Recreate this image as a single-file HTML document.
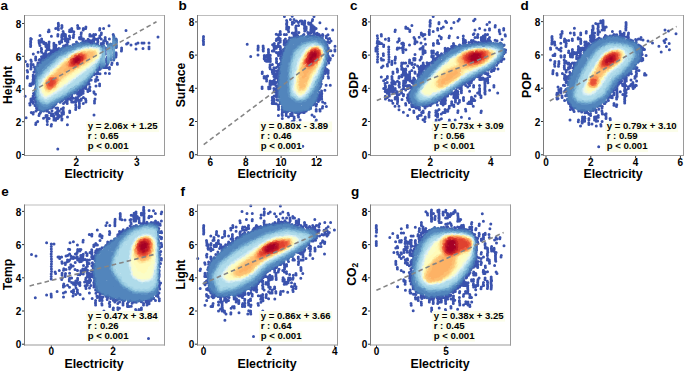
<!DOCTYPE html>
<html><head><meta charset="utf-8"><style>
html,body{margin:0;padding:0;background:#fff;}
body{width:685px;height:372px;position:relative;overflow:hidden;font-family:"Liberation Sans", sans-serif;}
</style></head><body>
<svg width="685" height="372" viewBox="0 0 685 372" style="position:absolute;left:0;top:0">
<g font-family='"Liberation Sans", sans-serif' font-weight="bold" fill="#000">
<g fill="none" stroke-width="3.0" stroke-linecap="round"><path stroke="#3a52ad" d="M68.0 42.1h0M76.5 41.9h0M88.6 41.7h0M90.1 41.6h0M66.0 44.9h0M67.2 44.8h0M63.5 45.9h0M58.9 48.4h0M50.9 52.4h0M104.0 54.6h0M39.6 59.6h0M41.8 59.5h0M102.4 63.4h0M34.4 66.9h0M33.9 72.1h0M34.3 77.1h0M34.0 80.1h0M91.2 79.9h0M33.4 80.7h0M32.8 82.4h0M89.1 84.1h0M80.0 90.9h0M33.5 93.5h0M34.0 93.5h0M76.9 92.5h0M78.6 93.3h0M34.1 94.9h0M67.1 98.6h0M35.0 105.6h0M36.5 107.9h0M40.2 112.9h0M25.4 61.6h0M25.2 96.2h0M27.4 64.5h0M27.6 65.9h0M27.2 70.4h0M27.6 71.9h0M27.4 76.5h0M27.3 78.0h0M30.1 83.9h0M29.9 85.4h0M29.7 103.4h0M30.0 105.1h0M31.3 39.0h0M30.9 60.0h0M31.3 61.4h0M31.0 64.3h0M31.1 66.1h0M31.2 67.4h0M30.9 68.9h0M31.2 84.1h0M30.9 85.4h0M30.9 99.1h0M31.0 100.6h0M31.0 101.8h0M31.3 112.4h0M33.3 54.0h0M33.1 64.4h0M33.2 75.0h0M33.2 76.6h0M33.4 77.8h0M33.1 79.6h0M33.1 80.9h0M33.1 82.5h0M33.3 84.1h0M33.1 96.0h0M33.0 97.4h0M33.3 99.1h0M33.0 101.9h0M33.2 103.3h0M33.4 112.6h0M33.1 114.1h0M35.7 57.0h0M35.6 58.5h0M35.7 59.9h0M35.6 70.5h0M36.0 72.2h0M35.6 76.3h0M35.8 78.1h0M36.0 79.6h0M35.9 80.9h0M35.6 82.6h0M35.7 88.5h0M35.8 89.8h0M35.6 91.5h0M35.6 93.1h0M35.8 94.6h0M36.1 96.1h0M35.9 97.5h0M35.7 98.8h0M35.8 100.5h0M35.9 102.0h0M36.0 111.1h0M35.9 122.9h0M35.7 124.5h0M38.1 52.3h0M37.9 62.9h0M37.8 64.3h0M38.0 65.9h0M38.2 105.0h0M37.8 106.3h0M37.9 108.0h0M39.0 40.5h0M39.1 42.1h0M39.3 43.6h0M39.1 59.9h0M39.3 108.0h0M39.3 109.4h0M39.4 114.1h0M39.0 115.4h0M41.6 39.0h0M41.6 40.7h0M41.4 42.0h0M41.3 48.2h0M41.6 49.5h0M41.3 51.2h0M41.6 52.3h0M41.5 56.8h0M41.7 58.5h0M41.4 63.1h0M43.6 42.0h0M43.8 43.6h0M43.7 53.9h0M43.7 55.3h0M43.6 56.8h0M43.6 111.1h0M43.5 118.3h0M45.8 43.3h0M45.7 44.9h0M45.9 46.5h0M46.0 51.1h0M45.7 52.6h0M46.0 53.9h0M45.9 55.7h0M45.9 56.8h0M45.6 109.5h0M46.0 115.6h0M45.9 117.0h0M47.5 45.2h0M47.2 46.4h0M47.1 48.1h0M47.1 49.4h0M47.4 109.4h0M47.3 110.9h0M47.2 115.4h0M47.2 117.1h0M47.5 118.6h0M47.1 119.9h0M47.3 121.5h0M47.3 124.5h0M48.9 30.1h0M49.1 31.6h0M49.1 41.9h0M48.9 43.6h0M48.9 45.1h0M48.9 46.4h0M48.9 48.2h0M49.0 49.5h0M48.9 54.0h0M49.1 55.6h0M49.0 56.9h0M49.2 112.5h0M49.2 118.5h0M51.4 36.2h0M51.1 50.8h0M51.4 52.5h0M51.4 54.0h0M51.1 55.6h0M51.5 113.8h0M51.2 115.6h0M51.5 124.6h0M51.2 126.1h0M53.9 43.3h0M53.9 44.9h0M54.0 46.5h0M54.0 48.0h0M53.7 49.4h0M53.6 51.0h0M53.6 52.5h0M53.9 53.9h0M53.6 104.8h0M53.8 115.7h0M53.7 116.8h0M54.0 118.5h0M53.9 120.1h0M55.7 28.5h0M56.0 45.2h0M55.7 46.6h0M55.9 48.2h0M55.9 49.5h0M55.6 51.1h0M56.0 103.4h0M55.9 107.9h0M55.6 112.7h0M56.0 114.1h0M56.0 118.6h0M55.7 120.2h0M57.9 34.4h0M57.8 36.1h0M57.5 49.4h0M57.8 51.2h0M57.7 108.1h0M57.8 109.5h0M57.7 110.8h0M57.4 112.4h0M57.7 114.0h0M57.7 115.6h0M57.6 117.2h0M57.7 118.4h0M59.3 42.1h0M59.6 43.6h0M59.4 49.6h0M59.4 51.1h0M59.2 111.0h0M59.2 115.4h0M59.3 116.9h0M61.9 25.4h0M62.0 27.0h0M61.6 28.3h0M62.0 34.4h0M61.7 35.9h0M61.7 37.5h0M62.0 39.1h0M61.6 40.6h0M61.7 41.9h0M61.7 49.4h0M62.0 99.0h0M61.9 100.4h0M61.8 112.7h0M62.0 114.1h0M62.0 118.7h0M61.8 120.1h0M63.1 31.4h0M63.4 33.1h0M63.4 34.4h0M63.1 36.1h0M63.5 103.6h0M63.4 107.8h0M63.2 109.5h0M63.3 111.2h0M63.5 112.5h0M63.5 114.1h0M65.4 34.6h0M65.6 35.9h0M65.5 37.4h0M65.3 38.9h0M65.4 40.7h0M65.6 45.2h0M65.6 48.0h0M65.6 97.4h0M65.6 98.9h0M65.4 102.0h0M67.3 39.1h0M67.5 40.7h0M67.2 42.0h0M67.3 95.9h0M67.5 97.4h0M67.5 99.1h0M67.1 100.6h0M67.2 101.8h0M67.2 103.6h0M67.5 116.9h0M67.4 124.7h0M69.7 29.9h0M69.5 31.5h0M69.4 36.1h0M69.8 37.6h0M69.5 39.0h0M69.6 98.9h0M69.7 110.9h0M69.7 112.4h0M71.7 28.6h0M71.8 29.9h0M71.4 31.6h0M71.7 94.4h0M71.7 96.0h0M71.4 97.6h0M71.4 100.6h0M71.7 102.0h0M73.8 31.7h0M73.8 34.6h0M73.5 35.9h0M73.3 37.5h0M73.5 101.9h0M75.9 97.7h0M75.8 98.8h0M75.7 100.6h0M75.7 102.2h0M75.7 105.1h0M76.0 106.7h0M75.8 107.8h0M75.7 109.5h0M77.6 25.5h0M77.8 27.2h0M77.9 28.5h0M77.6 94.3h0M77.5 97.6h0M77.6 98.9h0M77.8 100.3h0M79.3 28.3h0M79.5 37.4h0M79.6 38.8h0M79.5 88.5h0M79.4 91.6h0M79.3 93.2h0M79.5 94.4h0M79.3 95.9h0M79.4 100.3h0M79.2 101.9h0M79.4 103.3h0M79.4 105.0h0M79.4 106.6h0M79.2 107.8h0M81.3 32.8h0M81.1 34.6h0M81.2 37.3h0M80.9 38.9h0M81.2 43.6h0M81.1 86.8h0M80.9 88.5h0M81.2 90.0h0M81.0 92.8h0M81.2 94.5h0M81.3 98.9h0M81.1 100.3h0M83.3 28.6h0M83.2 30.1h0M83.5 38.9h0M83.1 40.5h0M83.3 42.1h0M83.0 43.4h0M83.1 85.7h0M83.4 86.8h0M83.4 88.5h0M83.1 90.1h0M83.2 91.6h0M83.1 93.2h0M83.4 97.6h0M83.3 103.4h0M85.9 27.1h0M85.7 28.5h0M85.7 41.9h0M85.8 84.0h0M85.9 85.3h0M85.8 87.0h0M85.9 88.4h0M85.5 99.1h0M85.9 100.5h0M85.9 102.1h0M88.1 39.2h0M88.0 40.4h0M88.1 42.0h0M88.1 43.4h0M88.1 81.2h0M88.1 82.3h0M88.0 83.9h0M87.8 90.1h0M87.9 91.5h0M89.9 34.6h0M89.8 35.9h0M89.8 40.4h0M89.9 42.2h0M89.8 43.3h0M89.8 77.8h0M89.9 87.0h0M89.5 88.4h0M91.7 35.9h0M91.8 42.1h0M91.7 43.4h0M93.7 34.6h0M93.7 36.2h0M93.9 37.3h0M93.7 38.9h0M93.7 40.6h0M93.7 41.8h0M93.9 43.6h0M93.8 73.3h0M93.9 74.8h0M93.9 91.7h0M94.1 93.1h0M95.6 34.6h0M95.8 39.2h0M95.7 79.5h0M95.5 81.2h0M95.5 94.3h0M97.7 39.0h0M97.7 40.5h0M97.9 41.8h0M97.5 43.5h0M97.7 45.2h0M97.6 69.0h0M97.9 70.4h0M97.6 71.9h0M97.8 73.6h0M99.8 28.6h0M99.8 36.0h0M99.7 37.4h0M99.8 63.1h0M100.0 64.5h0M99.7 66.1h0M99.5 67.5h0M100.0 69.2h0M100.0 73.7h0M99.6 83.9h0M99.6 85.7h0M101.4 32.9h0M101.2 34.4h0M101.2 38.9h0M101.2 43.5h0M101.4 45.1h0M101.1 46.6h0M101.2 60.1h0M103.6 28.4h0M103.8 40.7h0M103.5 42.0h0M103.5 43.4h0M103.9 61.5h0M103.5 63.0h0M103.9 64.6h0M104.0 65.9h0M103.7 67.6h0M105.2 37.4h0M105.2 39.0h0M105.5 40.7h0M105.5 48.1h0M105.5 49.7h0M105.2 50.9h0M105.2 52.7h0M105.4 53.9h0M105.3 59.8h0M105.5 61.4h0M105.3 66.1h0M105.3 67.5h0M105.4 73.3h0M107.2 42.2h0M107.2 43.5h0M107.3 57.2h0M107.0 58.3h0M107.2 59.9h0M107.3 61.4h0M106.9 63.0h0M107.3 64.6h0M107.1 67.5h0M109.4 38.9h0M109.5 44.9h0M109.7 46.4h0M109.7 48.0h0M109.3 49.7h0M109.6 51.0h0M109.2 52.4h0M109.5 67.4h0M109.4 69.1h0M109.4 73.6h0M111.7 46.7h0M112.1 49.3h0M112.0 63.0h0M111.7 64.5h0M113.2 34.5h0M113.5 43.5h0M113.4 44.8h0M116.0 52.7h0M116.2 53.9h0M116.1 55.6h0M115.9 57.1h0M117.3 63.2h0M117.4 64.3h0M121.6 48.1h0M121.6 49.7h0M121.4 50.9h0M40.0 35.4h0M48.3 31.8h0M77.6 56.9h0M39.9 45.5h0M99.6 30.0h0M109.0 25.7h0M95.6 34.5h0M64.8 39.0h0M74.8 53.8h0M92.7 39.9h0M43.6 57.5h0M85.9 40.9h0M57.9 110.8h0M73.1 98.2h0M42.0 108.1h0M45.8 103.0h0M57.4 111.3h0M52.9 114.0h0M39.7 109.3h0M61.4 116.0h0M37.7 121.4h0M52.0 110.8h0M61.4 109.0h0M26.1 117.8h0M36.7 110.0h0M43.7 100.3h0M54.7 104.3h0M80.4 81.2h0M81.9 82.8h0M97.8 80.1h0M89.9 90.6h0M84.8 88.0h0M96.4 73.7h0M96.9 76.9h0M88.6 74.1h0M126.0 30.6h0M126.6 44.0h0M128.0 43.0h0M131.0 45.0h0M136.0 44.0h0M138.0 43.0h0M142.0 43.0h0M144.0 43.0h0M149.0 43.0h0M149.0 47.0h0M136.0 49.0h0M143.0 48.5h0M149.0 48.7h0M158.0 37.0h0M57.8 148.9h0M94.0 115.0h0M95.0 99.0h0M94.5 101.0h0M94.5 103.0h0M96.0 86.0h0M30.7 38.5h0M30.8 39.9h0M30.6 41.2h0M30.7 42.5h0M30.5 43.9h0M30.7 45.2h0M30.6 46.6h0M58.3 23.3h0M58.4 24.6h0M58.5 25.9h0M58.1 27.2h0M58.3 28.5h0M58.4 29.8h0M85.2 41.7h0M91.3 41.9h0M35.1 69.1h0M44.5 58.2h0M65.4 46.2h0M104.1 52.1h0M34.9 99.0h0M99.2 68.8h0M103.3 56.0h0M83.4 87.5h0M77.7 91.6h0M46.6 111.1h0M37.6 108.4h0M52.3 107.5h0M100.9 45.4h0M88.8 81.5h0M48.4 55.5h0M51.0 54.0h0"/><path stroke="#3e5eaf" d="M102.4 47.0h0M35.4 68.9h0M53.6 106.5h0M35.9 104.4h0M67.2 45.9h0M35.7 100.5h0M68.8 96.5h0M74.5 93.0h0M50.4 108.3h0M60.2 102.2h0M49.2 55.3h0M98.0 69.4h0M35.0 90.3h0M102.9 48.2h0M101.9 60.3h0M52.7 106.8h0M65.7 98.7h0M40.8 111.7h0M116.1 39.0h0M116.2 47.4h0M40.1 62.6h0M96.4 43.9h0M62.0 100.7h0M88.0 81.9h0M86.7 42.3h0M84.8 85.3h0M86.2 84.3h0M41.7 61.3h0M113.7 36.0h0M113.7 60.0h0M71.6 94.5h0M35.5 76.8h0M73.0 44.7h0M81.9 42.7h0M89.7 79.5h0"/><path stroke="#426ab2" d="M43.3 60.0h0M37.7 106.3h0M80.9 87.9h0M76.7 90.9h0M75.2 91.9h0M61.9 48.5h0M63.1 99.7h0M94.0 43.3h0M36.4 67.1h0M86.5 83.6h0M91.4 76.5h0M36.1 75.2h0M55.1 104.5h0M36.4 103.7h0M35.6 89.2h0M63.3 47.8h0M66.1 97.4h0M39.1 109.2h0M43.8 110.6h0M60.3 49.3h0M97.8 45.2h0M114.0 37.0h0M113.9 59.0h0M116.3 40.0h0M116.3 46.4h0M101.3 48.0h0M101.3 68.0h0M100.8 46.3h0M74.4 44.5h0M48.2 109.0h0M84.0 42.9h0M36.5 71.0h0M36.5 71.8h0M37.5 105.6h0M82.7 86.5h0M48.3 56.8h0M45.0 110.1h0M54.5 104.6h0M43.0 61.2h0M77.9 43.6h0M36.0 78.0h0M76.7 43.9h0M38.0 65.5h0M38.6 65.0h0M41.8 110.6h0"/><path stroke="#4676b5" d="M96.4 69.9h0M36.1 95.1h0M113.8 38.0h0M114.0 58.0h0M70.1 94.7h0M66.3 47.7h0M36.9 67.4h0M100.4 61.9h0M67.7 96.0h0M62.5 49.2h0M55.6 52.9h0M80.7 87.6h0M78.9 88.3h0M73.2 92.7h0M52.9 54.4h0M36.3 99.0h0M54.0 54.2h0M84.1 85.1h0M68.5 47.0h0M70.1 46.3h0M49.7 107.6h0M51.7 55.7h0M39.3 108.7h0M54.4 104.2h0M80.6 43.5h0M101.3 49.0h0M101.4 67.0h0M61.2 50.0h0M36.1 81.0h0M116.5 41.1h0M116.4 45.3h0M46.6 59.0h0M35.9 92.8h0M36.8 70.6h0M81.9 43.6h0M52.9 105.1h0M103.8 46.0h0M108.2 45.0h0M110.7 44.0h0M103.8 66.0h0M108.0 63.0h0M110.9 60.0h0M36.9 72.3h0M48.2 58.2h0M69.7 94.5h0M59.5 50.8h0M35.9 82.5h0M36.2 90.6h0M35.9 87.3h0M39.9 109.2h0M58.1 101.3h0M102.3 55.0h0M92.0 75.1h0M56.8 52.6h0M36.2 84.9h0M88.6 44.1h0M50.6 106.7h0M113.7 39.0h0M113.6 57.0h0M66.2 96.3h0M77.2 44.4h0M102.3 49.1h0M58.8 51.6h0M96.3 69.5h0M76.2 89.9h0M42.4 62.4h0M86.8 43.8h0M86.9 80.9h0M80.1 43.9h0M52.3 55.6h0M57.3 101.4h0M85.9 43.9h0M70.3 93.7h0M48.3 107.4h0M54.9 102.9h0M42.5 109.3h0M64.0 97.6h0M37.4 73.9h0M83.1 85.1h0M87.9 79.5h0M45.3 60.3h0M38.4 104.9h0M39.0 106.0h0M116.5 42.1h0M116.1 44.2h0M61.3 50.3h0M78.4 88.0h0M76.9 88.9h0M39.4 65.3h0"/><path stroke="#5285bc" d="M89.8 77.1h0M55.4 102.6h0M59.3 100.0h0M37.7 75.1h0M85.4 82.5h0M101.7 50.0h0M101.3 66.0h0M45.5 108.3h0M39.9 107.4h0M36.5 95.4h0M38.1 102.8h0M89.6 77.5h0M66.9 48.3h0M84.6 83.7h0M37.8 68.6h0M48.6 106.8h0M71.6 92.5h0M80.1 44.4h0M40.6 65.1h0M111.0 45.0h0M110.6 59.0h0M43.0 109.2h0M88.3 44.6h0M113.9 40.0h0M114.0 56.0h0M116.2 43.2h0M43.4 62.7h0M36.6 80.1h0M78.0 45.2h0M108.4 46.0h0M108.2 62.0h0M49.2 106.4h0M55.5 54.4h0M59.1 52.6h0M92.3 73.9h0M104.0 47.0h0M104.1 65.0h0M71.0 47.5h0M72.4 47.0h0M47.1 107.7h0M88.6 78.3h0M97.3 67.5h0M52.3 103.9h0M62.6 97.9h0M41.5 108.5h0M50.9 57.6h0M63.1 50.4h0M68.4 48.6h0M47.1 60.4h0M38.4 70.6h0M64.3 49.8h0M80.2 86.5h0M58.0 100.7h0M40.6 106.8h0M101.6 58.1h0M61.4 98.4h0M38.1 101.7h0M52.9 56.5h0M102.1 48.4h0M50.0 58.5h0M54.1 56.1h0M72.7 91.6h0M56.7 54.4h0M73.5 46.9h0M60.0 52.7h0M40.4 65.8h0M66.5 49.5h0M74.8 46.6h0M60.6 99.1h0M54.4 102.5h0M47.4 60.6h0M76.4 45.9h0M53.5 56.6h0M45.4 62.1h0M43.3 107.8h0M50.6 58.3h0M42.1 64.9h0M39.0 68.8h0M46.6 61.3h0M40.0 104.9h0M80.7 85.8h0M39.5 68.0h0M71.5 48.0h0M67.3 49.6h0M45.1 63.0h0M72.9 91.0h0M49.4 60.2h0M42.2 65.9h0M39.0 102.9h0M51.9 58.7h0M36.3 92.0h0M55.6 56.1h0M44.1 64.8h0M41.0 68.0h0M46.3 62.8h0M58.6 53.9h0M48.5 61.4h0M44.8 64.3h0M102.4 50.9h0M43.0 66.5h0M64.6 51.1h0M38.3 102.2h0M41.8 67.8h0M40.8 69.6h0M39.5 72.6h0M68.6 49.5h0M41.6 69.6h0M45.2 107.1h0M51.1 60.2h0M40.5 71.0h0M53.4 58.0h0M43.9 67.2h0M42.2 106.1h0M39.1 74.1h0M36.6 84.0h0M62.8 51.9h0M40.7 71.6h0M66.6 50.4h0M54.9 57.1h0M75.2 89.6h0M81.0 45.4h0M50.3 104.7h0M57.5 55.2h0M99.3 46.7h0M48.9 62.5h0M48.6 62.8h0M47.5 64.2h0M44.5 67.2h0M47.0 64.7h0M43.7 106.4h0M45.3 66.0h0M85.7 44.9h0M113.6 41.0h0M113.8 55.0h0M101.0 59.0h0M60.4 53.7h0M98.6 64.9h0M93.5 45.2h0M50.8 61.2h0M50.0 61.9h0M87.1 45.1h0M67.4 50.4h0M101.6 51.0h0M101.6 65.0h0M61.9 53.1h0M73.5 48.1h0M70.1 49.5h0M64.3 52.0h0M83.0 45.6h0M40.6 103.3h0M94.1 72.0h0M46.1 106.1h0M70.8 91.9h0M51.5 103.4h0M110.8 46.0h0M110.6 58.0h0M52.6 60.6h0M49.5 104.5h0M95.4 45.6h0M78.6 46.7h0M91.3 45.0h0M59.1 55.2h0M44.6 68.4h0M83.9 45.6h0M67.0 94.7h0M54.9 58.4h0M42.4 70.8h0"/><path stroke="#5e93c4" d="M108.3 47.0h0M108.3 61.0h0M69.0 50.4h0M37.9 77.2h0M83.0 83.7h0M58.3 99.3h0M45.9 67.1h0M47.1 65.9h0M44.1 105.4h0M39.1 75.5h0M62.7 53.7h0M71.5 49.3h0M86.2 80.4h0M46.7 105.7h0M75.1 89.2h0M104.1 48.0h0M104.1 64.0h0M37.9 100.2h0M61.6 53.8h0M44.1 69.4h0M42.6 104.6h0M113.8 42.0h0M113.6 54.0h0M68.9 92.9h0M52.7 102.6h0M51.0 62.4h0M49.7 64.0h0M48.3 104.7h0M49.3 103.8h0M74.1 89.4h0M43.2 70.8h0M98.8 62.9h0M41.0 73.6h0M94.3 45.3h0M41.6 73.1h0M101.5 52.0h0M101.7 64.0h0M77.6 87.2h0M100.2 60.6h0M101.5 56.9h0M83.8 82.1h0M37.9 99.3h0M70.3 50.7h0M57.4 57.0h0M79.4 47.0h0M42.6 71.9h0M75.2 48.3h0M60.5 98.1h0M48.4 65.4h0M113.6 43.0h0M113.8 53.0h0M110.7 47.0h0M111.0 57.0h0M79.5 85.3h0M54.4 60.2h0M45.0 104.8h0M56.5 100.1h0M41.4 103.2h0M54.4 101.0h0M73.0 49.6h0M89.6 45.4h0M51.3 102.4h0M40.9 102.4h0M38.7 100.2h0M102.0 54.1h0M64.6 95.6h0M108.3 48.0h0M108.1 60.0h0M61.9 97.1h0M58.1 56.8h0M37.0 91.2h0M52.1 62.5h0M104.2 49.0h0M104.1 63.0h0M80.8 47.1h0M56.1 100.1h0M37.0 90.1h0M113.9 44.0h0M113.8 52.0h0M76.9 47.9h0M84.0 81.4h0M68.0 92.9h0M101.4 53.0h0M101.3 63.0h0M64.9 94.9h0M59.3 55.9h0M49.1 65.3h0M46.2 68.7h0"/><path stroke="#6aa2cb" d="M39.0 76.9h0M65.1 53.5h0M38.1 78.3h0M85.5 79.9h0M81.1 84.1h0M62.5 96.4h0M71.5 90.5h0M65.7 94.5h0M76.6 87.1h0M91.4 73.9h0M110.8 48.0h0M111.0 56.0h0M113.8 45.0h0M113.6 51.0h0M73.4 89.0h0M86.4 79.2h0M88.6 77.1h0M61.8 55.2h0M89.8 75.5h0M53.0 61.8h0M66.3 52.8h0M82.2 82.8h0M65.7 53.6h0M113.7 46.0h0M113.7 50.0h0M102.1 52.2h0M101.5 54.0h0M101.4 62.0h0M108.0 49.0h0M108.1 59.0h0M56.6 58.9h0M55.5 60.0h0M97.4 46.3h0M113.9 47.0h0M113.7 49.0h0M80.6 47.7h0M113.7 48.0h0M103.9 50.0h0M103.9 62.0h0M110.7 49.0h0M110.7 55.0h0M94.0 46.1h0M71.7 51.2h0M37.6 81.0h0M37.8 97.9h0M82.9 46.8h0M101.4 55.0h0M101.7 61.0h0M100.0 47.3h0M94.5 70.2h0M75.1 49.6h0M43.1 73.0h0M61.5 96.5h0M37.8 79.4h0M92.8 71.8h0M56.4 99.1h0M55.3 99.6h0M37.6 81.8h0M67.7 53.1h0M41.2 75.6h0M108.2 50.0h0M108.1 58.0h0M92.1 46.2h0"/><path stroke="#77afd2" d="M110.6 50.0h0M110.8 54.0h0M37.5 93.0h0M69.1 91.3h0M65.8 93.5h0M37.3 83.5h0M78.4 85.1h0M44.1 71.9h0M37.4 85.2h0M101.4 56.0h0M101.5 60.0h0M55.1 61.2h0M37.5 87.3h0M41.8 102.1h0M37.4 88.9h0M97.0 65.4h0M110.9 51.0h0M110.7 53.0h0M101.4 57.0h0M101.5 59.0h0M104.2 51.0h0M104.0 61.0h0M96.2 46.7h0M77.8 48.6h0M98.6 62.0h0M87.0 46.7h0M53.1 100.4h0M101.5 58.0h0M110.7 52.0h0M84.0 46.9h0M63.6 95.0h0M43.5 102.9h0M108.4 51.0h0M108.4 57.0h0M81.6 82.7h0M41.1 76.2h0M86.8 77.5h0M95.8 67.2h0M97.6 63.9h0M50.6 65.7h0M82.8 81.1h0M96.4 65.9h0M47.7 103.1h0M39.5 78.0h0M75.4 86.4h0M37.8 95.9h0M108.2 52.0h0M108.2 56.0h0M103.8 52.0h0M103.8 60.0h0M54.4 61.9h0M90.6 74.1h0M54.2 62.5h0M45.4 71.1h0"/><path stroke="#85bbd8" d="M108.1 53.0h0M108.1 55.0h0M38.9 98.7h0M37.8 94.3h0M40.8 100.7h0M70.2 52.7h0M101.0 49.0h0M108.3 54.0h0M49.2 102.0h0M93.4 70.3h0M68.9 52.8h0M71.5 88.8h0M46.5 69.9h0M58.1 59.2h0M79.6 48.4h0M51.6 64.9h0M56.9 60.1h0M93.6 46.3h0M46.6 103.0h0M66.8 91.8h0M73.7 87.7h0M104.2 53.0h0M103.9 59.0h0M44.7 72.3h0M49.1 67.6h0M48.5 67.8h0M94.0 69.6h0M40.0 78.0h0M86.0 46.8h0M77.8 49.1h0M59.8 57.3h0M50.6 101.0h0M69.0 90.5h0M75.5 85.8h0M45.4 102.8h0M84.3 78.9h0M39.1 97.9h0M103.8 54.0h0M103.8 58.0h0M91.6 72.3h0M71.1 88.9h0M85.3 78.1h0M79.1 83.7h0M75.9 85.7h0M41.6 76.5h0M98.8 60.1h0M43.6 102.2h0M104.2 57.0h0M104.2 55.0h0M52.5 64.4h0M60.0 96.0h0M58.2 97.2h0M103.8 56.0h0M63.5 56.0h0M47.6 69.5h0M79.5 83.1h0M44.7 102.6h0M38.5 95.4h0M70.1 89.6h0M39.0 79.9h0M42.3 75.7h0M78.1 84.0h0M96.6 64.3h0M97.6 62.4h0"/><path stroke="#93c6df" d="M38.4 94.6h0M69.0 53.5h0M67.9 54.1h0M98.2 61.5h0M72.1 52.2h0M73.2 51.3h0M41.8 100.6h0M38.6 93.3h0M65.8 91.8h0M47.4 102.1h0M64.4 93.2h0M88.6 46.9h0M59.4 58.5h0M63.6 93.5h0M94.5 67.7h0M87.5 75.6h0M54.9 97.9h0M53.8 98.7h0M51.9 99.5h0M93.4 68.8h0M89.7 46.8h0M38.3 91.1h0M61.7 57.3h0M45.9 71.9h0M43.3 74.8h0M88.5 74.6h0M38.6 90.5h0M91.8 71.1h0M100.6 56.6h0M39.0 81.9h0M101.0 53.0h0M61.4 94.3h0M53.8 64.2h0M80.9 80.9h0M56.6 97.0h0M40.7 98.5h0M46.2 101.8h0M58.9 59.4h0M47.7 70.5h0M86.6 75.8h0M64.9 56.2h0M76.9 50.0h0M64.1 56.6h0M49.3 68.5h0M45.5 73.0h0"/><path stroke="#a1d1e5" d="M85.9 47.7h0M84.1 78.2h0M78.0 82.9h0M59.1 95.4h0M48.1 101.0h0M49.0 100.5h0M39.3 80.8h0M39.9 97.5h0M85.6 76.7h0M77.1 83.7h0M82.1 79.5h0M65.5 56.1h0M96.6 47.4h0M38.9 86.4h0M60.5 94.6h0M84.0 48.0h0M52.4 66.2h0M73.2 52.0h0M56.5 96.3h0M67.3 55.2h0M57.0 61.8h0M66.4 90.7h0M43.0 76.7h0M55.9 62.9h0M94.4 66.1h0M93.4 67.4h0M98.8 59.0h0M79.0 49.5h0M67.5 89.6h0M70.6 53.7h0M94.8 64.8h0M39.5 84.2h0M41.9 77.9h0M64.9 91.2h0M58.3 61.0h0M54.4 96.9h0M71.6 86.5h0M51.6 67.4h0M50.6 99.1h0M45.6 100.8h0M43.6 99.9h0M76.4 82.8h0M73.5 84.8h0M72.1 86.1h0M89.9 71.7h0M39.5 85.0h0M63.3 57.6h0M82.5 77.8h0M40.5 80.7h0M68.8 87.9h0M42.9 99.5h0M63.2 92.0h0M74.4 51.6h0M74.6 84.2h0M79.6 80.7h0M88.2 73.1h0M41.8 98.7h0M58.5 94.3h0M88.7 47.5h0M90.5 70.5h0M65.7 56.7h0M55.0 64.4h0M85.3 75.0h0M61.9 58.4h0M41.0 79.9h0"/><path stroke="#afdbea" d="M59.9 60.2h0M51.5 98.1h0M68.8 87.5h0M74.0 84.1h0M44.8 75.2h0M91.7 69.2h0M61.6 92.6h0M46.1 100.6h0M77.7 81.7h0M84.2 75.9h0M56.8 94.8h0M51.9 67.7h0M80.5 78.9h0M81.3 77.9h0M82.9 48.6h0M70.1 86.6h0M55.2 95.9h0M50.9 68.7h0M98.8 48.3h0M77.1 81.6h0M75.5 82.3h0M79.2 80.1h0M72.5 84.6h0M86.9 73.2h0M40.6 96.2h0M46.2 73.8h0M85.5 73.9h0M70.2 85.8h0M65.2 89.6h0M41.7 97.3h0M83.0 76.2h0M67.2 87.9h0M95.8 62.8h0M65.6 89.1h0M84.6 74.6h0M78.5 79.3h0M100.5 51.2h0M88.0 71.3h0M52.4 97.1h0M88.3 70.8h0M59.9 92.7h0M76.9 79.9h0M63.3 90.1h0M80.1 77.7h0M69.3 85.5h0M67.3 87.2h0M78.6 78.3h0M81.1 76.7h0M40.4 81.8h0M49.4 98.3h0M47.6 72.4h0M84.1 73.9h0M73.1 82.3h0M75.4 80.3h0M86.8 71.5h0M54.2 65.8h0M58.3 93.0h0M41.5 80.1h0M71.8 83.1h0M70.2 84.4h0M79.3 77.0h0M89.9 69.2h0M49.7 70.7h0M61.0 91.1h0M56.8 63.6h0M65.1 88.2h0M55.2 95.1h0M40.2 93.3h0M81.1 75.5h0M86.0 71.7h0M82.1 74.3h0M90.6 67.9h0M53.6 95.5h0M68.9 84.5h0M74.1 80.6h0M86.9 70.4h0M83.1 73.5h0M76.3 78.5h0M58.6 62.7h0M49.0 71.6h0M39.4 88.0h0M74.4 80.1h0M53.8 95.0h0M67.9 84.9h0M44.6 99.0h0M62.2 59.6h0M88.1 69.3h0M63.4 58.3h0M46.5 98.9h0"/><path stroke="#bde2ee" d="M93.2 65.4h0M59.5 90.8h0M47.5 98.6h0M90.9 67.1h0M58.1 92.0h0M40.3 84.4h0M65.4 86.7h0M52.6 95.5h0M56.4 93.1h0M40.2 86.5h0M72.5 81.1h0M63.9 87.3h0M45.5 76.0h0M77.6 76.8h0M51.5 95.8h0M51.2 69.9h0M84.0 71.9h0M98.8 48.9h0M57.1 64.4h0M41.8 81.1h0M61.2 89.6h0M57.4 92.2h0M98.1 48.5h0M43.5 78.6h0M49.5 97.0h0M47.1 74.5h0M73.9 79.5h0M93.3 64.6h0M98.0 59.5h0M55.9 65.4h0M69.3 55.0h0M47.5 97.9h0M40.9 94.0h0M61.0 61.2h0M44.5 77.7h0M70.2 82.3h0M42.8 97.0h0M78.2 50.6h0M91.6 65.8h0M53.5 68.0h0M59.5 62.4h0M87.5 68.8h0M79.5 75.1h0M52.3 94.9h0M99.3 57.1h0M40.1 91.3h0M58.2 63.8h0M100.0 55.0h0M64.4 58.6h0M62.7 88.2h0M85.8 70.2h0"/><path stroke="#cae8f2" d="M61.0 89.0h0M40.2 88.2h0M80.6 73.8h0M88.4 67.8h0M64.8 85.9h0M100.2 54.2h0M81.6 49.5h0M76.1 51.4h0M56.0 92.5h0M45.0 98.0h0M48.0 73.8h0M60.0 89.6h0M60.5 62.0h0M63.3 59.4h0M67.2 56.9h0M53.1 69.2h0M65.9 85.1h0M42.5 95.5h0M40.2 89.3h0M96.2 61.7h0M71.0 81.2h0M41.1 85.6h0M63.2 87.1h0M42.2 83.1h0M66.9 83.9h0"/><path stroke="#d8eff6" d="M55.7 67.2h0M92.4 47.9h0M60.0 89.0h0M61.8 87.6h0M81.4 72.5h0M46.0 97.4h0M58.3 89.9h0M86.7 48.5h0M49.9 95.4h0M41.6 85.1h0M68.7 82.7h0M81.9 71.9h0M96.4 60.3h0M54.2 93.0h0M56.8 66.1h0M42.4 94.5h0M47.4 75.4h0M53.0 93.3h0M84.5 49.0h0M64.7 59.4h0M99.4 54.6h0M85.2 69.4h0M74.7 77.6h0M76.8 75.5h0M71.4 54.4h0M49.9 73.2h0M59.4 63.9h0M41.4 92.4h0M53.1 70.1h0M93.9 62.5h0M95.0 48.4h0"/><path stroke="#e3f4f2" d="M89.5 65.8h0M51.3 71.3h0M43.8 79.8h0M75.2 52.4h0M46.7 76.8h0M84.2 69.9h0M57.0 90.3h0M76.2 75.8h0M51.6 94.1h0M55.4 91.6h0M82.6 70.9h0M71.7 79.3h0M41.3 91.8h0M74.2 77.7h0M69.3 81.1h0M47.9 96.0h0M64.9 84.3h0M89.9 48.3h0M62.4 61.3h0M81.9 50.2h0M79.2 73.6h0M98.1 58.1h0M45.2 96.5h0M53.8 69.6h0M43.6 81.5h0M42.6 83.8h0M91.4 63.9h0M98.9 52.1h0M77.6 74.7h0M79.1 51.0h0M91.5 48.4h0M44.0 95.7h0M66.1 83.7h0M97.6 49.3h0"/><path stroke="#ebf7e4" d="M80.1 72.3h0M42.9 82.9h0M88.2 66.7h0M70.0 56.0h0M49.9 94.3h0M65.9 58.9h0M66.4 82.9h0M90.5 64.4h0M87.2 66.9h0M93.6 62.1h0M44.1 94.9h0M75.0 76.2h0M91.4 63.6h0M44.8 79.6h0M94.2 61.7h0M60.8 63.6h0M41.5 88.5h0M46.3 95.8h0M58.3 88.3h0M76.8 51.9h0M98.5 51.6h0M52.0 72.1h0M77.8 73.6h0M62.5 85.6h0M41.6 89.8h0M92.7 62.7h0M58.4 65.9h0M96.5 49.6h0M66.9 82.1h0M69.5 80.0h0"/><path stroke="#f3fad5" d="M41.9 87.4h0M98.6 55.2h0M83.7 69.1h0M85.4 67.3h0M43.2 92.4h0M69.8 56.7h0M77.7 51.9h0M61.1 85.9h0M97.6 50.4h0M71.8 77.6h0M67.3 81.0h0M74.7 75.6h0M70.2 79.1h0M57.5 88.4h0M73.3 54.0h0M69.4 57.0h0M70.3 78.6h0M51.3 92.5h0M59.8 86.6h0M81.4 70.2h0M62.7 84.3h0M58.5 87.5h0M64.6 61.2h0M76.2 73.8h0"/><path stroke="#fbfdc6" d="M64.6 82.8h0M78.4 71.9h0M57.2 68.2h0M84.3 67.7h0M72.3 76.7h0M53.7 90.8h0M60.1 85.8h0M73.1 76.2h0M43.0 90.9h0M97.3 56.7h0M54.4 70.3h0M88.3 64.5h0M66.4 81.2h0M45.9 94.4h0M47.0 78.0h0M87.2 65.5h0M55.5 89.6h0M47.6 94.0h0M48.3 93.6h0M82.4 68.5h0M45.3 94.2h0M51.8 72.8h0M71.1 77.1h0M93.6 49.7h0M69.1 78.5h0M51.0 74.1h0M85.5 49.8h0M63.2 82.9h0M80.1 70.1h0M65.4 60.3h0M45.1 92.9h0M91.0 49.6h0M52.0 91.4h0M58.7 67.0h0M43.5 90.6h0M73.5 74.7h0M67.4 78.9h0M96.1 57.9h0M73.9 73.9h0M92.8 60.5h0M72.3 74.9h0M74.6 73.6h0M76.6 72.0h0M61.6 83.5h0M68.0 77.8h0"/><path stroke="#fffbb9" d="M75.5 72.3h0M56.0 69.3h0M64.1 81.1h0M77.4 71.1h0M65.4 79.4h0M46.6 92.9h0M94.0 59.5h0M49.4 92.7h0M44.5 90.9h0M95.1 50.2h0M96.6 57.2h0M68.9 76.5h0M50.4 92.0h0M61.8 82.0h0M80.9 68.5h0M63.5 80.7h0M85.0 65.9h0M82.6 50.8h0M95.9 50.4h0M79.8 69.1h0M72.1 74.0h0M70.7 74.9h0M97.2 55.6h0M46.5 79.1h0M62.7 63.4h0M87.4 49.9h0M60.0 83.7h0M49.9 91.9h0M89.2 62.9h0M88.1 50.1h0M59.6 66.5h0M81.9 67.7h0M44.5 90.2h0M43.3 87.9h0M58.7 85.0h0M51.1 74.3h0M83.4 66.6h0M89.5 62.6h0M87.6 63.9h0M60.6 82.5h0M64.2 79.2h0M45.4 80.7h0M52.7 90.4h0M77.8 69.3h0M67.8 76.1h0M97.2 53.1h0M97.0 53.6h0M90.2 49.9h0M58.8 84.0h0M43.7 87.2h0M76.2 70.6h0M65.5 77.6h0M83.1 66.4h0M49.9 75.6h0"/><path stroke="#fff3ad" d="M91.1 61.1h0M67.8 59.2h0M63.1 79.6h0M57.1 86.4h0M48.6 76.9h0M64.1 78.4h0M81.1 67.5h0M81.6 51.6h0M44.4 83.0h0M43.9 84.3h0M94.3 58.0h0M61.0 65.5h0M46.3 91.1h0M68.4 74.9h0M53.4 89.6h0M55.6 88.2h0M65.6 76.8h0M61.5 80.4h0M87.1 50.5h0M90.4 61.0h0M84.3 51.2h0M73.7 71.4h0M43.9 85.1h0M93.4 58.3h0M76.5 69.7h0M85.5 64.5h0M55.4 71.2h0M86.9 63.3h0M69.3 73.9h0M88.7 50.5h0M54.8 71.6h0M85.1 51.1h0M74.6 70.4h0M61.8 79.3h0M81.5 66.6h0M57.1 85.5h0M54.1 72.7h0"/><path stroke="#feeba1" d="M63.9 63.1h0M53.7 73.0h0M72.0 56.1h0M61.9 64.8h0M70.6 73.2h0M96.2 54.6h0M67.8 59.5h0M91.2 60.1h0M57.5 69.4h0M57.1 70.1h0M89.0 61.6h0M65.1 76.7h0M95.7 55.4h0M44.6 84.4h0M48.3 91.2h0M60.5 80.6h0M56.0 86.4h0M67.0 75.0h0M71.4 72.1h0M89.9 60.5h0M45.1 88.0h0M65.3 62.0h0M94.8 56.0h0M57.6 84.0h0M52.9 88.8h0M91.0 50.8h0M84.0 64.3h0M60.2 67.7h0M94.6 56.6h0"/><path stroke="#fee395" d="M82.8 65.1h0M94.7 51.6h0M67.8 73.8h0M79.4 52.5h0M95.6 52.8h0M62.6 77.9h0M55.9 86.1h0M46.5 89.7h0M49.9 76.5h0M85.8 63.0h0M48.4 78.0h0M79.2 67.2h0M54.1 87.9h0M66.2 74.8h0M71.9 71.0h0M91.1 58.9h0M76.8 68.0h0M84.1 52.2h0M61.9 78.0h0M92.5 51.4h0M50.3 89.8h0M89.8 51.3h0M47.4 90.1h0M63.0 77.0h0"/><path stroke="#fed889" d="M58.1 82.3h0M87.4 61.6h0M95.1 53.9h0M70.1 71.8h0M58.9 80.9h0M73.0 70.2h0M45.1 85.5h0M94.6 52.5h0M69.6 59.1h0M52.2 75.4h0M63.5 64.8h0M59.0 69.6h0M68.5 60.0h0M56.9 71.5h0M66.6 73.8h0M69.5 72.0h0M87.5 52.2h0M46.5 81.1h0M45.3 86.9h0M77.9 67.1h0M49.2 90.2h0"/><path stroke="#fecb7d" d="M62.6 66.4h0M61.0 67.9h0M65.4 63.4h0M72.9 69.6h0M58.5 70.3h0M62.0 76.8h0M64.7 75.1h0M67.0 62.2h0M59.7 79.6h0M84.8 52.3h0M68.1 72.4h0M75.5 54.7h0M93.1 52.5h0M74.6 68.6h0M92.6 56.4h0M64.4 65.1h0M88.7 52.3h0M54.7 74.5h0M60.6 77.9h0M79.9 65.3h0M47.6 79.9h0M46.6 88.2h0M70.7 70.6h0M91.7 57.1h0M74.0 55.4h0M66.8 62.5h0M93.6 53.4h0M63.5 75.2h0M55.7 73.8h0M83.1 63.5h0M90.2 58.1h0"/><path stroke="#fdbf71" d="M61.1 68.8h0M60.5 69.7h0M77.9 66.4h0M60.1 69.9h0M88.2 59.7h0M54.5 86.3h0M91.4 52.9h0M90.0 53.0h0M89.0 58.6h0M51.6 76.5h0M92.6 55.5h0M72.6 69.0h0M64.8 73.4h0M86.7 60.3h0M62.4 68.1h0M59.1 71.6h0M45.9 83.7h0M81.5 53.1h0M74.7 67.8h0M57.2 73.5h0M80.9 64.4h0M91.7 53.3h0M66.4 64.0h0M57.0 82.3h0M89.7 53.4h0M82.9 52.8h0M60.9 69.9h0M65.0 66.1h0M61.6 75.6h0M87.9 53.6h0M55.6 75.0h0M84.4 61.8h0M56.4 74.4h0M89.0 57.7h0M89.4 56.8h0M60.6 76.1h0M69.1 70.0h0M63.3 73.3h0M91.3 54.9h0M80.1 64.8h0M52.0 76.4h0M62.8 68.9h0M59.9 72.0h0M64.3 67.6h0M72.8 56.5h0M90.5 55.7h0M65.5 71.6h0M67.0 70.5h0M62.5 70.1h0M64.2 68.5h0M58.9 73.5h0M65.4 67.2h0M61.3 74.0h0M64.0 71.8h0M60.8 71.8h0M65.8 66.6h0M68.7 69.6h0M62.7 72.3h0"/><path stroke="#fdb265" d="M60.3 73.6h0M59.5 74.4h0M65.0 70.5h0M65.6 69.8h0M77.4 54.0h0M66.6 69.1h0M57.8 75.6h0M67.6 68.5h0M72.3 57.1h0M58.0 76.6h0M83.5 62.7h0M70.9 58.3h0M67.5 67.7h0M73.5 67.9h0M67.0 65.4h0M87.9 55.9h0M85.0 61.1h0M86.7 59.0h0M77.0 66.4h0M57.9 79.7h0M57.8 78.0h0M86.6 54.1h0M76.7 54.6h0M70.6 68.5h0M57.0 77.2h0M56.0 76.6h0M75.4 55.1h0M85.7 59.8h0M49.9 78.2h0M86.8 57.1h0M53.4 76.6h0M47.6 87.9h0M46.6 85.9h0M86.9 55.7h0"/><path stroke="#fba25c" d="M47.7 81.2h0M70.3 67.9h0M85.9 58.3h0M47.2 86.8h0M67.8 64.4h0M81.8 53.6h0M50.5 88.4h0M54.1 85.9h0M56.8 80.8h0M69.3 67.0h0M56.4 77.9h0M68.7 62.9h0M55.9 83.0h0M85.3 54.5h0M46.9 82.5h0M71.7 67.6h0M71.9 58.1h0M84.6 53.9h0M80.9 63.4h0"/><path stroke="#f99254" d="M85.8 55.6h0M56.9 80.1h0M74.9 66.5h0M55.2 83.9h0"/><path stroke="#f7814c" d="M69.3 65.5h0M69.4 62.1h0M81.4 54.1h0M50.6 78.5h0M49.1 88.2h0M52.1 87.1h0M55.6 78.7h0M49.4 79.7h0M85.2 57.6h0M69.5 65.2h0M47.4 82.6h0M82.0 62.0h0M70.0 61.6h0"/><path stroke="#f47045" d="M47.5 84.4h0M71.1 60.1h0M70.7 65.5h0M54.2 84.3h0M83.3 59.3h0M79.5 54.4h0M54.9 79.0h0M73.7 65.8h0M81.3 62.0h0M77.2 65.2h0M51.0 87.1h0M48.4 86.6h0M53.5 78.5h0M79.5 63.6h0M52.0 78.4h0M49.0 87.0h0"/><path stroke="#ee603d" d="M84.2 58.0h0M84.0 55.6h0M50.9 79.2h0M78.3 63.9h0M54.0 79.0h0M52.3 85.7h0M84.0 56.7h0M55.1 81.6h0M72.4 65.5h0M70.4 63.4h0M48.3 85.1h0M75.0 56.5h0M50.2 80.6h0"/><path stroke="#e75136" d="M70.8 64.7h0M76.0 55.9h0M52.7 79.5h0M79.7 55.2h0M54.1 82.7h0M81.1 54.9h0M71.5 64.3h0M49.1 82.9h0M75.2 65.2h0M82.3 59.5h0M53.8 81.0h0M51.3 85.0h0"/><path stroke="#df412f" d="M50.0 85.0h0M49.4 83.5h0M52.1 83.9h0M51.1 81.7h0M71.8 59.9h0M52.3 80.8h0M50.9 83.5h0M52.2 82.4h0M51.0 83.0h0M82.5 55.9h0M72.9 64.4h0M71.6 62.1h0M73.2 59.0h0M82.4 57.1h0"/><path stroke="#d83228" d="M78.3 62.9h0M81.5 60.1h0M82.1 58.6h0M72.3 62.9h0M77.1 63.3h0M78.7 56.0h0"/><path stroke="#cb2527" d="M81.6 58.3h0M74.1 63.5h0M81.5 57.5h0M78.9 62.1h0M73.0 62.2h0"/><path stroke="#bf1927" d="M74.5 58.9h0M78.0 62.1h0M78.2 56.9h0M79.8 57.3h0M79.5 60.6h0M74.8 62.6h0M77.1 57.6h0M74.0 60.3h0"/><path stroke="#b20c26" d="M76.5 58.2h0M79.3 59.2h0M75.1 60.0h0M75.0 61.3h0M77.4 58.3h0"/><path stroke="#a50026" d="M76.4 61.2h0M77.9 59.4h0M76.8 60.1h0"/></g>
<line x1="32.3" y1="91.14" x2="156.5" y2="21.78" stroke="#858585" stroke-width="1.6" stroke-dasharray="4.6 3.1"/>
<rect x="86.1" y="121.5" width="73" height="10.6" fill="#fbfdea"/>
<rect x="86.1" y="131.5" width="33.4" height="10.6" fill="#fbfdea"/>
<rect x="86.1" y="141.5" width="43" height="10.6" fill="#fbfdea"/>
<text x="87.7" y="129.1" font-size="9.6">y = 2.06x + 1.25</text>
<text x="87.7" y="139.0" font-size="9.6">r : 0.65</text>
<text x="87.7" y="149.0" font-size="9.6">p &lt; 0.001</text>
<rect x="24" y="15" width="141" height="1" fill="#bdbdbd"/>
<rect x="24" y="155" width="141" height="1" fill="#9a9a9a"/>
<rect x="164" y="15" width="1" height="141" fill="#9a9a9a"/>
<rect x="24" y="15" width="1" height="141" fill="#7a7a7a"/>
<rect x="22" y="154.0" width="2" height="1" fill="#333"/>
<text x="21.4" y="158.7" font-size="10" text-anchor="end">0</text>
<rect x="22" y="121.2" width="2" height="1" fill="#333"/>
<text x="21.4" y="126.0" font-size="10" text-anchor="end">2</text>
<rect x="22" y="88.5" width="2" height="1" fill="#333"/>
<text x="21.4" y="93.2" font-size="10" text-anchor="end">4</text>
<rect x="22" y="55.8" width="2" height="1" fill="#333"/>
<text x="21.4" y="60.5" font-size="10" text-anchor="end">6</text>
<rect x="22" y="23.0" width="2" height="1" fill="#333"/>
<text x="21.4" y="27.7" font-size="10" text-anchor="end">8</text>
<rect x="75.8" y="156" width="1" height="2" fill="#333"/>
<text x="76.3" y="165.5" font-size="10" text-anchor="middle">2</text>
<rect x="136.2" y="156" width="1" height="2" fill="#333"/>
<text x="136.7" y="165.5" font-size="10" text-anchor="middle">3</text>
<text x="94.0" y="178.0" font-size="12.4" text-anchor="middle">Electricity</text>
<text transform="translate(11.5,85.0) rotate(-90)" font-size="12.2" text-anchor="middle">Height</text>
<text x="0.5" y="9.6" font-size="13.5">a</text>
<g fill="none" stroke-width="3.0" stroke-linecap="round"><path stroke="#3a52ad" d="M310.6 32.0h0M298.9 32.4h0M307.8 32.5h0M317.2 33.2h0M303.9 34.4h0M315.5 33.9h0M316.7 34.9h0M297.6 35.4h0M320.1 35.8h0M323.0 35.4h0M289.6 37.7h0M285.4 38.9h0M327.9 41.8h0M285.3 42.9h0M329.4 42.8h0M284.1 44.5h0M328.3 48.5h0M281.3 50.8h0M330.9 50.7h0M281.0 57.0h0M329.0 57.3h0M329.2 58.0h0M328.9 60.5h0M328.1 61.1h0M276.5 62.6h0M328.7 63.0h0M278.9 64.6h0M327.1 69.5h0M276.7 71.1h0M278.4 70.2h0M277.4 77.9h0M275.9 85.6h0M276.6 91.8h0M321.1 93.5h0M276.5 96.8h0M277.0 99.7h0M318.4 99.1h0M319.4 99.9h0M318.3 101.4h0M316.6 104.2h0M316.1 106.0h0M303.5 112.5h0M298.0 113.5h0M298.7 114.2h0M262.3 72.1h0M262.2 73.4h0M262.1 87.0h0M262.1 88.5h0M264.3 55.6h0M264.3 56.9h0M264.2 58.7h0M264.1 76.6h0M264.1 78.0h0M266.5 55.6h0M266.6 57.0h0M266.4 60.1h0M266.4 61.3h0M266.4 76.4h0M266.4 78.0h0M266.6 79.6h0M266.6 80.9h0M268.4 49.4h0M268.5 51.1h0M268.5 52.4h0M268.5 54.1h0M268.5 55.4h0M268.4 57.0h0M268.5 58.7h0M268.4 59.9h0M268.3 61.3h0M268.6 86.9h0M268.7 88.7h0M270.3 55.3h0M270.0 56.8h0M270.3 58.6h0M270.3 60.0h0M270.3 61.4h0M270.1 64.7h0M270.0 65.9h0M269.9 67.5h0M270.2 68.8h0M270.1 81.0h0M270.0 82.4h0M269.9 84.0h0M270.3 85.4h0M270.0 87.1h0M270.0 88.5h0M272.6 44.8h0M272.3 51.0h0M272.4 64.5h0M272.2 70.3h0M272.3 71.9h0M272.6 73.4h0M272.4 81.2h0M272.5 82.5h0M272.3 84.1h0M272.3 97.3h0M272.5 98.8h0M272.2 100.6h0M272.5 102.2h0M272.2 103.4h0M274.3 43.4h0M274.3 44.9h0M273.9 46.6h0M274.2 47.8h0M274.1 49.6h0M274.0 51.1h0M273.9 67.7h0M274.1 69.1h0M274.1 70.5h0M273.9 72.0h0M274.0 73.6h0M274.2 75.0h0M273.9 76.6h0M274.4 79.4h0M274.4 80.9h0M274.3 82.7h0M274.1 84.0h0M273.9 88.5h0M274.2 90.1h0M274.1 91.7h0M274.2 95.9h0M273.9 98.9h0M273.9 100.4h0M273.9 102.1h0M274.2 103.4h0M276.2 34.3h0M276.6 38.9h0M276.3 40.4h0M276.4 46.4h0M276.3 48.2h0M276.4 52.5h0M276.5 58.6h0M276.5 59.8h0M276.6 61.5h0M276.4 67.4h0M276.5 73.5h0M276.2 74.9h0M276.3 76.5h0M276.3 77.8h0M276.3 82.6h0M276.4 88.4h0M276.6 89.9h0M276.5 93.1h0M276.5 94.4h0M276.2 103.7h0M278.3 34.7h0M278.6 37.6h0M278.5 43.3h0M278.3 45.0h0M278.2 46.6h0M278.4 52.6h0M278.1 54.0h0M278.4 55.6h0M278.2 64.6h0M278.2 65.9h0M278.3 72.2h0M278.5 73.6h0M278.5 75.1h0M278.3 76.6h0M278.1 78.1h0M278.1 79.5h0M278.3 80.9h0M278.1 85.5h0M278.5 86.9h0M278.2 91.7h0M278.5 93.2h0M278.4 104.9h0M278.5 106.4h0M278.6 108.0h0M278.5 109.6h0M278.4 115.6h0M280.2 31.4h0M280.2 32.9h0M280.5 34.6h0M280.2 38.8h0M280.3 40.6h0M280.2 42.0h0M280.2 46.5h0M280.5 48.1h0M280.3 49.6h0M280.6 50.9h0M280.6 52.4h0M280.4 54.2h0M280.5 58.5h0M280.6 62.9h0M280.6 64.5h0M280.6 72.1h0M280.5 73.6h0M280.2 101.9h0M280.6 103.4h0M282.0 52.4h0M282.1 54.1h0M282.3 106.4h0M282.3 108.0h0M282.1 109.4h0M282.4 110.9h0M282.4 112.6h0M282.1 113.9h0M282.3 115.6h0M282.3 118.6h0M284.4 16.5h0M284.3 34.4h0M284.2 40.5h0M284.2 41.9h0M284.2 43.3h0M284.5 45.0h0M284.5 49.6h0M284.2 51.1h0M284.5 52.3h0M286.5 23.9h0M286.4 34.5h0M286.2 113.8h0M286.2 115.6h0M288.7 27.2h0M288.5 28.5h0M288.3 30.0h0M288.6 31.7h0M288.7 42.1h0M288.5 116.9h0M290.4 19.4h0M290.6 114.1h0M290.7 115.4h0M290.8 124.6h0M292.2 16.3h0M292.3 22.3h0M292.3 24.2h0M292.3 32.9h0M292.2 111.2h0M292.2 112.4h0M292.3 113.8h0M292.2 115.6h0M292.1 121.4h0M294.0 19.4h0M294.0 22.6h0M294.2 32.9h0M293.9 34.5h0M294.0 36.1h0M294.3 37.5h0M294.1 117.0h0M294.2 118.5h0M294.0 120.2h0M294.1 123.1h0M296.5 21.0h0M296.6 34.5h0M296.7 36.0h0M296.5 37.5h0M296.9 123.0h0M296.9 124.5h0M298.4 22.6h0M298.6 25.6h0M298.2 111.0h0M298.2 112.3h0M298.5 114.0h0M298.1 115.6h0M298.5 116.9h0M300.3 21.0h0M300.0 111.1h0M300.3 112.4h0M300.1 120.0h0M301.8 21.1h0M302.1 22.4h0M302.0 23.8h0M304.1 22.6h0M304.0 23.9h0M304.2 25.3h0M304.2 112.5h0M306.2 27.0h0M306.2 28.5h0M306.1 30.1h0M306.2 111.1h0M308.5 22.7h0M308.7 24.0h0M308.8 33.1h0M308.5 34.6h0M308.7 35.9h0M311.0 30.2h0M311.0 31.5h0M311.1 32.8h0M310.8 106.4h0M312.6 19.4h0M312.3 20.8h0M312.4 25.5h0M312.5 26.8h0M312.2 28.5h0M312.3 29.9h0M312.3 31.4h0M312.3 36.1h0M314.0 16.5h0M314.2 27.1h0M314.3 28.6h0M314.3 29.9h0M314.0 31.3h0M314.1 32.9h0M314.3 116.8h0M316.1 28.6h0M316.1 104.8h0M316.2 109.5h0M316.2 111.1h0M316.3 120.0h0M315.9 121.4h0M319.1 34.4h0M318.8 37.6h0M319.0 88.4h0M319.0 97.3h0M318.7 99.2h0M318.9 100.6h0M319.9 22.7h0M320.3 36.1h0M320.1 37.3h0M320.3 82.3h0M320.3 84.0h0M320.3 85.7h0M319.9 86.9h0M320.2 95.8h0M320.3 97.6h0M320.1 98.9h0M319.9 109.5h0M320.1 110.9h0M322.6 34.4h0M322.8 73.6h0M322.4 77.8h0M322.6 101.9h0M322.7 106.5h0M322.4 107.9h0M324.8 65.9h0M325.1 67.5h0M324.7 68.8h0M324.7 70.7h0M325.1 72.0h0M325.1 73.5h0M324.9 90.2h0M325.0 103.3h0M326.2 28.7h0M326.4 36.1h0M326.3 37.7h0M326.3 43.3h0M326.1 45.1h0M326.5 46.6h0M326.2 71.9h0M326.1 85.3h0M326.4 106.4h0M328.2 39.0h0M328.3 48.0h0M328.4 49.6h0M328.4 51.0h0M328.2 55.7h0M328.4 60.1h0M328.2 70.6h0M328.2 72.0h0M328.1 73.4h0M328.2 76.6h0M328.5 78.0h0M330.4 58.6h0M330.0 60.0h0M330.3 85.3h0M332.7 29.9h0M332.8 55.4h0M335.0 46.3h0M334.9 49.7h0M334.9 51.1h0M247.2 44.2h0M250.7 56.6h0M258.0 55.0h0M265.2 60.6h0M278.6 39.7h0M267.6 76.0h0M269.0 87.0h0M312.0 115.0h0M302.8 146.2h0M328.0 34.7h0M329.6 38.5h0M331.0 41.0h0M327.0 45.0h0M326.0 48.0h0M322.0 47.6h0M286.6 20.6h0M286.9 22.0h0M286.7 23.4h0M286.7 24.8h0M286.8 26.2h0M286.7 27.6h0M286.6 29.0h0M296.1 26.0h0M295.8 27.4h0M295.9 28.8h0M296.1 30.2h0M296.2 31.6h0M295.9 33.0h0M304.8 21.0h0M304.7 22.2h0M304.7 23.5h0M304.4 24.8h0M304.6 26.0h0M304.6 27.2h0M304.5 28.5h0M304.8 29.8h0M304.7 31.0h0M310.8 23.0h0M311.1 24.4h0M311.0 25.8h0M311.1 27.2h0M311.1 28.6h0M310.8 30.0h0M203.5 36.5h0M203.4 37.8h0M203.6 39.1h0M203.3 40.5h0M203.5 41.8h0M203.5 43.1h0M203.5 44.4h0M258.1 46.0h0M258.2 47.3h0M258.0 48.7h0M258.0 50.0h0M263.1 46.0h0M263.2 47.2h0M263.4 48.5h0M263.1 49.8h0M263.3 51.0h0M321.6 91.0h0M321.5 92.3h0M321.8 93.7h0M321.5 95.0h0M321.6 96.3h0M321.5 97.7h0M321.7 99.0h0M276.9 87.7h0M276.8 96.4h0M276.9 92.8h0M287.0 41.6h0M278.6 73.7h0M325.4 69.1h0M317.4 99.5h0M319.1 95.0h0M318.3 96.4h0M324.9 70.5h0M284.2 111.5h0M294.9 36.6h0M302.3 112.0h0M300.0 112.7h0"/><path stroke="#3e5eaf" d="M278.4 76.5h0M277.7 96.2h0M321.3 84.1h0M319.6 92.5h0M323.0 76.6h0M313.8 35.3h0M285.3 45.2h0M279.3 67.8h0M282.9 110.6h0M283.4 49.5h0M281.5 57.8h0M285.3 111.6h0M322.4 38.1h0M279.3 68.8h0M277.9 100.2h0M283.2 52.1h0M322.7 78.1h0M288.7 40.3h0M282.6 109.3h0M314.7 104.1h0M282.3 54.5h0M303.0 35.6h0M323.0 75.0h0M327.5 55.5h0M310.4 35.6h0M278.9 76.4h0M287.4 111.7h0M278.0 86.8h0M316.7 99.9h0M291.7 37.9h0M279.3 72.2h0M282.2 57.4h0M320.3 86.5h0M313.4 104.8h0M277.8 89.9h0M278.1 94.5h0M278.0 91.5h0M278.0 93.3h0M326.9 45.9h0M278.6 82.4h0M324.7 69.3h0M327.6 52.9h0M296.2 112.5h0"/><path stroke="#426ab2" d="M326.2 64.5h0M327.7 51.1h0M321.5 38.0h0M281.8 57.9h0M321.8 78.5h0M327.2 57.9h0M325.8 42.0h0M281.3 60.5h0M310.6 108.5h0M327.0 57.1h0M302.6 35.9h0M315.8 100.4h0M279.6 74.9h0M298.0 112.1h0M297.7 37.1h0M327.2 47.6h0M319.9 37.7h0M317.2 97.3h0M321.8 38.7h0M300.5 36.7h0M326.4 45.6h0M293.5 38.1h0M278.6 88.9h0M315.0 101.8h0M294.8 112.2h0M327.0 49.0h0M279.0 82.4h0M285.1 48.1h0M322.0 76.3h0M327.2 53.5h0M280.0 73.1h0M288.6 41.9h0M287.0 44.3h0M325.8 63.1h0M280.7 103.3h0M298.9 37.2h0M296.6 37.6h0M321.0 81.1h0M291.8 38.5h0M289.7 40.7h0M294.5 38.0h0M326.5 58.3h0M288.8 110.8h0"/><path stroke="#4676b5" d="M309.1 109.2h0M307.4 109.4h0M282.4 107.4h0M279.7 79.8h0M317.4 94.3h0M320.0 84.9h0M322.9 72.2h0M322.5 73.5h0M284.1 109.5h0M300.2 110.8h0M278.9 85.8h0M279.6 81.1h0M281.3 63.5h0M316.9 95.5h0M315.8 37.0h0M301.8 110.4h0M306.4 109.7h0M300.8 37.0h0M325.6 43.7h0M299.6 111.1h0M279.1 97.3h0M279.1 87.4h0M307.9 36.3h0M306.3 36.7h0M281.5 64.2h0M304.0 109.9h0M323.9 40.6h0M282.5 59.9h0M320.9 79.0h0M314.1 36.9h0M281.0 68.0h0M319.1 88.7h0M279.8 78.3h0M310.8 106.6h0M326.3 49.7h0M326.4 51.0h0M288.1 44.0h0M326.6 53.0h0M279.6 84.6h0M312.1 37.1h0M317.5 37.4h0M315.5 99.2h0M295.2 38.5h0M318.3 89.4h0M281.1 70.3h0M290.2 110.4h0M297.6 110.9h0M318.6 37.9h0M284.6 52.9h0M318.0 91.0h0M320.2 82.1h0M289.4 41.8h0M283.0 107.2h0M280.7 101.6h0M325.8 59.6h0M320.3 39.2h0M281.4 66.3h0M280.8 72.2h0M308.5 37.0h0M311.8 104.4h0M294.8 111.0h0M284.0 55.5h0M305.9 36.9h0M279.7 88.9h0M279.5 95.7h0M279.4 89.6h0M324.5 41.9h0M296.1 110.8h0M291.6 110.5h0M309.9 106.9h0M326.0 57.5h0M286.8 46.7h0M319.7 83.3h0M323.0 40.7h0M324.9 44.0h0M282.0 64.5h0M314.6 100.4h0M285.8 109.6h0"/><path stroke="#5285bc" d="M281.4 69.3h0M280.1 99.5h0M307.5 108.6h0M316.1 96.0h0M284.5 54.5h0M321.3 75.1h0M289.7 109.8h0M305.1 109.0h0M325.4 61.9h0M280.8 75.6h0M325.5 46.6h0M293.5 110.5h0M326.2 55.9h0M283.8 56.9h0M284.9 52.9h0M284.5 108.4h0M281.9 66.2h0M283.3 59.7h0M303.8 37.4h0M281.1 76.7h0M293.6 39.5h0M281.9 103.7h0M291.8 39.9h0M283.1 61.8h0M311.0 105.2h0M279.9 91.9h0M279.8 92.7h0M279.9 94.2h0M282.0 67.5h0M280.6 82.6h0M313.4 101.7h0M315.0 98.1h0M316.4 93.3h0M280.9 78.0h0M301.6 38.0h0M324.6 65.1h0M286.8 47.3h0M318.6 85.8h0M321.8 40.5h0M318.8 38.8h0M312.1 103.5h0M320.6 77.9h0M285.9 50.1h0M299.5 38.7h0M280.4 99.6h0M292.5 109.8h0M282.9 63.0h0M283.7 61.1h0M283.2 104.8h0M323.4 68.0h0M293.1 39.9h0M280.6 85.5h0M281.8 70.6h0M302.3 109.1h0M311.1 38.1h0M320.6 40.1h0M295.5 39.4h0M285.0 55.1h0M290.1 43.2h0M285.8 50.8h0M281.2 80.8h0M290.9 41.6h0M318.0 86.8h0M285.3 108.4h0M287.5 109.1h0M310.0 38.0h0M294.4 110.1h0M304.6 38.1h0M280.6 87.0h0M296.6 109.8h0M282.2 72.6h0M284.4 58.1h0M299.1 109.6h0M281.9 101.9h0M288.3 109.1h0M308.4 106.9h0M292.0 109.3h0M281.0 84.0h0M325.6 48.1h0M314.2 99.2h0M315.6 94.7h0M316.6 91.3h0M282.6 69.4h0M281.4 79.3h0M317.3 88.2h0M322.4 41.7h0M297.6 39.6h0M283.9 106.0h0M288.9 45.4h0M300.5 39.0h0M300.2 108.9h0M286.3 50.8h0M312.5 101.5h0M281.9 76.0h0M306.3 107.7h0M281.3 99.9h0M283.4 64.0h0M312.8 100.6h0M318.8 82.0h0M314.1 98.1h0M305.0 38.5h0M324.2 65.9h0M280.9 89.6h0M280.8 94.1h0M301.7 108.3h0M282.2 78.5h0M317.5 87.1h0M294.6 40.3h0M282.4 73.9h0M315.7 93.2h0M283.9 104.8h0M281.9 79.5h0M285.7 56.3h0M311.1 102.9h0M281.9 100.4h0M286.1 54.3h0M289.3 108.3h0M304.9 107.3h0M316.3 89.9h0M282.4 75.7h0M303.5 38.8h0M289.9 44.9h0M297.0 108.9h0M282.0 81.5h0M304.0 107.7h0M314.0 96.3h0M289.7 46.1h0M281.3 96.9h0M281.3 88.5h0M281.5 95.5h0M281.4 91.2h0M281.5 92.4h0M301.6 39.5h0M287.6 50.2h0M306.6 39.1h0M288.9 47.1h0M281.8 83.7h0M301.1 107.9h0M285.7 58.3h0M283.6 68.9h0M315.5 91.9h0M284.9 106.0h0M293.2 41.5h0M284.6 63.1h0M304.8 107.0h0M293.0 108.4h0M319.4 80.1h0M311.0 101.9h0M297.4 108.5h0M282.0 85.5h0M314.6 38.8h0M288.7 48.6h0M312.4 38.8h0M287.4 107.7h0M309.2 104.4h0M282.2 86.7h0M285.6 60.0h0M283.9 103.1h0M294.9 108.5h0M284.0 67.6h0M296.5 41.1h0M299.2 107.8h0M287.8 50.0h0M282.1 89.8h0M301.7 40.1h0M287.3 52.0h0M309.6 103.5h0M283.6 73.8h0M313.1 97.3h0M289.1 107.5h0M297.6 41.2h0M289.6 47.5h0M312.7 98.6h0M286.4 56.8h0M282.5 98.4h0M306.5 106.1h0M284.4 65.9h0M283.9 71.1h0M283.9 101.9h0M291.3 44.5h0M298.7 40.8h0M292.7 43.1h0M284.0 72.2h0M286.7 58.2h0M282.8 82.6h0M282.7 95.1h0M282.4 91.0h0M282.5 93.2h0M291.5 107.5h0M287.4 53.8h0M283.3 77.8h0M303.7 106.6h0M285.6 105.1h0M291.8 43.9h0M300.8 107.2h0M308.5 103.8h0M303.0 39.9h0M285.0 65.0h0M307.9 104.5h0M295.0 42.0h0M286.9 106.5h0M297.4 41.5h0M295.4 42.0h0M283.9 76.2h0M288.0 106.6h0M295.8 107.6h0M286.5 59.8h0M283.1 97.2h0M283.0 88.7h0M291.4 106.8h0M282.9 95.9h0M285.9 62.0h0M287.6 55.8h0M310.0 101.7h0M289.2 50.5h0M288.5 52.5h0M304.9 105.3h0M284.1 80.2h0M302.7 106.0h0M284.6 74.6h0M284.1 80.4h0M293.8 43.1h0M294.7 107.1h0M283.6 89.6h0M283.7 92.6h0M286.9 105.4h0M285.8 103.5h0M291.8 45.9h0M291.0 47.4h0M284.4 100.0h0M283.9 84.5h0M292.3 45.4h0M284.1 98.5h0M289.9 106.1h0M284.1 86.1h0M296.3 106.4h0M285.8 101.9h0M306.0 104.7h0M284.0 87.3h0M284.6 98.0h0M287.2 103.4h0M284.0 95.9h0M293.3 106.0h0M287.9 103.6h0M291.5 105.6h0M283.9 92.0h0M284.5 95.2h0M289.0 105.0h0M289.5 104.6h0M285.3 100.0h0M286.7 101.7h0M293.1 104.9h0M298.6 106.2h0M285.7 99.3h0M297.5 106.1h0M287.2 101.0h0M288.4 102.1h0M290.7 103.2h0M284.6 88.9h0M291.8 103.4h0M295.1 104.9h0M306.1 103.9h0M284.5 82.9h0M298.0 105.6h0M290.1 102.1h0M288.2 55.9h0M305.5 103.8h0M286.7 61.3h0M288.4 54.6h0M303.1 104.5h0M286.8 99.6h0M296.4 105.1h0M285.4 95.8h0M292.8 46.3h0M285.9 63.3h0M284.9 88.0h0M302.4 104.4h0M296.4 43.5h0M290.3 49.4h0M285.7 68.0h0M285.6 94.8h0M289.9 50.7h0M285.2 75.3h0M292.5 103.2h0M285.2 84.3h0M294.3 104.0h0M285.7 91.1h0M285.8 97.0h0M291.2 49.2h0M295.1 45.0h0M285.3 70.3h0M300.5 40.9h0M296.0 44.7h0M288.8 100.5h0M286.4 97.7h0M285.7 72.6h0M310.4 100.2h0M285.8 65.6h0M299.9 104.7h0M285.4 73.1h0M290.1 101.0h0M294.5 45.9h0M297.8 43.0h0M285.3 85.7h0M298.9 104.5h0M285.9 92.9h0M288.1 58.4h0M286.1 69.2h0M313.5 95.1h0M285.6 78.0h0M285.3 81.8h0M286.0 90.6h0M288.7 57.1h0M308.1 102.2h0M311.0 99.0h0M303.6 103.4h0M289.7 54.2h0M290.0 52.6h0M299.3 41.8h0M301.0 103.8h0M323.0 43.2h0M309.1 101.1h0M293.0 48.2h0M287.0 62.9h0M317.0 39.6h0M316.1 90.0h0M285.8 86.5h0M308.6 39.5h0M299.9 42.0h0M285.8 76.3h0M286.6 91.3h0M291.8 101.6h0M286.6 70.2h0M286.0 81.3h0M289.1 99.3h0M306.2 40.2h0M286.1 79.5h0M308.5 100.9h0M309.1 39.6h0M311.2 97.9h0M304.8 102.5h0M296.3 103.6h0M287.0 64.3h0M288.3 59.4h0M286.9 95.7h0M288.1 98.1h0M318.8 40.7h0M286.6 73.3h0M286.8 94.4h0M295.8 45.9h0M291.5 50.8h0M299.2 103.7h0M286.5 84.9h0M287.1 68.2h0M292.5 49.4h0M286.7 77.4h0M321.6 42.0h0M301.6 103.0h0M286.4 80.9h0M306.6 101.7h0M302.5 41.6h0M313.7 93.5h0M311.1 39.4h0M293.6 101.5h0M287.0 88.7h0M297.1 103.0h0M291.1 100.0h0M312.1 95.7h0M287.4 65.5h0M290.9 53.4h0M298.9 44.1h0M287.2 86.4h0M312.4 94.7h0M287.4 93.5h0M287.1 75.3h0M286.8 76.9h0M295.1 102.1h0M287.3 69.6h0M297.6 45.3h0M315.3 39.6h0M305.6 41.1h0M287.0 79.2h0M309.7 98.5h0M287.4 89.3h0M289.6 98.6h0M324.8 46.9h0M290.4 55.9h0M300.1 43.4h0M293.5 101.1h0M308.3 99.3h0M287.4 72.1h0M294.3 48.4h0M288.1 95.4h0M291.9 52.1h0M290.3 56.6h0M303.1 42.1h0M297.6 102.4h0M318.0 83.6h0M304.0 101.6h0M301.9 101.8h0M290.1 58.5h0M324.1 44.8h0M291.7 99.6h0M288.9 62.1h0M287.7 84.0h0M309.6 40.4h0M317.5 40.5h0M305.5 41.4h0M287.6 82.2h0M295.9 47.4h0M299.1 45.2h0M321.5 42.9h0M314.0 90.9h0M310.6 96.1h0M321.7 73.1h0M308.3 41.0h0M311.6 94.5h0M291.6 55.2h0M289.7 61.5h0M290.1 98.1h0M288.0 72.5h0M314.1 40.0h0M290.0 59.8h0M296.2 101.3h0M293.3 50.6h0M311.1 40.7h0M288.4 66.1h0M288.4 94.3h0M287.9 73.6h0M288.0 87.1h0M320.3 75.9h0M289.2 63.5h0M288.1 74.7h0M306.4 100.1h0"/><path stroke="#5e93c4" d="M288.1 84.0h0M325.5 53.7h0M288.7 91.8h0M288.1 82.6h0M323.2 44.4h0M289.1 63.9h0M316.1 40.7h0M312.2 40.4h0M312.7 92.6h0M298.1 46.7h0M325.1 48.6h0M288.5 70.9h0M301.0 101.6h0M315.1 88.3h0M321.5 72.6h0M304.7 100.4h0M324.8 49.0h0M289.6 63.2h0M291.5 56.4h0M318.6 80.6h0M316.8 84.2h0M296.1 100.9h0M316.4 84.8h0M319.6 42.3h0M309.2 97.2h0M324.3 63.0h0M298.9 101.6h0M319.1 78.9h0M301.6 44.1h0M289.1 93.5h0M288.4 85.5h0M289.0 68.1h0M288.6 76.4h0M288.8 69.0h0M322.4 69.0h0M309.3 96.1h0M293.9 50.8h0M293.1 53.0h0M288.8 89.6h0M307.8 41.9h0M305.8 99.7h0M297.1 100.9h0M312.6 91.6h0M294.9 50.2h0M288.9 88.8h0M317.9 42.1h0M313.3 89.8h0M290.0 96.4h0M294.8 99.9h0M300.0 101.2h0M315.0 86.8h0M307.0 42.6h0M299.3 100.9h0M289.4 94.4h0M289.6 65.8h0M303.7 43.4h0M293.0 53.9h0M293.4 98.8h0M297.5 48.2h0M303.4 99.9h0M294.3 99.5h0M291.5 58.9h0M289.4 92.4h0M300.6 45.5h0M289.1 77.7h0M315.6 85.3h0M289.7 90.3h0M322.0 69.7h0M316.1 41.6h0M289.2 81.1h0M292.4 56.1h0M288.9 79.9h0"/><path stroke="#6aa2cb" d="M312.9 89.8h0M299.0 46.9h0M310.7 93.4h0M310.5 42.2h0M324.4 61.0h0M321.4 70.3h0M292.3 97.9h0M317.7 80.5h0M314.4 41.5h0M304.8 43.4h0M316.4 41.9h0M301.9 100.1h0M296.4 49.5h0M295.6 50.4h0M302.5 44.4h0M309.7 94.6h0M316.6 82.7h0M320.2 44.0h0M309.6 42.4h0M289.4 74.4h0M289.9 67.5h0M291.6 97.0h0M317.4 80.0h0M298.8 47.4h0M290.2 69.3h0M290.1 70.1h0M289.7 78.6h0M289.6 79.6h0M307.3 97.2h0M319.7 75.6h0M306.0 43.3h0M307.0 97.4h0M303.0 44.5h0M290.3 64.3h0M292.8 56.7h0M324.7 52.6h0M290.0 72.0h0M313.6 88.0h0M292.0 60.2h0"/><path stroke="#77afd2" d="M320.8 45.2h0M302.2 99.3h0M307.3 96.7h0M296.6 99.3h0M316.0 82.6h0M323.0 46.9h0M322.7 65.9h0M290.2 87.1h0M311.1 91.7h0M317.9 78.0h0M315.1 84.5h0M305.0 98.4h0M292.7 59.1h0M290.2 85.4h0M320.1 72.9h0M320.4 71.5h0M291.7 62.7h0M292.1 60.9h0M290.4 91.1h0M290.2 81.3h0M319.0 44.1h0M320.7 44.8h0M300.5 46.9h0M318.5 76.5h0M291.6 96.0h0M312.6 42.5h0M324.1 59.5h0M323.8 51.0h0M320.6 70.8h0M290.5 88.5h0M315.9 81.3h0M322.4 65.1h0"/><path stroke="#85bbd8" d="M294.6 53.8h0M291.2 94.6h0M294.2 55.6h0M307.8 95.2h0M324.2 57.9h0M314.6 84.5h0M290.3 73.3h0M294.9 53.1h0M313.4 86.4h0M307.5 43.8h0M290.5 76.3h0M290.4 84.2h0M291.1 69.5h0M290.6 82.6h0M323.9 56.9h0M300.1 48.2h0M309.9 43.4h0M303.1 98.5h0M313.6 85.8h0M291.1 71.5h0M306.5 96.3h0M292.5 61.5h0M297.5 99.0h0M308.8 92.9h0M298.1 50.0h0M318.5 74.9h0M312.1 88.7h0M323.5 59.8h0M323.9 55.3h0M324.2 53.6h0M305.2 97.3h0M292.8 60.5h0M314.5 43.1h0"/><path stroke="#93c6df" d="M303.2 46.0h0M298.7 99.1h0M291.2 73.9h0M321.5 46.7h0M303.7 98.1h0M291.1 83.8h0M294.2 57.9h0M316.8 77.6h0M304.5 45.4h0M312.9 86.1h0M302.0 46.8h0M296.9 51.6h0M320.8 67.3h0M292.0 65.2h0M308.6 44.6h0M322.6 62.8h0M310.7 90.1h0M295.9 53.2h0M291.4 88.5h0M311.0 43.9h0M315.4 43.6h0M311.0 89.0h0M299.0 49.9h0M294.3 57.5h0M295.0 97.1h0M291.8 66.6h0M316.9 43.8h0M300.5 98.4h0M298.6 50.6h0M291.8 67.5h0M291.3 74.8h0M296.2 53.5h0M295.8 97.3h0M291.4 76.0h0M301.6 48.1h0M292.0 93.0h0M293.0 95.6h0M291.8 70.1h0M291.3 86.8h0M308.5 92.6h0M291.4 81.0h0M294.4 96.5h0"/><path stroke="#a1d1e5" d="M306.6 95.1h0M292.7 94.5h0M318.6 72.9h0M292.9 63.4h0M291.8 91.0h0M322.4 48.6h0M322.7 62.0h0M297.7 97.9h0M309.0 91.3h0M307.1 45.5h0M322.9 50.1h0M312.5 44.2h0M291.8 90.1h0M309.2 44.9h0M312.1 86.4h0M316.5 76.8h0M292.0 78.2h0M306.2 46.0h0M294.3 60.1h0M292.1 79.2h0M302.4 97.4h0M292.0 82.5h0M304.9 96.1h0M291.9 85.6h0M321.2 66.0h0M294.4 60.9h0M315.2 79.4h0M305.6 46.5h0M298.0 52.3h0M303.0 47.9h0M323.1 50.4h0M292.6 75.0h0M293.3 64.8h0M296.6 55.6h0M295.9 57.2h0M323.4 55.7h0M301.0 50.2h0M313.5 82.4h0M312.8 83.6h0M298.5 52.5h0M318.9 45.7h0M293.4 66.5h0M293.3 67.0h0M317.1 44.6h0M297.7 54.1h0M295.7 95.8h0"/><path stroke="#afdbea" d="M293.3 69.4h0M316.0 77.1h0M315.3 78.0h0M293.7 70.4h0M295.7 60.6h0M292.6 82.2h0M294.9 62.4h0M293.0 92.3h0M293.5 71.7h0M302.6 49.5h0M297.3 55.4h0M318.4 71.5h0M321.5 64.0h0M300.0 52.4h0M293.0 76.2h0M296.5 58.9h0M300.8 51.3h0M299.1 54.1h0M294.5 66.6h0M302.1 50.6h0M294.8 65.1h0M303.6 49.1h0M295.8 62.4h0M293.3 73.7h0M297.4 58.2h0M296.4 61.2h0M293.1 78.3h0M323.1 58.0h0M299.6 55.0h0M317.0 74.7h0M298.0 57.4h0M294.6 94.5h0M311.6 45.1h0M294.9 67.3h0M292.9 79.5h0M295.9 63.9h0M292.3 87.6h0M319.1 70.2h0M301.7 52.3h0M292.9 91.4h0M313.8 80.4h0M295.5 66.4h0M297.5 59.6h0M304.7 48.4h0M301.0 97.5h0M294.7 71.1h0M294.0 93.6h0M311.2 86.6h0M297.1 96.6h0M309.0 89.9h0M292.9 81.6h0M298.9 56.9h0M294.0 73.3h0M295.1 69.3h0M319.8 67.7h0M304.5 48.9h0M319.7 68.6h0M297.0 63.0h0M300.8 54.7h0M314.3 44.6h0M300.5 55.3h0M315.1 44.7h0"/><path stroke="#bde2ee" d="M298.5 58.8h0M294.8 71.6h0M295.5 94.4h0M304.4 95.0h0M321.3 62.8h0M320.2 46.5h0M292.9 85.9h0M293.0 89.6h0M301.7 54.4h0M312.4 82.4h0M307.7 91.7h0M300.1 57.2h0M295.4 70.9h0M294.6 74.9h0M294.0 79.0h0M321.3 47.9h0M310.6 45.9h0M293.6 83.5h0M296.4 67.4h0M297.8 62.1h0M313.8 78.9h0M303.6 95.7h0M317.2 73.2h0M312.8 81.2h0M311.5 84.2h0M310.6 86.2h0M308.6 47.0h0M299.3 97.1h0M297.7 64.6h0M304.2 51.5h0M296.6 68.7h0M308.9 88.7h0"/><path stroke="#cae8f2" d="M314.2 78.4h0M315.9 74.5h0M294.4 78.2h0M322.8 52.7h0M306.7 48.5h0M306.4 92.0h0M301.6 96.3h0M294.2 82.3h0M305.9 92.5h0M308.1 89.8h0M303.9 94.3h0M293.3 89.0h0M298.4 61.8h0M302.9 53.4h0M312.9 45.3h0M294.9 76.1h0M309.6 87.1h0M297.0 68.2h0M309.6 46.9h0M294.6 80.5h0M294.3 91.7h0M297.1 68.4h0M296.1 72.4h0M299.6 60.1h0M294.2 85.9h0"/><path stroke="#d8eff6" d="M304.8 93.0h0M307.8 48.0h0M298.4 63.6h0M302.6 54.9h0M295.8 73.0h0M320.3 47.6h0M293.9 88.3h0M315.7 73.9h0M306.1 49.9h0M297.9 66.2h0M305.2 51.4h0M303.9 53.1h0M299.5 96.1h0M320.0 64.9h0M312.8 45.9h0M316.9 70.9h0M321.6 60.3h0M312.4 79.3h0M295.9 92.5h0M300.0 59.8h0M300.6 59.0h0M322.5 57.1h0"/><path stroke="#e3f4f2" d="M296.2 75.2h0M294.5 86.6h0M305.2 52.2h0M298.5 65.5h0M316.6 71.7h0M314.0 75.8h0M306.3 90.4h0M298.1 94.7h0M310.8 82.1h0M318.0 68.6h0M302.4 94.3h0M295.3 79.7h0M319.7 65.6h0M309.7 85.0h0M296.2 76.1h0M300.6 95.5h0M295.0 84.6h0M314.3 74.5h0M295.4 81.1h0M295.5 91.1h0M321.1 60.9h0"/><path stroke="#ebf7e4" d="M297.5 93.6h0M307.7 88.4h0M306.3 50.4h0M296.2 78.2h0M302.2 57.6h0M294.8 89.7h0M319.8 63.3h0M301.6 58.5h0M311.3 80.2h0M299.5 95.1h0M300.2 62.0h0M295.5 82.6h0M309.8 82.8h0M299.7 63.9h0M317.9 67.5h0M300.0 62.6h0M318.6 66.5h0M295.5 84.1h0M314.3 73.7h0"/><path stroke="#f3fad5" d="M315.1 72.4h0M320.5 61.5h0M308.0 86.5h0M322.3 53.4h0M303.7 92.7h0M317.4 68.0h0M310.7 80.9h0M318.8 65.2h0M309.7 48.5h0M316.6 69.3h0M311.9 77.5h0M311.5 78.4h0M318.3 47.0h0M297.9 71.1h0M298.7 68.8h0M302.5 92.9h0M321.6 49.8h0M303.0 57.2h0M301.0 94.1h0M297.3 91.9h0M296.1 89.4h0M298.9 67.5h0M304.7 54.5h0M303.3 91.8h0"/><path stroke="#fbfdc6" d="M309.2 83.5h0M296.2 85.1h0M304.5 90.9h0M304.8 90.3h0M297.6 74.1h0M308.6 84.3h0M296.0 86.6h0M304.0 55.7h0M295.8 88.0h0M307.5 50.7h0M297.8 72.1h0M299.6 93.6h0M297.6 75.0h0M300.7 93.7h0M322.0 56.7h0M311.9 76.1h0M312.5 74.9h0"/><path stroke="#fffbb9" d="M297.2 79.8h0M313.0 73.8h0M301.8 60.1h0M310.8 47.8h0M297.4 76.6h0M306.2 52.9h0M307.7 85.3h0M305.9 88.7h0M302.6 91.9h0M321.1 59.0h0M317.4 46.9h0M315.0 70.7h0M308.6 50.1h0M319.0 63.5h0M301.4 62.1h0M297.3 78.3h0M313.6 72.4h0M309.2 81.4h0M297.8 90.6h0M314.5 47.0h0M320.4 49.1h0M296.8 85.4h0"/><path stroke="#fff3ad" d="M321.9 55.6h0M315.2 46.9h0M298.5 73.4h0M299.1 91.5h0M302.9 59.0h0M300.4 65.8h0M301.1 64.3h0M307.0 85.5h0M310.6 76.9h0M300.8 92.0h0M309.6 49.5h0M298.9 71.8h0M308.0 82.6h0M310.1 77.5h0M297.3 83.1h0M299.6 69.9h0M297.4 84.2h0M312.9 72.2h0"/><path stroke="#feeba1" d="M298.0 88.2h0M321.5 51.4h0M314.2 70.6h0M309.2 79.4h0M304.1 89.7h0M300.5 67.5h0M306.0 86.5h0M298.4 77.6h0M319.0 61.8h0M298.0 81.5h0M305.3 55.1h0M297.9 86.4h0M298.5 88.4h0M299.3 90.3h0M314.8 68.3h0M305.2 88.2h0M311.5 73.3h0M301.8 63.6h0M321.6 52.2h0M308.1 81.1h0M298.5 79.5h0M310.6 75.2h0M316.6 66.2h0"/><path stroke="#fee395" d="M301.7 65.7h0M300.2 69.9h0M302.0 64.2h0M298.6 80.3h0M298.7 87.1h0M302.5 89.8h0M307.4 52.3h0M309.4 76.4h0M303.5 60.1h0M314.5 68.6h0M315.7 67.0h0M306.4 53.8h0M310.1 74.9h0M299.5 75.3h0M315.9 66.0h0M298.6 85.1h0"/><path stroke="#fed889" d="M316.9 64.3h0M306.2 84.3h0M317.9 48.1h0M299.9 89.6h0M299.5 76.9h0M303.8 88.0h0M304.9 57.0h0M311.4 72.0h0M320.6 57.9h0M321.3 53.4h0M298.9 81.9h0M311.9 71.0h0M301.0 69.3h0M300.4 71.9h0M304.6 58.4h0M305.3 84.4h0M308.0 77.8h0"/><path stroke="#fecb7d" d="M301.4 68.7h0M300.1 76.6h0M306.0 82.8h0M304.5 86.4h0M307.3 78.9h0M314.4 67.2h0M316.8 48.1h0M300.4 74.0h0M312.4 48.4h0M313.1 68.9h0M319.4 59.6h0M299.6 84.5h0M304.5 85.5h0M303.1 64.1h0M300.7 88.0h0M301.6 70.4h0M302.4 88.2h0M308.6 75.1h0M300.4 77.5h0M305.4 82.3h0M303.0 87.6h0M308.9 73.9h0M308.2 76.2h0"/><path stroke="#fdbf71" d="M300.9 74.6h0M302.3 68.0h0M300.6 79.0h0M312.8 68.1h0M306.1 56.1h0M309.9 72.2h0M303.9 85.6h0M306.2 80.7h0M301.4 72.3h0M307.2 77.7h0M303.1 66.2h0M306.2 80.1h0M314.1 66.4h0M300.4 81.5h0M311.4 69.6h0M311.2 70.0h0M303.3 63.1h0M300.7 83.0h0M300.6 85.0h0M304.2 61.4h0M320.5 57.0h0M300.8 86.7h0M308.0 74.1h0M301.8 73.4h0M307.0 75.9h0M316.1 64.1h0M305.2 80.8h0M303.1 69.4h0M301.6 86.4h0M301.1 83.7h0M309.4 70.9h0M303.3 84.2h0M303.7 67.8h0M303.0 70.7h0M302.0 85.9h0M302.2 77.5h0M313.6 48.5h0M302.6 74.8h0M301.4 83.2h0M301.8 80.4h0M303.5 82.3h0M302.5 76.9h0M306.7 74.5h0M302.2 83.5h0M304.5 79.0h0M303.0 75.3h0M302.3 80.1h0M303.5 72.5h0M304.0 79.8h0M303.3 73.2h0M306.3 73.6h0M304.6 78.2h0M303.0 78.6h0M303.2 80.5h0"/><path stroke="#fdb265" d="M307.4 71.7h0M305.3 74.9h0M305.1 76.0h0M303.3 76.9h0M307.1 71.7h0M304.4 72.1h0M305.2 73.9h0M307.4 71.1h0M305.1 70.3h0M307.1 70.7h0M304.5 68.9h0M306.2 56.6h0M305.9 68.9h0M304.6 67.8h0M310.0 69.0h0M309.6 51.4h0M308.1 68.5h0M307.1 67.9h0"/><path stroke="#fba25c" d="M315.3 48.6h0M311.3 67.2h0M316.5 62.6h0M308.3 68.1h0M305.0 59.9h0M312.3 65.8h0M305.2 66.5h0M319.8 50.8h0M309.0 52.7h0"/><path stroke="#f99254" d="M311.6 50.1h0M313.4 64.4h0M320.6 55.1h0M309.2 67.0h0M304.4 63.8h0M308.7 53.7h0"/><path stroke="#f7814c" d="M316.7 49.1h0M315.6 62.5h0M318.0 59.7h0M311.4 65.4h0M318.1 49.7h0M304.8 62.4h0"/><path stroke="#f47045" d="M316.4 61.1h0M317.9 59.1h0M305.4 61.0h0M313.7 49.7h0M313.8 63.2h0M307.9 55.0h0"/><path stroke="#ee603d" d="M306.9 65.4h0M316.0 61.1h0M312.7 64.2h0M307.5 65.6h0M315.2 49.5h0M309.4 65.5h0M319.4 52.5h0M316.7 60.0h0M311.4 51.2h0M313.1 49.9h0M307.1 64.9h0M306.6 59.2h0"/><path stroke="#e75136" d="M319.3 53.7h0M318.6 51.0h0M305.9 62.5h0M308.9 53.8h0M308.0 65.0h0M316.2 59.8h0"/><path stroke="#df412f" d="M312.0 51.0h0M311.0 64.2h0M319.2 55.0h0M318.2 57.0h0M318.9 54.0h0M309.2 64.6h0"/><path stroke="#d83228" d="M316.8 57.5h0M314.3 60.7h0M315.4 50.5h0M316.4 58.2h0M306.9 60.3h0M306.9 60.9h0M311.9 62.5h0M314.6 50.7h0M318.0 52.8h0M308.1 57.4h0M317.2 51.6h0M315.4 58.8h0M307.4 59.0h0M313.7 61.1h0"/><path stroke="#cb2527" d="M307.6 60.2h0M317.4 52.9h0M307.5 61.7h0M317.5 55.2h0M308.3 63.0h0M310.8 53.1h0M317.5 53.9h0M308.9 56.5h0M310.4 62.6h0"/><path stroke="#bf1927" d="M312.4 61.1h0M308.9 62.7h0M312.1 52.6h0M311.2 53.6h0M310.1 54.9h0M315.9 56.3h0M314.3 58.4h0M308.9 61.8h0M315.2 52.1h0"/><path stroke="#b20c26" d="M310.4 61.6h0M312.0 53.5h0M311.9 59.9h0M314.7 56.8h0M310.9 54.9h0M315.3 54.9h0M309.6 60.3h0M309.7 58.8h0M315.6 54.1h0M312.7 58.8h0M314.4 53.1h0M310.7 56.9h0M311.3 59.5h0"/><path stroke="#a50026" d="M310.7 58.4h0M314.7 55.2h0M314.4 54.5h0M312.4 56.8h0M313.0 54.9h0"/></g>
<line x1="203.7" y1="144.55" x2="330.6" y2="49.34" stroke="#858585" stroke-width="1.6" stroke-dasharray="4.6 3.1"/>
<rect x="259.1" y="121.5" width="73" height="10.6" fill="#fbfdea"/>
<rect x="259.1" y="131.5" width="33.4" height="10.6" fill="#fbfdea"/>
<rect x="259.1" y="141.5" width="43" height="10.6" fill="#fbfdea"/>
<text x="260.7" y="129.1" font-size="9.6">y = 0.80x - 3.89</text>
<text x="260.7" y="139.0" font-size="9.6">r : 0.46</text>
<text x="260.7" y="149.0" font-size="9.6">p &lt; 0.001</text>
<rect x="197" y="15" width="141" height="1" fill="#bdbdbd"/>
<rect x="197" y="155" width="141" height="1" fill="#9a9a9a"/>
<rect x="337" y="15" width="1" height="141" fill="#9a9a9a"/>
<rect x="197" y="15" width="1" height="141" fill="#7a7a7a"/>
<rect x="195" y="154.2" width="2" height="1" fill="#333"/>
<text x="194.4" y="158.9" font-size="10" text-anchor="end">0</text>
<rect x="195" y="121.0" width="2" height="1" fill="#333"/>
<text x="194.4" y="125.7" font-size="10" text-anchor="end">2</text>
<rect x="195" y="87.8" width="2" height="1" fill="#333"/>
<text x="194.4" y="92.5" font-size="10" text-anchor="end">4</text>
<rect x="195" y="54.6" width="2" height="1" fill="#333"/>
<text x="194.4" y="59.3" font-size="10" text-anchor="end">6</text>
<rect x="195" y="21.4" width="2" height="1" fill="#333"/>
<text x="194.4" y="26.1" font-size="10" text-anchor="end">8</text>
<rect x="209.8" y="156" width="1" height="2" fill="#333"/>
<text x="210.3" y="165.5" font-size="10" text-anchor="middle">6</text>
<rect x="245.2" y="156" width="1" height="2" fill="#333"/>
<text x="245.7" y="165.5" font-size="10" text-anchor="middle">8</text>
<rect x="280.6" y="156" width="1" height="2" fill="#333"/>
<text x="281.1" y="165.5" font-size="10" text-anchor="middle">10</text>
<rect x="316.0" y="156" width="1" height="2" fill="#333"/>
<text x="316.5" y="165.5" font-size="10" text-anchor="middle">12</text>
<text x="267.0" y="178.0" font-size="12.4" text-anchor="middle">Electricity</text>
<text transform="translate(184.5,85.0) rotate(-90)" font-size="12.2" text-anchor="middle">Surface</text>
<text x="178.6" y="9.6" font-size="13.5">b</text>
<g fill="none" stroke-width="3.0" stroke-linecap="round"><path stroke="#3a52ad" d="M488.1 39.3h0M497.0 40.8h0M468.9 42.5h0M475.6 41.9h0M447.9 48.6h0M441.5 53.8h0M437.9 56.6h0M434.2 58.9h0M503.9 59.1h0M431.9 61.9h0M429.3 63.2h0M423.5 68.9h0M494.7 68.4h0M422.2 71.4h0M491.4 71.5h0M485.7 73.2h0M417.9 75.9h0M478.1 76.8h0M413.1 81.9h0M467.9 83.1h0M469.1 83.0h0M410.5 87.9h0M456.2 90.2h0M451.1 94.1h0M407.3 97.7h0M408.5 100.5h0M409.3 102.4h0M430.4 105.5h0M416.0 108.0h0M375.9 48.1h0M375.9 49.3h0M375.9 51.1h0M377.3 42.1h0M377.2 43.3h0M379.2 42.1h0M379.5 43.5h0M381.3 34.4h0M381.4 35.9h0M381.5 43.4h0M381.2 58.5h0M381.6 60.1h0M381.5 67.5h0M383.7 45.1h0M383.6 46.4h0M383.3 53.8h0M383.4 55.6h0M383.5 59.9h0M383.6 80.8h0M383.7 88.6h0M385.4 39.2h0M385.5 79.4h0M385.3 85.7h0M385.6 86.9h0M385.2 88.5h0M385.6 90.0h0M385.2 91.4h0M385.3 96.2h0M385.3 97.5h0M385.4 99.1h0M387.3 64.6h0M387.5 65.9h0M387.4 76.4h0M387.3 78.1h0M387.2 82.5h0M387.6 89.8h0M387.3 91.4h0M387.2 93.2h0M387.4 97.6h0M389.3 85.7h0M389.2 87.0h0M389.3 88.7h0M389.5 90.1h0M389.5 91.7h0M389.2 93.1h0M389.3 94.4h0M389.3 96.1h0M389.2 100.3h0M391.9 61.3h0M391.8 63.1h0M391.8 64.4h0M391.9 76.6h0M392.0 78.1h0M392.0 79.4h0M391.7 82.4h0M391.8 83.9h0M391.9 85.3h0M391.8 86.8h0M391.8 88.4h0M391.8 89.9h0M391.9 91.5h0M391.7 100.7h0M392.9 72.1h0M393.0 73.5h0M393.3 81.0h0M393.2 82.5h0M392.8 83.9h0M392.8 86.8h0M392.8 88.4h0M393.1 89.9h0M392.9 91.5h0M392.9 93.2h0M392.9 103.3h0M395.3 30.1h0M395.0 31.6h0M395.4 57.1h0M395.4 58.6h0M395.0 59.9h0M395.1 63.1h0M395.1 82.4h0M395.2 83.9h0M395.2 88.4h0M395.3 89.9h0M395.0 93.1h0M395.2 97.5h0M395.1 98.9h0M395.0 106.3h0M397.6 42.1h0M397.4 48.0h0M397.2 49.3h0M397.2 68.9h0M397.6 70.4h0M397.4 72.0h0M397.5 81.2h0M397.3 91.7h0M397.3 94.4h0M397.2 96.0h0M397.5 97.6h0M397.7 99.0h0M397.6 100.7h0M397.6 101.8h0M397.4 103.6h0M399.1 38.8h0M399.2 40.5h0M399.2 48.0h0M399.1 76.5h0M398.9 78.1h0M399.2 82.4h0M399.3 83.9h0M398.9 85.5h0M399.4 86.9h0M399.1 94.5h0M398.9 106.3h0M401.7 43.4h0M401.9 48.1h0M401.7 62.9h0M401.8 64.4h0M401.5 66.0h0M401.7 67.7h0M401.7 69.2h0M401.8 74.9h0M401.8 76.7h0M401.6 89.9h0M401.4 91.7h0M401.6 93.1h0M403.5 43.5h0M403.6 45.2h0M403.5 63.0h0M403.4 69.1h0M403.4 70.7h0M403.3 72.2h0M403.4 73.6h0M403.6 74.9h0M403.6 80.9h0M403.6 82.7h0M403.5 83.8h0M403.4 85.5h0M403.6 86.8h0M403.5 88.4h0M403.6 94.6h0M403.4 95.8h0M403.4 112.3h0M405.8 27.1h0M405.8 28.3h0M405.9 49.7h0M405.7 63.0h0M405.7 69.0h0M405.8 70.4h0M405.5 72.1h0M405.8 73.4h0M405.8 74.9h0M405.9 76.6h0M405.6 78.2h0M405.7 79.5h0M405.9 81.2h0M405.6 82.5h0M405.8 85.4h0M405.7 90.0h0M405.6 103.5h0M405.8 105.0h0M407.9 28.4h0M407.7 66.1h0M407.8 74.9h0M408.0 76.4h0M408.1 78.1h0M407.7 79.4h0M408.0 85.4h0M407.7 87.2h0M408.0 88.5h0M407.9 94.7h0M408.1 95.9h0M407.9 97.5h0M407.7 98.9h0M407.8 100.3h0M407.7 115.6h0M409.8 29.9h0M409.8 31.4h0M409.5 45.1h0M409.6 60.0h0M409.5 61.4h0M409.5 62.9h0M409.6 71.9h0M409.7 73.6h0M409.6 74.8h0M409.7 76.4h0M409.9 78.1h0M409.7 79.6h0M409.9 81.1h0M409.6 85.4h0M409.7 87.1h0M409.8 92.8h0M409.5 97.5h0M409.7 98.9h0M409.6 109.4h0M411.9 25.6h0M412.0 63.1h0M412.0 64.6h0M411.8 70.5h0M411.8 81.0h0M412.0 82.4h0M411.8 105.1h0M411.9 106.4h0M413.7 58.4h0M413.8 60.0h0M413.6 67.5h0M413.8 77.9h0M413.6 79.6h0M413.6 80.9h0M414.0 82.3h0M413.6 83.9h0M413.7 105.2h0M413.6 106.5h0M413.8 111.0h0M413.9 112.6h0M414.8 39.1h0M415.1 40.5h0M415.0 42.0h0M414.8 43.7h0M415.0 58.6h0M414.9 60.1h0M414.9 64.5h0M414.9 72.1h0M415.1 73.3h0M414.8 79.6h0M415.1 104.9h0M414.9 106.4h0M417.6 65.9h0M417.9 74.8h0M417.9 105.2h0M417.8 106.7h0M417.5 108.0h0M417.4 116.8h0M417.8 118.6h0M419.2 37.3h0M419.1 67.6h0M419.2 69.1h0M419.5 70.4h0M419.3 72.1h0M419.4 73.3h0M419.3 74.8h0M419.4 107.9h0M419.5 109.7h0M419.3 115.5h0M421.3 33.0h0M421.3 34.6h0M421.5 48.2h0M421.4 57.1h0M421.2 58.4h0M421.3 66.1h0M421.4 67.4h0M421.2 68.9h0M421.5 70.4h0M421.2 72.1h0M421.6 112.4h0M421.2 115.3h0M423.2 34.4h0M422.9 36.0h0M423.1 46.5h0M423.0 47.8h0M423.1 49.3h0M422.9 50.8h0M423.0 52.5h0M423.0 54.0h0M423.2 63.1h0M423.3 64.4h0M422.9 66.0h0M423.1 67.7h0M423.1 69.2h0M422.8 104.8h0M423.1 111.1h0M423.2 112.5h0M423.0 119.8h0M424.9 34.4h0M424.9 38.9h0M425.1 51.1h0M425.2 52.5h0M424.9 66.2h0M425.2 67.5h0M425.1 106.6h0M425.1 107.9h0M425.2 116.9h0M425.1 118.4h0M424.8 121.6h0M427.0 62.8h0M427.2 64.5h0M427.3 65.9h0M427.2 67.5h0M427.0 68.9h0M429.4 29.9h0M429.2 31.6h0M429.3 33.0h0M429.3 34.4h0M429.3 64.6h0M429.1 65.9h0M429.2 104.9h0M429.3 112.3h0M428.9 113.9h0M429.0 115.6h0M429.0 117.1h0M431.7 51.0h0M431.8 52.7h0M431.9 55.4h0M431.7 56.8h0M433.2 16.5h0M433.2 31.4h0M433.4 43.4h0M433.4 45.2h0M433.4 51.1h0M433.4 52.4h0M433.4 55.7h0M433.3 56.9h0M433.2 58.4h0M433.3 59.9h0M433.4 61.6h0M433.2 63.1h0M433.3 129.1h0M436.0 53.9h0M435.9 58.5h0M436.1 59.9h0M436.1 61.7h0M436.1 100.4h0M436.0 102.2h0M435.9 110.8h0M435.8 112.6h0M436.0 114.2h0M435.8 115.4h0M436.1 120.0h0M436.0 121.6h0M436.0 125.8h0M437.6 28.5h0M437.7 30.0h0M437.6 40.4h0M437.6 42.2h0M437.5 43.3h0M437.5 52.5h0M437.4 53.9h0M437.6 55.6h0M437.6 57.2h0M437.4 105.0h0M437.3 111.1h0M437.7 114.1h0M437.7 115.4h0M437.5 117.1h0M439.0 22.6h0M438.9 23.8h0M439.3 35.9h0M438.8 43.6h0M439.1 55.6h0M439.1 99.1h0M439.0 109.5h0M439.2 120.1h0M441.2 28.6h0M441.3 37.4h0M441.1 38.8h0M441.3 55.7h0M441.1 97.6h0M441.3 102.1h0M441.1 103.4h0M441.3 113.9h0M441.4 118.7h0M443.3 27.1h0M443.2 97.6h0M443.1 98.9h0M443.0 100.6h0M443.3 102.0h0M443.1 103.5h0M443.1 105.1h0M443.0 112.4h0M445.6 21.2h0M445.1 48.2h0M445.2 49.6h0M445.4 50.9h0M445.1 52.7h0M445.4 96.0h0M445.3 99.0h0M445.5 100.4h0M445.1 102.2h0M445.2 103.4h0M445.1 109.4h0M445.2 110.8h0M445.1 112.5h0M447.7 49.5h0M447.9 50.9h0M447.7 52.6h0M447.7 92.9h0M447.7 94.4h0M447.6 96.0h0M447.9 109.7h0M447.8 111.2h0M447.6 123.2h0M449.4 35.9h0M449.0 37.7h0M449.1 93.1h0M449.3 106.3h0M449.2 107.9h0M449.4 120.0h0M449.2 121.5h0M451.6 46.5h0M451.7 101.8h0M451.6 103.4h0M451.7 104.9h0M451.5 122.9h0M451.8 124.3h0M451.7 126.0h0M453.9 22.5h0M453.5 43.5h0M453.6 45.1h0M453.5 46.5h0M453.6 48.0h0M453.6 49.6h0M453.6 93.1h0M453.9 94.3h0M453.9 96.0h0M453.8 97.4h0M453.8 104.9h0M453.9 106.5h0M455.4 91.5h0M455.6 93.1h0M455.2 94.4h0M455.4 95.8h0M455.5 97.7h0M455.4 99.0h0M455.5 100.5h0M455.4 102.1h0M455.2 119.9h0M458.0 21.1h0M457.8 37.4h0M457.8 91.4h0M457.7 93.0h0M458.0 94.6h0M457.7 96.0h0M457.7 97.7h0M458.0 103.4h0M458.0 110.8h0M457.8 112.5h0M459.3 19.3h0M459.6 44.9h0M459.5 46.7h0M459.3 87.0h0M459.6 88.6h0M459.5 100.3h0M459.4 101.9h0M461.6 84.0h0M461.4 85.4h0M461.3 87.0h0M461.3 88.6h0M461.5 90.2h0M461.3 91.4h0M461.4 92.8h0M461.4 117.2h0M463.3 36.1h0M463.3 38.8h0M463.4 40.5h0M463.4 41.9h0M463.3 43.4h0M463.7 45.0h0M463.4 82.6h0M463.6 83.9h0M463.5 97.5h0M463.4 98.9h0M463.6 100.4h0M465.4 40.5h0M465.6 42.2h0M465.6 45.0h0M465.8 85.4h0M465.5 109.3h0M465.8 110.9h0M467.8 86.9h0M467.8 103.4h0M469.2 83.9h0M469.6 85.6h0M469.6 91.3h0M469.2 102.1h0M469.5 103.5h0M469.4 118.6h0M471.4 40.4h0M471.6 42.1h0M471.3 44.8h0M471.3 79.5h0M471.6 81.0h0M471.3 82.7h0M471.5 97.3h0M471.4 99.1h0M471.3 100.5h0M471.5 102.0h0M471.6 103.7h0M473.6 20.8h0M473.3 34.4h0M473.3 40.4h0M473.7 78.1h0M473.6 85.5h0M473.6 87.0h0M473.4 98.9h0M473.6 100.4h0M473.3 106.3h0M475.0 19.3h0M475.0 30.1h0M475.0 37.5h0M475.1 76.4h0M475.2 96.0h0M474.8 100.4h0M477.9 34.6h0M477.6 35.9h0M477.6 37.4h0M477.6 75.0h0M477.5 76.4h0M477.6 93.0h0M479.6 28.5h0M479.8 43.5h0M479.5 75.1h0M479.7 76.6h0M479.9 78.1h0M479.7 79.6h0M479.5 85.4h0M479.6 88.6h0M479.6 89.9h0M479.6 91.6h0M479.5 93.0h0M479.9 94.7h0M481.2 37.4h0M481.3 38.9h0M481.4 40.5h0M481.4 77.9h0M481.1 79.4h0M481.0 96.0h0M481.0 97.6h0M481.3 110.9h0M481.0 112.5h0M483.3 36.1h0M482.8 37.4h0M482.9 38.9h0M483.2 40.6h0M482.8 41.8h0M483.0 43.7h0M482.9 78.0h0M483.1 79.3h0M485.3 34.5h0M485.2 35.9h0M485.1 37.7h0M485.0 38.9h0M485.2 40.7h0M485.4 42.1h0M485.2 71.9h0M485.3 73.6h0M487.6 34.5h0M488.0 40.5h0M487.9 42.0h0M487.9 43.5h0M488.0 73.4h0M487.8 75.0h0M487.5 78.2h0M487.7 79.7h0M487.6 80.9h0M487.9 82.7h0M489.5 22.3h0M489.5 28.7h0M489.5 30.1h0M489.5 37.5h0M489.7 40.5h0M489.8 76.4h0M489.6 90.2h0M493.8 66.0h0M493.9 67.5h0M493.9 68.9h0M493.9 70.5h0M493.9 85.4h0M493.9 87.1h0M495.3 25.4h0M495.1 27.1h0M495.1 40.3h0M498.0 69.1h0M497.7 92.9h0M499.3 30.0h0M499.3 31.4h0M499.4 60.0h0M501.7 58.4h0M501.7 60.1h0M501.3 61.5h0M503.7 28.6h0M503.7 29.9h0M504.0 51.0h0M503.5 52.5h0M505.1 34.7h0M505.4 36.1h0M505.3 52.3h0M446.6 22.5h0M451.3 28.2h0M487.0 24.4h0M485.0 30.0h0M474.0 33.8h0M500.0 33.8h0M502.0 39.5h0M414.0 37.6h0M417.0 42.0h0M421.0 43.0h0M425.5 44.2h0M420.0 49.0h0M415.0 54.5h0M420.0 60.0h0M381.3 77.0h0M383.0 66.0h0M402.0 99.5h0M399.0 109.8h0M385.0 83.5h0M377.3 35.7h0M377.6 38.3h0M377.5 41.0h0M377.6 43.6h0M377.4 46.2h0M377.4 48.9h0M377.4 51.5h0M377.7 54.1h0M377.7 56.7h0M377.5 59.4h0M377.5 62.0h0M388.7 38.5h0M388.8 40.4h0M388.7 47.0h0M388.8 49.5h0M388.7 52.0h0M388.8 54.5h0M389.0 57.0h0M388.9 59.5h0M388.8 62.0h0M402.9 43.0h0M403.1 44.2h0M403.1 45.4h0M403.2 46.6h0M403.2 47.8h0M403.2 49.0h0M402.8 50.2h0M403.1 51.4h0M403.1 52.6h0M430.3 20.6h0M430.0 22.0h0M430.3 23.5h0M430.0 24.9h0M430.0 26.3h0M485.1 79.0h0M484.9 80.2h0M484.9 81.5h0M484.8 82.8h0M484.9 84.0h0M485.0 85.2h0M485.0 86.5h0M484.9 87.8h0M484.8 89.0h0M485.0 90.2h0M485.1 91.5h0M484.8 92.8h0M485.1 94.0h0M436.6 102.3h0M452.9 47.4h0M455.2 46.3h0M471.3 80.4h0M460.0 87.2h0M505.6 50.0h0M427.2 106.0h0M451.3 93.2h0M450.4 49.0h0M463.6 43.8h0M472.5 43.0h0M491.6 69.7h0M449.0 49.9h0M436.8 101.9h0M441.5 99.5h0M424.4 106.3h0M411.6 87.0h0M478.2 42.5h0M427.9 105.6h0M473.6 79.2h0M469.0 81.3h0M444.8 52.8h0M481.3 74.5h0"/><path stroke="#3e5eaf" d="M419.3 106.8h0M504.8 51.2h0M475.0 43.1h0M411.9 104.6h0M431.9 63.0h0M490.6 41.8h0M441.2 56.1h0M473.9 78.6h0M434.2 61.3h0M496.6 65.2h0M449.0 50.6h0M484.9 72.4h0M420.9 73.8h0M504.1 45.0h0M442.1 55.6h0M500.4 42.9h0M448.3 51.2h0M479.1 75.4h0M418.3 106.5h0M414.4 81.6h0M464.5 83.5h0M431.5 103.9h0M458.5 87.1h0M445.5 96.6h0M433.3 103.0h0M488.0 42.5h0M426.8 67.8h0M498.1 63.1h0M503.8 53.7h0M439.1 100.2h0M479.9 42.8h0"/><path stroke="#426ab2" d="M445.3 53.4h0M456.3 46.8h0M454.6 48.0h0M434.8 102.1h0M483.0 73.1h0M488.3 70.2h0M414.9 105.2h0M474.4 77.7h0M440.1 57.4h0M460.8 85.2h0M437.7 59.6h0M410.0 97.4h0M493.6 67.0h0M442.8 55.3h0M460.5 45.5h0M459.0 46.1h0M410.5 99.6h0M464.3 44.9h0M425.8 69.5h0M460.2 85.5h0M449.7 92.9h0M467.2 81.4h0M462.5 83.8h0M456.8 87.4h0M480.7 73.9h0M410.8 91.5h0M501.4 43.8h0M451.4 91.6h0M410.8 100.8h0M427.6 104.4h0M465.0 82.4h0M412.0 89.0h0M459.7 46.2h0M503.3 45.8h0M418.6 78.0h0M481.5 43.3h0M448.7 93.3h0M455.7 47.8h0M476.4 76.2h0M472.2 78.6h0M504.1 49.6h0M484.4 43.3h0M418.9 77.4h0M488.6 69.6h0M411.6 101.9h0M429.6 66.4h0M419.7 77.1h0M476.7 44.1h0M423.8 72.1h0M465.6 82.2h0M494.0 65.8h0M428.1 67.8h0M426.8 68.8h0M422.6 105.4h0M497.8 62.0h0M498.7 61.5h0M501.8 57.3h0M421.6 75.2h0"/><path stroke="#4676b5" d="M503.6 52.4h0M451.9 49.8h0M435.6 101.0h0M491.2 68.1h0M502.6 56.0h0M482.5 72.5h0M501.5 44.6h0M410.3 94.6h0M410.3 96.6h0M449.9 92.0h0M410.9 93.1h0M459.1 85.4h0M499.4 44.1h0M414.7 104.0h0M446.8 53.5h0M423.7 72.9h0M474.5 44.4h0M416.2 104.5h0M439.8 58.7h0M466.1 45.5h0M434.8 62.6h0M468.6 79.9h0M501.1 44.4h0M495.8 43.5h0M441.7 97.5h0M489.0 43.3h0M440.6 98.1h0M490.1 43.5h0M426.8 103.9h0M493.3 43.3h0M491.0 43.7h0M439.7 98.6h0M446.9 94.1h0M482.6 44.2h0M475.5 76.0h0M503.4 50.5h0M471.5 45.0h0M413.4 86.9h0M414.6 84.4h0M470.0 79.2h0M467.9 45.3h0M473.7 76.9h0M442.6 56.8h0M485.8 44.0h0M497.8 43.8h0M468.7 45.3h0M412.5 89.9h0M433.4 101.6h0M415.9 82.0h0M484.3 70.8h0M472.9 45.0h0M477.0 75.2h0M464.3 46.1h0M424.1 104.6h0M416.8 81.0h0M432.5 65.0h0M493.2 66.0h0M437.9 99.1h0M500.5 58.6h0M416.0 103.8h0M461.3 83.7h0M465.5 46.1h0M461.7 46.6h0M487.4 43.9h0M457.3 47.8h0M455.7 48.8h0M494.1 65.1h0M418.5 79.6h0M445.1 94.9h0M478.7 44.6h0M443.0 56.8h0M454.0 88.4h0M423.1 74.5h0M444.4 55.8h0M462.5 46.4h0M429.0 102.9h0M470.3 45.3h0M467.2 46.2h0M494.4 44.0h0M412.0 100.2h0M447.4 54.2h0M462.8 82.7h0M414.7 86.1h0M481.6 44.3h0M482.8 44.4h0M466.6 80.5h0"/><path stroke="#5285bc" d="M425.3 72.0h0M418.3 104.4h0M442.8 96.0h0M421.6 76.5h0M411.9 99.3h0M437.3 61.4h0M475.9 45.0h0M434.4 100.4h0M442.0 57.8h0M470.1 78.5h0M412.3 91.3h0M411.4 94.7h0M485.3 70.2h0M451.6 51.6h0M413.5 102.5h0M411.4 96.7h0M485.9 44.7h0M454.5 50.1h0M439.2 60.6h0M449.4 52.8h0M421.2 104.5h0M430.9 67.2h0M451.1 51.9h0M435.9 62.8h0M420.0 104.7h0M411.9 93.3h0M442.3 96.1h0M430.0 68.1h0M501.5 46.1h0M428.4 69.3h0M426.8 71.1h0M449.0 53.7h0M417.8 104.1h0M498.8 59.6h0M418.4 80.6h0M487.2 69.2h0M479.3 72.9h0M424.8 103.5h0M412.1 97.5h0M452.0 89.4h0M447.2 54.9h0M419.6 79.6h0M444.8 56.6h0M424.2 74.5h0M416.1 84.2h0M495.5 44.4h0M414.1 89.1h0M452.7 51.3h0M458.6 48.4h0M433.4 65.3h0M457.5 85.6h0M425.4 73.0h0M414.7 88.0h0M428.7 102.4h0M428.3 70.0h0M421.8 76.8h0M431.3 101.5h0M492.8 44.4h0M437.3 62.6h0M439.8 60.7h0M413.6 91.1h0M457.1 49.3h0M439.1 97.4h0M421.0 104.0h0M467.3 79.4h0M489.5 67.3h0M499.1 45.7h0M413.3 100.8h0M421.5 78.2h0M421.9 77.5h0M502.2 47.9h0M415.5 86.4h0M438.7 62.2h0M479.9 44.8h0M452.6 52.2h0M453.4 51.4h0M455.3 50.5h0M435.7 64.3h0M413.9 90.6h0M480.2 72.3h0M435.0 64.8h0M413.1 98.5h0M447.4 55.3h0M435.9 99.2h0M413.2 93.5h0M430.4 69.1h0M427.3 71.9h0M460.0 48.7h0M418.5 82.1h0M459.7 83.8h0M461.4 47.8h0M433.1 66.9h0M438.7 62.7h0M413.0 93.9h0M502.7 50.6h0M416.3 86.0h0M502.1 53.4h0M419.8 81.1h0M440.1 61.5h0M415.2 101.4h0M417.7 84.0h0M451.4 89.7h0M421.4 79.7h0M495.4 62.7h0M427.2 102.6h0M429.1 71.6h0M423.6 77.3h0M444.1 58.6h0M424.0 77.1h0M426.9 74.0h0M419.1 83.2h0M429.9 71.1h0M421.2 81.0h0M416.9 102.3h0M425.9 75.5h0M417.1 86.6h0M450.0 90.5h0M497.8 45.6h0M460.8 82.8h0M425.5 76.3h0M422.3 79.8h0M432.1 69.5h0M415.1 90.5h0M435.1 66.4h0M427.6 74.7h0M434.2 67.4h0M418.1 85.6h0M431.2 71.1h0M413.3 97.9h0M414.4 100.2h0M432.7 69.6h0M419.9 83.3h0M486.6 45.2h0M456.5 51.1h0M416.3 88.7h0M438.0 64.1h0M428.9 73.3h0M435.8 66.0h0M453.6 52.7h0M430.2 72.4h0M414.6 92.0h0M418.2 86.4h0M445.4 93.4h0M469.6 46.3h0M424.4 78.8h0M421.1 83.2h0M440.8 95.9h0M425.3 78.2h0M500.7 47.0h0M451.1 54.0h0M426.3 77.0h0M455.0 52.1h0M458.8 50.1h0M442.4 60.5h0M430.8 72.0h0M435.4 66.9h0M491.9 65.4h0M445.2 58.3h0M413.6 95.5h0M428.4 74.8h0M423.3 103.0h0M415.0 99.3h0M429.7 74.2h0M494.7 45.2h0M423.1 81.6h0M443.5 60.1h0M478.4 73.1h0M500.3 56.4h0M501.1 55.3h0M446.4 57.4h0M440.1 63.2h0M437.0 66.1h0M416.4 90.1h0M453.8 87.3h0M493.5 64.2h0M499.7 57.9h0M490.3 45.0h0M434.1 99.6h0M458.8 50.7h0M429.5 101.4h0M441.6 61.8h0M419.9 103.1h0M462.9 48.4h0M434.1 69.3h0M439.7 96.3h0M447.7 57.0h0M422.1 103.0h0M460.0 50.0h0M426.5 77.8h0M468.7 78.3h0M494.5 63.0h0M470.8 46.5h0M424.7 102.4h0M420.0 85.5h0M427.8 76.5h0M482.9 70.6h0M446.6 92.7h0M416.2 91.3h0M416.6 100.4h0M444.1 94.0h0M498.6 46.7h0M419.2 87.1h0M475.7 74.5h0M488.6 67.3h0M481.1 71.5h0M432.9 71.1h0M436.3 98.0h0M421.0 84.6h0"/><path stroke="#5e93c4" d="M497.9 59.5h0M449.9 55.7h0M484.0 45.4h0M432.7 100.2h0M431.3 100.5h0M500.4 47.8h0M415.1 93.5h0M421.9 83.4h0M465.3 80.1h0M426.0 102.2h0M417.7 89.5h0M422.3 83.0h0M434.0 70.0h0M473.7 75.5h0M425.8 79.1h0M448.6 91.2h0M446.8 91.9h0M489.8 66.4h0M455.1 86.4h0M414.5 95.5h0M424.1 81.4h0M418.0 89.0h0M437.0 67.1h0M437.2 97.5h0M473.2 46.3h0M452.1 88.7h0M447.1 58.0h0M442.6 94.6h0M501.7 49.4h0M471.6 76.7h0M421.0 85.0h0M463.0 48.8h0M419.0 102.2h0M461.1 50.1h0M451.3 54.9h0M464.7 48.3h0M488.0 45.5h0M491.9 45.6h0M467.8 47.7h0M485.1 69.1h0M414.9 97.1h0M445.1 60.1h0M418.5 101.7h0M430.5 74.7h0M499.0 47.5h0M414.8 94.9h0M432.6 99.5h0M464.0 80.7h0M496.3 60.6h0M455.1 53.5h0M455.9 85.4h0M454.1 54.0h0M453.0 54.4h0M467.4 78.3h0M416.0 92.8h0M463.1 80.8h0M439.1 65.5h0M471.1 76.3h0M439.6 65.0h0M501.5 52.3h0M423.0 102.1h0M475.2 46.5h0M429.7 76.1h0M443.4 93.4h0M459.7 83.1h0M420.6 102.2h0M456.5 53.0h0M484.6 46.1h0M496.5 46.3h0M482.4 46.0h0M497.3 46.9h0M427.0 79.0h0M494.1 46.2h0M472.3 46.8h0M459.5 51.7h0M491.0 65.0h0M466.0 48.3h0M498.1 58.7h0M495.7 61.2h0M435.6 69.6h0M432.0 73.3h0M426.7 101.1h0M477.4 72.7h0M431.5 99.7h0M444.0 61.7h0"/><path stroke="#6aa2cb" d="M416.6 98.6h0M433.1 72.3h0M471.8 75.3h0M476.6 73.0h0M425.9 100.9h0M418.8 88.8h0M500.7 54.2h0M415.9 97.5h0M430.2 99.9h0M425.8 80.6h0M481.1 70.3h0M427.9 100.6h0M487.7 67.2h0M434.0 97.9h0M493.9 62.2h0M417.9 99.9h0M458.1 83.6h0M461.0 81.6h0M424.6 82.6h0M501.0 52.1h0M482.7 69.6h0M500.6 49.9h0M452.4 55.4h0M461.1 51.2h0M432.6 73.6h0M493.5 46.4h0M451.2 87.9h0M485.8 67.6h0M433.3 98.1h0M498.5 57.2h0M492.4 63.2h0M441.1 94.2h0M416.2 96.5h0M459.4 51.8h0M424.0 100.8h0M492.0 46.4h0M484.1 68.4h0M497.2 47.5h0M468.6 76.8h0M445.5 91.7h0M487.4 46.6h0M490.0 64.8h0M487.9 46.5h0M498.1 57.5h0M475.4 73.1h0M423.5 84.2h0M437.1 95.9h0M421.0 86.8h0M443.2 62.8h0"/><path stroke="#77afd2" d="M472.9 47.4h0M456.5 84.2h0M498.9 48.9h0M451.9 86.8h0M464.5 79.1h0M500.6 51.1h0M442.5 63.3h0M429.5 99.7h0M419.4 100.6h0M498.9 55.6h0M421.6 101.2h0M466.4 49.1h0M435.4 70.7h0M431.9 74.3h0M476.3 47.0h0M441.9 63.9h0M462.6 50.5h0M425.3 82.2h0M488.0 66.2h0M454.2 85.7h0M462.6 79.8h0M473.9 73.6h0M479.7 70.4h0M478.3 71.0h0M457.6 53.4h0M418.6 99.6h0M439.2 66.8h0M416.8 94.1h0M451.3 56.5h0M440.8 64.8h0M444.4 62.1h0M439.1 94.7h0M458.6 52.8h0M450.1 57.5h0M447.8 58.8h0M446.8 90.1h0M474.5 47.5h0M418.5 91.5h0M447.3 59.6h0M418.2 92.6h0M422.9 100.6h0M494.7 60.4h0M458.1 82.5h0M489.8 46.9h0M447.6 89.4h0M446.8 60.2h0M464.3 78.3h0M476.8 71.5h0M449.3 58.2h0M478.0 46.8h0M486.0 46.8h0M489.1 65.1h0M467.6 49.2h0M496.5 58.5h0"/><path stroke="#85bbd8" d="M419.7 89.8h0M472.1 47.9h0M499.4 53.5h0M448.2 89.0h0M451.0 86.9h0M428.9 78.6h0M465.8 77.5h0M435.5 96.2h0M443.2 91.8h0M469.3 48.6h0M494.3 47.7h0M417.7 97.3h0M464.7 49.8h0M480.8 47.1h0M479.9 47.1h0M472.0 73.8h0M438.0 68.5h0M422.8 85.4h0M437.9 94.6h0M440.1 66.5h0M498.1 56.0h0M428.4 99.1h0M491.2 62.9h0M419.7 99.3h0M474.6 72.7h0M461.9 79.3h0M441.4 92.6h0M480.8 69.2h0M480.0 69.3h0M455.4 55.0h0M440.4 92.9h0M487.3 65.5h0M448.9 88.1h0M495.4 47.9h0M454.5 55.3h0M427.7 80.5h0M484.4 67.2h0M434.9 72.1h0M467.2 76.7h0M470.4 48.5h0M460.2 80.7h0M417.9 93.9h0M466.1 77.1h0"/><path stroke="#93c6df" d="M482.5 68.0h0M469.5 75.2h0M427.1 98.8h0M461.1 51.9h0M446.6 61.1h0M493.0 60.9h0M489.7 47.4h0M458.8 80.9h0M454.6 84.1h0M470.0 74.5h0M430.1 97.9h0M486.9 47.4h0M436.0 94.9h0M477.4 47.5h0M421.3 88.1h0M449.0 87.6h0M454.9 83.7h0M467.9 75.3h0M425.0 99.2h0M493.1 48.2h0M417.9 95.7h0M498.5 50.3h0M446.3 89.2h0M421.9 87.3h0M484.7 66.5h0M457.2 82.2h0M472.9 72.4h0M434.3 95.6h0M442.0 91.6h0"/><path stroke="#a1d1e5" d="M423.0 99.0h0M476.5 70.6h0M428.5 80.1h0M439.2 93.1h0M479.0 47.5h0M443.4 64.2h0M444.4 90.0h0M498.6 52.9h0M481.1 47.5h0M486.1 65.7h0M419.6 92.2h0M429.4 78.9h0M420.7 98.7h0M430.9 97.0h0M459.7 80.0h0M424.2 98.7h0M497.4 50.1h0M497.9 53.9h0M469.9 49.2h0M452.2 85.2h0M440.7 92.2h0M469.5 74.1h0M476.0 47.9h0M419.5 92.7h0M419.1 95.0h0M427.0 98.0h0M437.2 70.4h0M439.0 68.4h0M419.8 97.7h0M422.2 87.9h0M470.8 72.9h0M445.0 63.0h0M455.6 82.6h0M432.6 96.1h0M421.0 98.0h0M419.6 96.6h0M489.8 62.6h0M421.1 89.5h0M463.2 77.6h0"/><path stroke="#afdbea" d="M488.2 48.0h0M438.0 92.8h0M480.7 68.1h0M423.4 97.6h0M471.6 72.4h0M462.2 77.8h0M457.9 54.5h0M425.8 97.4h0M423.0 96.9h0M466.0 75.6h0M495.9 57.0h0M447.6 61.1h0M421.3 96.2h0M491.7 61.1h0M436.0 71.8h0M485.6 48.0h0M432.4 76.0h0M496.7 50.0h0M420.7 94.7h0M431.6 96.0h0M495.0 57.9h0M424.2 86.1h0M457.2 81.1h0M427.1 82.7h0M423.2 96.1h0M491.2 48.4h0M433.6 74.8h0M447.9 87.1h0M430.5 78.5h0M452.6 83.9h0M451.2 85.1h0M433.9 74.6h0M449.5 59.4h0M442.0 66.1h0M428.3 96.8h0M492.5 60.2h0"/><path stroke="#bde2ee" d="M464.4 76.2h0M485.4 65.2h0M430.9 78.0h0M488.7 62.9h0M443.7 89.6h0M425.5 84.5h0M471.9 49.1h0M475.2 69.9h0M476.1 69.4h0M428.5 80.9h0M429.5 96.3h0M422.6 94.8h0M432.0 76.8h0M452.9 57.6h0M454.0 57.0h0M477.9 68.3h0M491.5 60.5h0M424.2 95.7h0M457.2 55.7h0M423.8 86.3h0M420.9 93.5h0M446.7 87.5h0M441.9 89.8h0"/><path stroke="#cae8f2" d="M486.4 64.2h0M496.9 51.3h0M439.0 91.4h0M473.0 49.0h0M495.8 50.3h0M434.1 94.2h0M497.1 52.9h0M446.2 63.0h0M444.6 88.5h0M440.7 68.0h0M494.4 50.0h0M470.2 71.9h0M424.9 95.6h0M465.0 51.2h0M424.1 95.1h0M435.1 73.9h0M482.7 66.0h0M467.9 73.1h0M451.6 83.9h0M426.7 96.0h0M431.3 94.8h0M451.1 58.9h0M421.1 91.3h0M487.7 62.8h0M429.0 96.2h0M460.1 77.8h0M469.6 72.1h0"/><path stroke="#d8eff6" d="M474.7 69.5h0M466.0 73.9h0M426.8 83.7h0M454.9 81.3h0M449.0 85.5h0M453.6 82.4h0M495.7 56.1h0M489.8 60.8h0M435.8 92.4h0M480.0 66.8h0M493.4 49.8h0M463.6 75.4h0M461.9 76.3h0M454.9 56.9h0M496.4 52.4h0M468.8 50.0h0M491.9 49.4h0M465.5 51.0h0M473.2 70.1h0M437.4 71.4h0M496.1 54.3h0M474.0 69.7h0M462.7 76.1h0M440.1 69.0h0M438.9 70.1h0M478.6 67.3h0M436.3 91.9h0M484.1 48.7h0M434.6 93.2h0M433.6 93.5h0M432.5 94.0h0M493.3 57.9h0M464.6 74.5h0"/><path stroke="#e3f4f2" d="M457.9 79.1h0M452.9 82.6h0M430.2 80.6h0M488.6 49.2h0M439.8 89.8h0M482.5 48.7h0M467.9 72.1h0M494.7 56.4h0M422.0 92.1h0"/><path stroke="#ebf7e4" d="M432.6 77.9h0M436.0 74.1h0M423.0 93.1h0M428.0 94.9h0M437.0 91.1h0M424.9 94.1h0M471.6 69.9h0M439.1 90.0h0M443.3 87.9h0M442.3 88.4h0M426.0 85.8h0M426.6 94.6h0M476.8 67.5h0M434.4 76.1h0M494.7 51.3h0M443.3 66.3h0M491.9 58.7h0M437.7 90.5h0M442.4 67.4h0M490.0 60.1h0M459.9 54.4h0M464.0 74.0h0M471.1 69.8h0M435.5 75.2h0M452.9 59.0h0M445.8 64.5h0M495.0 54.6h0M448.3 85.0h0M445.5 64.9h0M424.1 92.9h0"/><path stroke="#f3fad5" d="M425.0 93.5h0M425.4 87.1h0M456.5 79.6h0M430.9 80.3h0M424.1 89.1h0M422.9 90.5h0M453.3 59.0h0M429.6 93.9h0M451.1 60.3h0M432.0 79.3h0M428.9 82.8h0M488.9 60.7h0M484.1 64.1h0M426.8 85.7h0M468.0 71.0h0M442.2 68.4h0M475.2 68.0h0M469.2 70.3h0M494.6 55.2h0M430.9 93.1h0M434.8 91.1h0M424.1 89.6h0M459.4 76.9h0M448.6 63.0h0M437.4 73.7h0M474.5 49.3h0M443.0 68.1h0"/><path stroke="#fbfdc6" d="M488.1 61.2h0M430.4 82.0h0M450.4 61.3h0M452.0 60.3h0M466.0 71.6h0M450.0 61.9h0M429.9 92.9h0M435.1 90.5h0M428.8 84.2h0M444.6 87.1h0M472.1 68.8h0M445.0 66.4h0M490.3 50.0h0M458.4 56.1h0M423.9 91.3h0M458.0 77.8h0M444.5 66.9h0M426.7 92.9h0M433.0 79.5h0M428.0 85.5h0M435.7 89.9h0M480.4 65.5h0M469.5 50.6h0M439.1 72.3h0M492.4 51.2h0M429.7 84.1h0M449.4 63.0h0M438.9 89.1h0M494.1 52.3h0M425.5 92.0h0M447.0 65.5h0M432.6 90.9h0M431.4 81.9h0M442.2 69.8h0M440.9 70.8h0M427.6 87.2h0M429.0 92.4h0M452.0 61.6h0M431.8 90.9h0M426.0 88.8h0M448.0 64.9h0M425.4 90.2h0M433.3 89.9h0M450.7 63.0h0M457.6 57.1h0M448.2 65.4h0M426.7 91.3h0M454.6 59.9h0M433.4 80.5h0M430.9 84.0h0M485.4 62.7h0M427.6 88.3h0M430.1 91.1h0M452.0 62.5h0M430.1 85.4h0M428.1 88.1h0M426.5 90.0h0M434.8 78.5h0M428.5 87.4h0M431.9 89.4h0M450.1 64.4h0M428.6 91.0h0M431.0 85.0h0M429.5 87.0h0M432.6 89.0h0M429.7 89.8h0M428.2 89.9h0M430.4 89.0h0M431.4 88.4h0"/><path stroke="#fffbb9" d="M431.7 86.4h0M444.0 68.8h0M451.2 64.3h0M432.6 85.0h0M487.6 61.0h0M433.5 87.1h0M452.5 63.8h0M439.8 72.4h0M455.7 58.8h0M454.0 62.8h0M435.1 88.2h0M439.2 73.3h0M433.1 82.9h0M434.7 87.7h0M446.9 67.2h0M433.0 84.1h0M436.3 88.7h0M453.9 64.1h0M454.7 61.3h0M456.9 78.6h0M479.8 65.5h0M436.5 77.0h0M451.4 65.7h0M448.9 84.1h0M490.2 58.8h0M437.9 74.9h0M464.7 71.4h0M434.5 81.2h0M434.8 80.1h0M483.1 64.0h0M486.1 62.0h0M434.2 84.6h0M461.8 74.3h0M449.9 66.4h0M452.7 65.4h0M455.3 63.5h0M437.9 88.5h0M441.7 71.8h0M445.3 69.0h0M462.8 52.8h0M448.5 67.3h0M455.3 60.4h0M476.0 49.5h0M444.1 70.3h0M456.2 64.0h0M470.4 69.2h0M436.4 78.4h0M466.2 70.0h0M451.0 82.6h0M492.4 56.4h0M434.9 85.2h0M449.5 67.7h0M484.9 49.3h0M437.0 78.2h0M436.2 79.9h0M436.4 87.2h0"/><path stroke="#fff3ad" d="M455.9 61.7h0M435.2 82.8h0M441.6 73.1h0M463.2 73.0h0M453.9 65.8h0M438.5 76.2h0M464.2 69.9h0M463.3 71.7h0M435.4 85.0h0M469.6 69.2h0M446.5 69.5h0M440.4 73.8h0M436.9 87.2h0M438.1 77.1h0M444.5 70.9h0M435.9 81.1h0M447.7 69.2h0M442.0 87.5h0M492.5 51.9h0M446.1 70.0h0M439.9 87.8h0M463.4 70.2h0M490.2 50.4h0M477.5 65.9h0M493.0 53.7h0M453.3 80.7h0M457.3 57.9h0M472.2 68.1h0M459.5 56.0h0M439.3 75.4h0M458.5 57.0h0M450.5 68.2h0M440.0 75.0h0M436.2 82.1h0M481.2 64.7h0M486.8 50.1h0"/><path stroke="#feeba1" d="M492.5 55.5h0M455.3 79.2h0M451.8 67.5h0M437.7 79.2h0M446.6 85.2h0M443.9 71.8h0M465.7 69.1h0M452.3 81.1h0M461.4 74.1h0M457.7 65.0h0M457.0 59.6h0M463.0 69.6h0M455.1 66.4h0M436.1 83.8h0M474.1 66.8h0M478.2 49.5h0M491.7 51.4h0M457.3 62.8h0M472.2 50.6h0M471.1 68.1h0M454.6 79.5h0M446.8 84.6h0M438.5 77.9h0M449.6 69.2h0M467.5 68.5h0"/><path stroke="#fee395" d="M468.0 51.4h0M486.7 60.5h0M442.9 86.3h0M464.1 68.7h0M445.0 85.7h0M479.5 49.7h0M480.8 49.4h0M461.9 70.2h0M466.3 52.1h0M447.9 70.1h0M457.4 60.9h0M479.9 64.6h0M491.1 56.5h0M490.4 57.0h0M458.3 76.1h0M458.3 57.9h0M455.9 77.9h0M462.0 54.5h0M458.2 62.7h0M483.4 62.7h0M462.1 71.6h0M468.4 68.0h0M457.4 66.3h0M437.2 84.6h0M491.4 55.6h0M461.5 55.2h0M461.5 69.6h0M459.8 74.6h0M464.4 52.8h0M444.9 72.4h0"/><path stroke="#fed889" d="M458.4 66.2h0M437.7 81.7h0M475.2 66.0h0M467.1 51.9h0M476.6 65.5h0M439.9 76.8h0M484.1 50.1h0M451.4 68.9h0M457.2 67.1h0M442.1 75.0h0M444.2 73.3h0M437.8 85.7h0M447.5 83.6h0M462.8 53.8h0M459.0 65.1h0M443.1 86.0h0M491.5 52.9h0M437.3 82.0h0M439.3 86.7h0M454.3 68.0h0M446.9 71.3h0M449.5 82.0h0M440.0 77.5h0M477.4 64.8h0M440.8 86.5h0M444.6 73.4h0M465.6 67.4h0M455.1 68.1h0M458.6 61.6h0"/><path stroke="#fecb7d" d="M483.0 50.1h0M463.0 67.7h0M457.3 76.1h0M458.5 60.0h0M452.8 69.0h0M458.7 75.1h0M484.0 61.5h0M449.5 70.3h0M485.9 59.9h0M459.7 67.0h0M461.3 67.7h0M491.0 54.5h0M459.6 73.9h0M451.2 70.1h0M460.1 66.2h0M452.7 79.4h0M448.0 82.3h0M439.5 79.7h0M475.2 50.6h0M465.1 67.1h0M459.9 57.6h0M467.5 67.1h0M458.9 68.0h0M487.5 58.4h0M487.9 58.2h0M455.4 68.4h0M439.4 85.6h0M472.4 66.2h0M443.0 75.5h0M438.9 80.9h0M470.6 66.4h0M469.9 51.4h0M454.5 68.9h0M450.7 80.6h0M446.7 73.1h0"/><path stroke="#fdbf71" d="M455.9 76.6h0M459.6 69.6h0M482.1 62.4h0M441.6 85.5h0M459.8 71.0h0M449.7 80.9h0M456.8 75.3h0M454.3 77.7h0M460.6 64.4h0M465.8 66.4h0M439.0 81.9h0M448.6 72.0h0M446.9 82.3h0M459.3 60.9h0M473.3 65.6h0M441.8 77.0h0M460.9 65.6h0M444.5 75.2h0M490.0 54.9h0M460.1 62.6h0M460.1 58.3h0M439.9 80.6h0M445.2 83.4h0M451.0 79.5h0M459.4 71.3h0M473.0 50.9h0M441.0 84.9h0M440.4 79.9h0M442.3 84.3h0M439.5 83.9h0M458.1 69.5h0M443.4 76.4h0M458.4 72.9h0M457.4 74.2h0M488.0 51.5h0M442.1 78.1h0M459.9 59.8h0M456.3 69.6h0M452.6 70.9h0M440.6 84.4h0M461.6 64.7h0M448.6 73.0h0M454.0 70.4h0M440.0 81.9h0M449.6 72.4h0M463.5 65.4h0M464.0 65.6h0M474.7 64.9h0M458.4 71.0h0M467.2 65.8h0M448.8 73.1h0M456.8 70.2h0M445.0 82.3h0M452.7 77.5h0M461.6 63.5h0M442.9 83.6h0M442.1 79.0h0M455.0 75.3h0M451.6 72.1h0M458.1 72.6h0M450.1 78.8h0M451.9 71.8h0M450.7 78.5h0M447.7 80.6h0M453.8 76.0h0M462.5 64.6h0M446.7 75.3h0M454.9 70.8h0M446.0 76.0h0M445.3 81.6h0M444.9 76.9h0M454.6 71.3h0M446.0 80.9h0M444.6 77.3h0M443.9 78.2h0"/><path stroke="#fdb265" d="M455.7 71.6h0M442.5 82.7h0M449.0 78.4h0M456.5 72.6h0M443.6 82.2h0M447.9 75.6h0M451.2 77.1h0M447.9 78.9h0M443.2 79.9h0M451.3 73.7h0M447.0 79.4h0M454.1 74.3h0M442.3 81.6h0M455.1 73.4h0M451.9 75.9h0M447.5 76.6h0M443.8 81.1h0M449.8 74.8h0M452.2 74.1h0M453.7 73.5h0M450.8 74.5h0M446.5 78.2h0M452.3 74.4h0M444.8 79.5h0M447.7 77.5h0M449.7 75.9h0M461.1 61.5h0M489.6 53.2h0M489.5 54.5h0M462.5 63.1h0M488.2 56.8h0M486.2 51.2h0M461.0 60.6h0M464.4 64.0h0M461.1 57.9h0M485.8 58.8h0M472.9 65.0h0M468.5 65.4h0M465.6 64.7h0M461.5 57.1h0M487.2 51.3h0M488.4 52.5h0"/><path stroke="#fba25c" d="M477.8 50.7h0M467.4 64.8h0M463.6 55.0h0M483.0 60.9h0M477.0 63.9h0M487.6 57.2h0M480.7 62.5h0M487.9 55.8h0M479.6 63.1h0M464.9 54.1h0M479.1 50.7h0M463.3 61.3h0M464.6 62.6h0M488.5 53.6h0M466.2 53.6h0M483.9 60.2h0M463.1 60.6h0"/><path stroke="#f99254" d="M471.5 64.7h0M470.7 51.9h0M470.3 64.7h0M483.5 50.8h0M480.5 61.9h0M469.2 52.6h0M465.0 61.9h0M483.2 51.1h0M463.2 56.6h0"/><path stroke="#f7814c" d="M476.8 51.0h0M469.6 64.2h0M487.1 52.6h0M486.0 57.5h0M483.1 59.8h0M486.9 55.5h0M474.9 63.4h0M462.8 58.6h0M466.6 62.4h0M480.7 51.1h0"/><path stroke="#f47045" d="M465.3 61.4h0M476.7 62.9h0M469.4 63.5h0M478.1 62.4h0M470.9 63.6h0M486.4 54.5h0M485.8 56.1h0"/><path stroke="#ee603d" d="M474.0 63.0h0M464.8 56.1h0M467.5 54.0h0M467.9 62.4h0M485.0 52.3h0M479.1 61.4h0M484.6 57.7h0M478.0 61.8h0M464.9 59.4h0M467.5 62.0h0M464.7 57.4h0"/><path stroke="#e75136" d="M464.7 57.9h0M483.0 58.6h0M483.7 57.8h0M466.1 60.0h0M469.3 53.5h0M484.9 54.4h0M484.2 53.0h0M481.7 52.2h0M480.5 60.1h0"/><path stroke="#df412f" d="M466.6 55.8h0M466.1 59.1h0M471.6 62.4h0M467.2 55.5h0M482.4 52.5h0M472.8 52.5h0M484.2 56.0h0M476.3 52.0h0M471.6 52.8h0M468.6 61.6h0M466.5 57.5h0M483.7 54.3h0"/><path stroke="#d83228" d="M467.0 57.3h0M467.3 59.7h0M482.3 53.7h0M467.4 58.5h0M479.8 52.7h0M482.7 56.0h0M475.2 61.7h0M469.0 60.5h0M478.0 52.7h0M482.2 56.8h0"/><path stroke="#cb2527" d="M476.6 60.9h0M472.1 61.5h0M469.9 61.0h0M480.7 58.6h0M479.1 59.4h0M470.3 54.4h0M481.2 53.7h0M469.3 55.6h0M475.5 53.1h0M481.2 57.3h0M473.0 53.7h0M470.0 60.3h0M473.8 61.2h0"/><path stroke="#bf1927" d="M479.7 58.7h0M478.1 59.6h0M468.8 58.4h0M468.9 57.4h0M478.5 58.3h0M472.4 54.4h0M470.3 55.9h0M480.4 54.9h0"/><path stroke="#b20c26" d="M479.8 57.2h0M476.6 59.6h0M474.4 54.2h0M471.9 60.2h0M477.9 54.1h0M473.3 60.1h0M479.3 54.4h0M479.8 55.8h0M470.6 57.0h0M470.9 59.0h0M477.0 58.4h0M474.5 59.5h0M472.5 55.7h0M476.2 54.3h0"/><path stroke="#a50026" d="M475.0 59.0h0M472.0 59.1h0M474.4 54.9h0M477.4 57.3h0M474.2 55.3h0M472.3 56.6h0M478.0 55.3h0M473.6 58.3h0M476.2 55.6h0M475.4 57.3h0M473.7 57.0h0M475.9 56.4h0"/></g>
<line x1="376.8" y1="100.57" x2="502.5" y2="50.29" stroke="#858585" stroke-width="1.6" stroke-dasharray="4.6 3.1"/>
<rect x="432.1" y="121.5" width="73" height="10.6" fill="#fbfdea"/>
<rect x="432.1" y="131.5" width="33.4" height="10.6" fill="#fbfdea"/>
<rect x="432.1" y="141.5" width="43" height="10.6" fill="#fbfdea"/>
<text x="433.7" y="129.1" font-size="9.6">y = 0.73x + 3.09</text>
<text x="433.7" y="139.0" font-size="9.6">r : 0.56</text>
<text x="433.7" y="149.0" font-size="9.6">p &lt; 0.001</text>
<rect x="370" y="15" width="141" height="1" fill="#bdbdbd"/>
<rect x="370" y="155" width="141" height="1" fill="#9a9a9a"/>
<rect x="510" y="15" width="1" height="141" fill="#9a9a9a"/>
<rect x="370" y="15" width="1" height="141" fill="#7a7a7a"/>
<rect x="368" y="154.2" width="2" height="1" fill="#333"/>
<text x="367.4" y="158.9" font-size="10" text-anchor="end">0</text>
<rect x="368" y="121.0" width="2" height="1" fill="#333"/>
<text x="367.4" y="125.7" font-size="10" text-anchor="end">2</text>
<rect x="368" y="87.8" width="2" height="1" fill="#333"/>
<text x="367.4" y="92.5" font-size="10" text-anchor="end">4</text>
<rect x="368" y="54.6" width="2" height="1" fill="#333"/>
<text x="367.4" y="59.3" font-size="10" text-anchor="end">6</text>
<rect x="368" y="21.4" width="2" height="1" fill="#333"/>
<text x="367.4" y="26.1" font-size="10" text-anchor="end">8</text>
<rect x="429.8" y="156" width="1" height="2" fill="#333"/>
<text x="430.3" y="165.5" font-size="10" text-anchor="middle">2</text>
<rect x="490.4" y="156" width="1" height="2" fill="#333"/>
<text x="490.9" y="165.5" font-size="10" text-anchor="middle">4</text>
<text x="440.0" y="178.0" font-size="12.4" text-anchor="middle">Electricity</text>
<text transform="translate(357.5,85.0) rotate(-90)" font-size="12.2" text-anchor="middle">GDP</text>
<text x="350.0" y="9.8" font-size="13.5">c</text>
<g fill="none" stroke-width="3.0" stroke-linecap="round"><path stroke="#3a52ad" d="M621.5 34.3h0M605.4 35.5h0M620.4 36.1h0M598.9 38.0h0M626.5 37.0h0M628.3 38.6h0M591.6 42.0h0M584.4 47.9h0M641.9 47.6h0M642.6 49.1h0M642.2 54.4h0M579.6 55.9h0M641.6 60.7h0M574.9 63.0h0M637.0 67.8h0M636.4 68.9h0M569.7 72.3h0M631.4 73.8h0M568.3 76.6h0M567.0 81.4h0M621.6 80.9h0M620.7 82.7h0M618.5 84.3h0M563.4 85.3h0M615.9 89.7h0M564.6 91.3h0M565.6 95.7h0M609.9 97.3h0M608.4 100.4h0M568.7 103.3h0M573.4 110.1h0M595.7 109.8h0M598.8 109.2h0M574.1 111.5h0M581.7 112.1h0M587.6 112.8h0M550.5 48.1h0M550.6 49.3h0M553.0 55.5h0M553.1 70.4h0M552.9 72.0h0M552.8 73.7h0M554.6 42.1h0M554.6 43.7h0M554.9 45.0h0M554.9 54.1h0M554.8 55.5h0M554.9 61.6h0M554.8 63.0h0M554.5 64.5h0M554.8 66.2h0M556.7 48.1h0M556.9 73.5h0M557.1 75.1h0M557.0 93.2h0M556.8 94.7h0M556.9 97.4h0M557.1 99.0h0M558.9 49.4h0M558.9 61.6h0M558.9 63.2h0M558.7 64.6h0M558.5 66.2h0M558.8 89.8h0M559.0 91.4h0M560.7 34.4h0M561.1 35.8h0M560.8 37.6h0M560.8 43.3h0M561.1 48.1h0M560.9 51.0h0M560.9 55.7h0M561.1 57.1h0M560.9 88.5h0M560.8 90.1h0M561.0 91.5h0M560.9 93.1h0M562.1 31.6h0M562.1 33.2h0M562.4 73.4h0M562.0 96.0h0M562.1 97.4h0M564.6 38.9h0M564.4 40.7h0M564.5 41.8h0M564.6 55.4h0M564.5 57.0h0M564.2 60.0h0M564.7 61.6h0M564.6 63.1h0M564.3 65.8h0M564.3 67.6h0M564.5 69.0h0M564.6 75.1h0M564.7 76.5h0M564.4 78.2h0M564.7 79.5h0M564.7 85.6h0M564.6 100.4h0M566.2 40.5h0M565.9 41.8h0M566.3 43.5h0M566.0 45.2h0M565.9 46.4h0M566.1 61.5h0M566.3 63.1h0M566.3 70.6h0M566.2 72.1h0M566.1 76.4h0M566.0 78.1h0M565.9 79.5h0M566.2 81.2h0M566.1 82.6h0M566.1 89.8h0M566.3 91.6h0M568.8 40.5h0M568.7 50.9h0M568.5 52.4h0M568.8 63.0h0M568.4 64.3h0M568.5 67.6h0M568.4 68.9h0M568.4 76.5h0M568.8 82.6h0M568.4 84.0h0M568.7 100.5h0M568.4 102.1h0M568.8 103.6h0M570.4 32.9h0M570.3 53.8h0M570.3 55.4h0M570.5 56.8h0M570.6 64.5h0M570.6 66.0h0M570.3 67.7h0M570.1 74.8h0M570.5 76.7h0M570.5 77.9h0M570.2 103.4h0M570.5 105.0h0M570.5 106.6h0M570.4 109.4h0M572.3 39.1h0M572.4 40.5h0M572.4 49.4h0M572.4 51.1h0M572.5 52.4h0M572.2 54.0h0M572.5 55.6h0M572.5 56.9h0M572.4 63.1h0M572.4 73.4h0M572.5 107.9h0M574.4 28.3h0M574.1 33.0h0M574.3 34.7h0M574.5 52.5h0M574.3 53.8h0M574.1 63.1h0M574.2 64.6h0M574.2 65.9h0M574.0 67.3h0M574.3 69.0h0M576.9 52.4h0M576.7 54.1h0M576.9 55.6h0M576.6 56.9h0M576.6 58.7h0M578.2 37.7h0M578.2 38.9h0M578.4 46.6h0M578.5 48.0h0M578.3 49.6h0M578.3 50.9h0M578.5 52.5h0M578.3 58.6h0M578.5 120.1h0M578.3 121.7h0M580.7 33.1h0M580.7 34.7h0M580.5 39.0h0M580.8 40.5h0M580.7 41.8h0M580.8 43.4h0M580.5 48.2h0M580.5 49.4h0M580.7 50.9h0M580.4 52.6h0M580.5 54.0h0M580.6 55.7h0M580.6 57.1h0M580.8 58.3h0M580.5 126.0h0M582.3 47.9h0M582.2 49.5h0M582.5 116.9h0M582.5 118.4h0M582.3 120.0h0M582.0 121.4h0M582.2 122.9h0M584.7 42.0h0M585.1 43.3h0M584.9 45.2h0M584.8 49.6h0M584.6 50.9h0M584.6 52.4h0M584.7 110.9h0M585.0 112.7h0M584.7 117.1h0M584.9 118.4h0M584.6 120.1h0M584.6 121.3h0M586.3 31.4h0M586.2 33.1h0M586.2 41.9h0M586.2 43.5h0M586.4 44.8h0M586.3 46.4h0M586.5 48.1h0M586.4 51.2h0M586.6 111.1h0M586.5 112.4h0M588.7 43.4h0M588.7 44.9h0M588.7 46.6h0M588.9 48.0h0M588.9 114.2h0M588.9 118.4h0M588.9 119.9h0M588.8 123.0h0M588.9 124.5h0M590.4 36.0h0M590.4 37.4h0M590.7 38.9h0M590.5 40.5h0M590.5 113.8h0M590.6 115.5h0M592.3 29.9h0M592.4 31.4h0M592.2 32.9h0M592.2 34.5h0M592.1 36.0h0M592.3 37.7h0M592.6 39.0h0M592.1 40.3h0M592.4 42.2h0M594.6 32.9h0M594.2 36.0h0M594.2 37.3h0M594.2 39.2h0M594.2 40.4h0M594.5 42.1h0M594.4 107.9h0M594.5 117.0h0M594.6 118.6h0M594.5 120.1h0M596.0 110.9h0M596.2 112.5h0M596.1 116.8h0M595.9 118.5h0M596.0 120.1h0M596.2 121.3h0M596.3 125.9h0M598.1 24.1h0M598.1 25.4h0M598.3 27.0h0M597.9 28.4h0M598.1 29.8h0M598.1 31.4h0M598.0 33.1h0M598.0 34.5h0M598.3 115.4h0M598.3 117.2h0M600.7 21.0h0M600.7 22.7h0M600.9 39.1h0M600.8 124.6h0M601.0 126.1h0M602.1 30.1h0M602.3 106.6h0M602.0 107.9h0M601.9 110.9h0M602.2 112.7h0M602.4 114.0h0M602.1 121.5h0M604.4 27.1h0M604.5 28.5h0M604.4 30.1h0M604.2 37.6h0M604.3 39.1h0M604.2 103.4h0M606.2 27.0h0M606.1 113.8h0M606.0 115.7h0M606.1 117.1h0M606.0 118.4h0M610.3 35.9h0M610.1 118.4h0M610.3 119.8h0M612.4 31.6h0M612.0 35.9h0M612.4 90.1h0M612.2 96.0h0M612.2 97.7h0M613.9 34.5h0M614.0 92.9h0M613.9 94.7h0M614.0 103.4h0M613.9 105.2h0M616.8 34.7h0M616.6 36.0h0M616.5 85.4h0M616.6 97.6h0M616.6 98.9h0M616.8 104.8h0M616.5 106.5h0M618.6 80.9h0M618.6 82.6h0M618.3 83.8h0M620.1 31.4h0M620.3 33.0h0M620.6 34.3h0M620.2 36.1h0M620.4 80.9h0M620.1 82.5h0M620.3 91.7h0M622.9 34.3h0M622.7 35.8h0M622.6 84.2h0M622.7 85.4h0M622.8 94.4h0M624.1 33.1h0M624.0 34.3h0M623.9 36.0h0M624.3 76.6h0M624.0 77.8h0M626.2 75.2h0M625.9 76.3h0M626.3 77.8h0M626.2 79.3h0M626.3 80.9h0M625.8 85.6h0M626.2 90.1h0M625.8 91.6h0M626.1 92.8h0M626.1 95.8h0M628.5 33.1h0M628.3 34.4h0M628.2 36.2h0M628.4 37.6h0M628.4 39.1h0M628.6 73.7h0M628.4 74.9h0M628.4 86.8h0M628.4 88.6h0M630.2 85.7h0M632.9 82.6h0M632.9 83.8h0M633.1 85.3h0M632.8 87.2h0M633.2 88.6h0M634.7 43.6h0M634.5 66.1h0M634.5 67.7h0M635.0 76.5h0M634.9 78.2h0M634.7 87.1h0M636.2 40.6h0M636.5 67.7h0M636.2 68.9h0M636.5 70.6h0M636.2 72.0h0M636.5 73.5h0M636.3 75.0h0M636.3 76.3h0M636.6 81.0h0M636.3 85.6h0M638.4 39.1h0M638.5 45.0h0M638.6 46.5h0M638.5 59.9h0M641.0 37.4h0M640.8 39.2h0M641.1 55.4h0M640.8 56.9h0M641.1 58.3h0M642.9 48.2h0M642.7 49.4h0M642.7 58.6h0M642.8 60.1h0M644.5 49.6h0M644.7 73.6h0M644.5 74.9h0M646.1 55.5h0M646.0 74.9h0M669.2 43.4h0M658.9 46.3h0M666.0 39.3h0M665.0 30.0h0M668.5 31.1h0M661.2 51.9h0M664.8 42.4h0M669.4 49.8h0M666.4 46.5h0M664.0 40.8h0M550.5 60.0h0M593.0 28.0h0M595.7 23.5h0M599.5 32.0h0M635.6 39.5h0M643.0 40.0h0M648.0 41.0h0M652.5 43.0h0M676.0 33.8h0M639.0 70.5h0M570.0 120.0h0M592.0 124.0h0M597.6 121.0h0M605.0 114.5h0M631.0 80.0h0M631.0 84.4h0M635.6 85.3h0M598.7 146.7h0M558.0 87.0h0M558.0 94.0h0M558.0 98.5h0M552.0 36.6h0M551.9 37.8h0M552.2 39.1h0M552.0 40.3h0M552.2 41.5h0M551.9 42.8h0M551.8 44.0h0M592.9 26.0h0M593.1 27.3h0M593.2 28.7h0M592.9 30.0h0M603.0 20.6h0M603.1 21.8h0M603.1 23.1h0M603.0 24.3h0M602.8 25.5h0M602.9 26.8h0M603.2 28.0h0M626.0 22.5h0M626.1 23.8h0M626.1 25.0h0M625.9 26.2h0M626.0 27.5h0M625.8 28.8h0M625.9 30.0h0M616.8 75.0h0M616.9 76.3h0M617.1 77.5h0M617.0 78.8h0M617.1 80.0h0M616.9 81.3h0M616.9 82.5h0M617.1 83.8h0M617.0 85.0h0M617.2 86.3h0M616.8 87.6h0M616.9 88.8h0M616.9 90.1h0M616.9 91.3h0M617.1 92.6h0M617.1 93.8h0M617.0 95.1h0M617.2 96.3h0M617.0 97.6h0M624.9 75.0h0M624.7 76.2h0M624.7 77.4h0M624.7 78.7h0M624.8 79.9h0M624.8 81.1h0M624.7 82.3h0M624.6 83.5h0M624.6 84.7h0M624.8 86.0h0M624.8 87.2h0M624.9 88.4h0M624.7 89.6h0M624.5 90.8h0M624.9 92.0h0M624.8 93.3h0M624.8 94.5h0M624.7 95.7h0M624.8 96.9h0M624.7 98.1h0M624.6 99.3h0M624.8 100.6h0M624.6 101.8h0M624.7 103.0h0M595.3 40.2h0M572.6 108.2h0M621.8 36.5h0M597.1 39.5h0M619.7 82.2h0M604.9 103.6h0M615.6 35.0h0M640.3 46.0h0M609.3 97.0h0M623.4 77.9h0M578.7 111.0h0M580.5 55.3h0M573.2 67.9h0M568.6 77.8h0M613.9 35.1h0M613.3 90.5h0"/><path stroke="#3e5eaf" d="M570.5 74.0h0M636.2 42.4h0M624.9 76.7h0M565.9 89.4h0M623.1 77.8h0M593.1 110.5h0M568.4 79.1h0M640.1 60.2h0M586.0 48.9h0M630.6 40.1h0M574.9 64.8h0M641.5 52.0h0M581.6 110.9h0M607.8 98.6h0M634.7 68.2h0M606.2 101.7h0M615.5 87.2h0M601.0 105.5h0M630.9 71.6h0M640.8 53.8h0M597.7 40.0h0M632.6 40.8h0M606.8 36.4h0M628.9 73.1h0M616.8 36.0h0M616.0 86.1h0M618.1 82.8h0M609.9 95.1h0M627.1 74.5h0M569.4 103.0h0M576.6 62.9h0M609.7 36.2h0M580.0 110.3h0M639.2 61.1h0M567.5 100.1h0M600.4 105.6h0M641.2 48.0h0M621.1 79.2h0M569.3 77.4h0M566.4 92.1h0"/><path stroke="#426ab2" d="M594.4 109.2h0M568.0 83.1h0M585.1 110.8h0M640.2 58.1h0M613.9 88.5h0M641.0 52.1h0M635.1 66.5h0M567.4 99.3h0M623.5 37.9h0M590.9 45.0h0M635.6 42.9h0M617.5 36.5h0M590.6 111.2h0M584.0 52.3h0M571.5 104.9h0M567.0 95.7h0M615.6 86.1h0M614.8 36.1h0M637.9 62.2h0M570.1 76.9h0M589.4 46.3h0M622.8 77.1h0M595.7 41.7h0M578.5 60.6h0M599.0 106.0h0M593.1 43.3h0M588.1 47.9h0M566.9 94.6h0M575.2 66.6h0M605.7 37.5h0M620.6 37.5h0M640.2 56.0h0M577.7 62.4h0M624.0 76.2h0M611.7 91.7h0M567.1 90.2h0M621.8 37.9h0M568.0 85.0h0M570.8 75.5h0M633.1 68.6h0M576.3 64.5h0M597.4 106.5h0M616.8 82.8h0M609.9 93.3h0M639.3 57.6h0M620.1 79.2h0"/><path stroke="#4676b5" d="M625.1 74.8h0M573.2 105.9h0M637.0 45.1h0M633.4 42.5h0M635.8 63.9h0M619.1 37.5h0M629.8 71.0h0M611.4 36.6h0M601.5 39.6h0M568.4 100.2h0M640.7 49.9h0M567.3 88.6h0M607.3 37.6h0M603.9 101.9h0M631.9 42.2h0M583.4 110.0h0M594.4 107.9h0M627.1 40.0h0M574.4 107.5h0M579.9 109.3h0M616.2 83.9h0M639.6 55.8h0M639.1 47.0h0M630.8 70.0h0M573.3 71.0h0M624.2 38.8h0M579.0 60.9h0M607.9 95.8h0M622.0 38.7h0M593.4 44.0h0M617.9 37.6h0M575.7 66.9h0M626.8 72.9h0M633.6 66.9h0M638.9 58.1h0M610.7 91.8h0M609.3 93.5h0M638.5 59.4h0M628.8 40.8h0M608.3 95.1h0M571.7 103.3h0M577.9 108.9h0M581.4 109.5h0M569.4 81.6h0M620.9 77.4h0M573.4 71.5h0M582.9 55.6h0M633.3 43.2h0M568.3 99.2h0M610.9 37.0h0M598.0 105.5h0M590.1 110.1h0M575.1 68.5h0M584.8 53.0h0M598.8 40.9h0M572.5 74.2h0M611.4 37.1h0M623.9 74.9h0M605.5 38.7h0M592.2 109.1h0M582.1 57.0h0M611.6 90.1h0M639.6 53.6h0M589.6 47.8h0M603.0 39.7h0M588.2 49.4h0M568.9 84.3h0M571.0 77.7h0M634.5 65.1h0M604.6 38.9h0M570.6 79.2h0M606.4 97.4h0M637.4 60.5h0M636.3 62.1h0M618.6 79.7h0M572.4 74.7h0M576.2 108.1h0M592.4 108.3h0M624.8 73.9h0M577.4 64.3h0M622.8 75.5h0M595.6 42.8h0M590.4 109.6h0M601.0 40.7h0M621.0 77.1h0M574.4 106.6h0M637.5 46.4h0M570.4 101.7h0M587.0 50.8h0M639.5 52.0h0M621.3 39.0h0M585.4 109.6h0M612.3 87.9h0M596.4 42.5h0M630.2 41.9h0M630.4 69.5h0M580.8 59.0h0M576.4 66.4h0M617.7 80.4h0"/><path stroke="#5285bc" d="M631.1 68.8h0M628.4 70.8h0M635.3 44.9h0M568.5 88.1h0M573.3 104.9h0M585.9 52.4h0M639.4 51.1h0M598.9 41.7h0M578.8 108.4h0M596.9 105.3h0M614.9 84.0h0M605.4 98.6h0M616.8 81.0h0M574.1 105.4h0M583.0 56.6h0M593.1 45.5h0M627.1 71.9h0M634.1 43.9h0M601.1 102.8h0M609.3 38.0h0M604.0 100.6h0M620.1 77.5h0M638.1 58.3h0M599.9 103.4h0M594.9 106.4h0M588.3 109.5h0M624.0 39.9h0M592.1 46.3h0M568.3 92.8h0M638.4 47.9h0M616.2 38.0h0M577.6 108.2h0M568.3 90.1h0M635.5 62.5h0M569.0 97.0h0M588.0 50.3h0M604.7 99.4h0M612.9 86.4h0M571.8 77.0h0M584.7 54.9h0M588.9 49.5h0M639.0 48.9h0M574.9 70.6h0M617.4 38.5h0M571.8 102.3h0M593.4 45.3h0M576.1 68.6h0M579.6 62.6h0M569.0 95.4h0M613.7 85.3h0M612.4 87.1h0M570.6 82.0h0M586.5 109.0h0M602.5 101.7h0M603.6 100.3h0M585.4 54.2h0M573.1 103.5h0M614.3 38.2h0M569.4 98.5h0M624.6 73.5h0M600.4 41.5h0M603.0 40.5h0M636.4 60.4h0M607.4 94.6h0M637.9 47.9h0M631.3 67.4h0M569.1 94.1h0M634.7 44.8h0M613.3 38.0h0M609.9 90.4h0M581.0 60.5h0M590.7 108.6h0M610.2 38.5h0M608.0 39.0h0M570.6 99.9h0M569.1 91.8h0M574.3 72.4h0M593.7 46.1h0M580.5 61.3h0M581.0 108.1h0M571.7 79.7h0M575.4 70.6h0M577.0 67.6h0M633.4 44.4h0M615.4 82.2h0M625.2 41.1h0M608.5 38.9h0M587.4 51.9h0M581.3 107.8h0M619.6 39.4h0M636.3 46.8h0M594.4 106.0h0M582.3 58.5h0M569.4 96.2h0M598.3 103.4h0M570.6 83.9h0M595.3 44.4h0M574.6 73.1h0M583.0 58.1h0M596.8 43.6h0M621.0 39.8h0M590.8 48.4h0M627.2 70.8h0M589.2 50.5h0M594.8 105.6h0M586.8 108.6h0M632.5 65.7h0M581.3 60.6h0M587.5 108.6h0M583.6 108.1h0M571.0 100.2h0M613.0 38.7h0M631.9 44.0h0M578.0 66.6h0M600.8 42.1h0M579.6 64.1h0M616.0 38.8h0M575.6 105.6h0M586.2 54.5h0M573.2 77.0h0M613.5 84.7h0M627.9 42.6h0M578.0 107.2h0M599.7 102.4h0M571.7 81.7h0M570.3 85.6h0M589.9 107.8h0M631.6 66.3h0M581.7 60.9h0M628.7 69.5h0M601.1 101.4h0M572.7 78.4h0M626.4 41.8h0M604.1 40.9h0M597.9 43.3h0M614.7 38.8h0M585.8 54.9h0M570.0 88.6h0M580.3 63.0h0M601.3 100.8h0M574.5 74.6h0M571.1 84.4h0M618.8 40.2h0M576.4 106.0h0M578.7 66.5h0M579.9 106.8h0M634.3 62.1h0M575.4 72.3h0M570.5 97.8h0M591.0 49.3h0M572.5 79.4h0M570.2 90.0h0M584.8 107.7h0M626.1 41.8h0M570.4 87.3h0M596.9 103.6h0M570.0 93.5h0M570.0 91.1h0M629.8 43.6h0M582.9 59.7h0M608.7 92.0h0M602.5 42.0h0M637.4 54.2h0M578.4 106.4h0M637.0 56.9h0M624.5 41.7h0M592.4 106.2h0M577.3 68.9h0M571.5 99.6h0M593.1 48.2h0M628.4 43.0h0M590.6 50.6h0M637.7 52.1h0M578.4 67.3h0M594.0 104.9h0M573.5 102.2h0M637.3 50.6h0M634.1 62.7h0M584.7 58.2h0M572.5 81.2h0M587.8 53.5h0M571.8 83.0h0M584.9 57.7h0M612.5 39.3h0M571.6 85.5h0M574.0 77.6h0M577.0 71.2h0M636.3 48.6h0M582.1 106.6h0M585.9 56.5h0M581.1 64.0h0M575.6 74.4h0M592.3 49.2h0M588.9 106.9h0M575.1 75.9h0M574.5 103.0h0M610.1 40.2h0M589.5 52.3h0M581.8 63.0h0M580.7 65.6h0M592.7 105.6h0M616.3 80.1h0M577.7 105.5h0M571.3 86.8h0M584.9 106.6h0M571.0 88.8h0M576.5 73.6h0M575.7 103.8h0M597.6 45.2h0M636.6 58.2h0M586.5 106.3h0M575.3 75.9h0M595.0 47.0h0M632.6 64.5h0M580.2 67.3h0M637.1 50.1h0M583.2 106.0h0M577.9 71.4h0M584.1 61.2h0M578.6 70.3h0M585.2 59.5h0M590.5 106.0h0M570.5 95.1h0M583.1 63.1h0M598.2 45.2h0M577.4 72.9h0M622.2 41.0h0M588.4 55.2h0M581.8 64.8h0M588.3 106.0h0M572.7 85.3h0M574.6 79.5h0M591.1 52.2h0M588.9 54.4h0M573.6 82.3h0M579.5 69.3h0M582.5 105.4h0M595.7 103.3h0M571.3 89.3h0M571.2 97.1h0M606.5 41.1h0M585.9 59.1h0M583.2 64.2h0M579.1 104.9h0M600.4 44.1h0M573.3 83.7h0M596.6 46.4h0M584.9 105.4h0M573.8 81.9h0M637.2 55.7h0M596.9 102.5h0M614.5 40.6h0M603.5 98.7h0M607.2 40.8h0M594.3 48.5h0M605.6 41.5h0M600.2 44.7h0M598.7 101.5h0M573.2 99.9h0M604.6 97.3h0M633.8 46.2h0M624.3 72.5h0M636.3 51.1h0M574.7 81.3h0M593.5 104.1h0M589.3 54.9h0M582.0 66.3h0M576.2 77.8h0M572.7 87.9h0M572.7 98.8h0M583.8 104.8h0M571.5 91.6h0M573.2 86.6h0M585.8 59.9h0M574.2 83.7h0M608.6 40.8h0M606.0 95.5h0M604.8 42.0h0M588.3 56.5h0M618.3 41.1h0M590.1 104.9h0M579.9 104.7h0M575.5 79.7h0M616.2 41.1h0M612.3 40.8h0M613.4 41.0h0M592.8 104.2h0M577.9 74.3h0M588.2 104.8h0M609.9 89.0h0M632.8 62.8h0M574.5 101.6h0M636.5 52.7h0M635.4 49.1h0M581.0 68.9h0M602.0 99.0h0M602.0 44.0h0M585.3 61.6h0M596.5 47.6h0M594.3 49.3h0M579.7 72.2h0M607.7 41.3h0M600.2 100.0h0M591.1 104.5h0M581.9 67.5h0M629.6 67.2h0M571.4 95.7h0M592.8 51.3h0M634.3 60.2h0M604.9 96.4h0M598.8 46.2h0M574.4 101.1h0M591.5 53.6h0M615.7 80.4h0M628.7 68.2h0M609.3 41.7h0M594.1 50.4h0M634.3 47.4h0M580.7 103.9h0M617.6 41.7h0M613.0 41.5h0M587.1 104.6h0M605.8 95.0h0M575.8 102.3h0M622.4 41.9h0M619.5 76.7h0M601.2 44.8h0M625.2 71.4h0M607.6 92.7h0M597.4 100.8h0M596.1 48.5h0M612.1 85.1h0M581.1 69.9h0M579.9 72.0h0M579.1 74.0h0M608.0 91.7h0M632.1 63.4h0M603.2 43.9h0M633.4 61.2h0M591.0 103.9h0M631.0 45.2h0M599.0 100.0h0M613.5 82.3h0M578.4 103.3h0M621.1 75.1h0M571.8 93.4h0M586.4 60.9h0M584.8 63.7h0M583.5 65.8h0M621.2 42.1h0M575.5 82.0h0M634.5 59.0h0M631.2 64.6h0M571.8 94.6h0M636.1 54.4h0M595.0 102.1h0M622.9 72.8h0M577.8 76.7h0M577.5 103.2h0M600.3 98.8h0M627.2 69.0h0M590.0 103.8h0M620.1 42.0h0M588.9 57.3h0M634.8 50.0h0M592.8 52.5h0M626.0 69.9h0"/><path stroke="#5e93c4" d="M610.3 42.2h0M614.1 81.5h0M612.4 42.2h0M606.4 93.4h0M593.5 51.9h0M635.7 56.3h0M582.0 103.5h0M627.1 43.9h0M608.7 90.0h0M594.5 102.0h0M573.4 98.1h0M604.0 44.1h0M583.3 103.4h0M594.9 50.6h0M629.5 45.0h0M573.0 91.5h0M573.3 90.2h0M600.1 46.7h0M617.5 77.7h0M602.5 45.1h0M629.5 65.4h0M596.6 49.0h0M591.3 54.9h0M577.3 102.3h0M601.5 98.0h0M577.4 78.4h0M578.8 75.5h0M635.6 55.1h0M598.4 47.6h0M610.1 86.8h0M583.2 67.9h0M585.2 103.5h0M588.7 59.1h0M575.1 85.5h0M603.0 97.1h0M631.4 46.1h0M582.3 69.1h0M617.2 42.4h0M615.2 42.4h0M611.9 83.7h0M587.4 103.5h0M622.6 43.1h0M581.8 69.9h0M572.8 92.6h0M603.4 96.3h0M606.8 43.0h0M625.7 44.1h0M634.9 52.7h0M619.8 75.1h0M572.8 96.2h0M574.1 89.4h0M589.3 58.0h0M576.4 81.3h0M615.2 79.5h0M603.9 44.4h0M601.3 45.9h0M632.9 60.0h0M598.1 99.3h0M596.1 50.1h0M588.6 59.4h0M632.5 47.1h0M610.4 85.4h0M575.6 100.2h0M631.8 61.3h0M577.7 79.4h0M580.0 74.3h0M579.2 76.6h0M593.1 102.1h0M600.3 97.9h0M627.9 66.6h0M573.1 94.1h0M584.8 65.4h0M574.8 87.0h0M620.5 43.0h0M606.5 43.3h0M574.9 99.0h0M627.2 67.6h0M577.0 81.1h0M634.6 56.4h0M593.7 53.4h0M629.9 63.9h0M612.4 42.8h0M615.2 43.2h0M586.9 103.2h0M607.3 89.9h0M587.0 62.4h0M585.5 65.0h0M615.4 78.6h0M615.9 78.0h0M578.4 78.1h0M592.0 55.4h0M574.4 98.2h0M623.9 44.0h0M628.5 45.3h0"/><path stroke="#6aa2cb" d="M623.5 71.2h0M582.9 69.4h0M596.8 99.4h0M608.5 88.2h0M574.9 88.1h0M617.9 75.9h0M593.1 54.4h0M596.1 100.0h0M626.4 45.0h0M576.6 83.5h0M609.1 87.1h0M590.7 102.6h0M579.0 101.8h0M633.8 51.3h0M630.3 46.6h0M599.6 47.8h0M575.5 99.2h0M620.7 73.5h0M628.8 46.2h0M632.4 47.8h0M625.1 69.0h0M622.4 71.5h0M587.4 62.7h0M586.2 64.9h0M589.7 102.4h0M611.5 82.3h0M633.2 49.2h0M581.0 73.9h0M580.3 102.1h0M604.5 93.9h0M612.4 80.9h0M613.5 43.3h0M588.5 60.9h0M576.9 82.9h0M591.4 57.1h0M606.0 44.7h0M594.2 100.6h0M605.7 91.9h0M597.9 49.4h0M574.5 91.7h0M576.3 85.0h0M625.7 67.8h0"/><path stroke="#77afd2" d="M607.4 88.4h0M608.8 86.1h0M628.2 65.1h0M616.5 76.3h0M631.9 59.5h0M633.9 55.0h0M574.4 96.5h0M575.4 88.3h0M589.3 59.8h0M601.8 96.1h0M634.2 54.4h0M627.5 65.3h0M626.0 45.6h0M582.5 72.1h0M585.6 102.0h0M610.1 84.2h0M609.3 44.1h0M619.6 44.2h0M603.5 94.6h0M592.1 56.8h0M622.7 44.7h0M610.0 44.0h0M618.0 44.1h0M616.8 43.8h0M588.5 101.9h0M623.9 45.0h0M618.3 74.3h0M604.6 93.2h0M631.8 59.1h0M585.3 67.2h0M610.6 83.2h0M614.1 78.5h0M596.8 50.8h0M612.9 79.3h0M583.4 70.5h0M632.7 57.9h0M624.4 68.3h0M582.5 101.6h0M622.5 70.7h0M632.8 51.0h0M607.7 44.7h0M586.2 66.3h0M591.3 57.9h0M629.9 61.8h0M579.0 101.1h0M578.2 100.7h0M584.0 101.4h0M595.9 52.4h0M594.1 55.1h0M606.0 89.9h0M574.6 94.4h0M629.7 62.3h0"/><path stroke="#85bbd8" d="M633.1 56.7h0M576.5 86.8h0M627.5 46.3h0M577.0 85.5h0M582.6 73.0h0M581.7 74.8h0M599.1 96.9h0M585.1 68.6h0M606.6 89.0h0M619.1 73.3h0M632.9 52.0h0M608.9 44.4h0M620.1 44.4h0M620.4 72.2h0M624.3 68.1h0M600.0 49.2h0M588.9 61.9h0M574.9 92.6h0M586.9 101.6h0M611.9 44.4h0M577.6 84.3h0M591.0 101.1h0M631.8 49.3h0M604.3 91.9h0M603.3 47.0h0M595.1 98.8h0M593.1 100.1h0M582.3 101.0h0M624.9 45.9h0M583.2 101.0h0M625.9 66.0h0M584.7 70.1h0M607.2 87.6h0M633.2 53.5h0M630.9 48.5h0M632.9 54.9h0M628.1 63.6h0M575.6 91.8h0M612.5 79.1h0M594.6 98.9h0M579.3 79.9h0M600.2 96.0h0M603.9 47.1h0M581.1 76.9h0M610.7 81.6h0M595.7 54.0h0M622.9 68.8h0M576.1 97.0h0M609.6 82.8h0"/><path stroke="#93c6df" d="M626.6 64.9h0M577.9 99.5h0M596.7 52.9h0M618.0 45.2h0M613.1 44.8h0M616.5 45.1h0M584.0 71.6h0M580.2 79.6h0M630.3 48.4h0M602.1 48.4h0M609.2 83.4h0M619.7 71.9h0M603.0 47.9h0M620.6 70.9h0M579.4 81.2h0M586.0 68.6h0M589.0 63.4h0M615.8 74.8h0M583.5 72.8h0M580.8 78.0h0M627.6 47.3h0M624.5 46.3h0M576.3 90.4h0M588.3 64.4h0M587.1 66.9h0M607.5 85.4h0M591.2 60.4h0M596.9 96.9h0M620.7 45.4h0M580.7 99.9h0M595.6 55.0h0M590.4 61.7h0M618.6 72.7h0M582.2 76.3h0M588.4 100.3h0M612.5 78.1h0M610.6 45.6h0M614.7 75.9h0M615.2 45.5h0M615.0 75.4h0M603.2 92.4h0M578.1 86.4h0M629.0 61.1h0M631.9 52.9h0"/><path stroke="#a1d1e5" d="M606.5 46.6h0M579.3 82.1h0M575.9 95.1h0M631.3 56.6h0M580.1 80.9h0M594.5 98.0h0M597.1 53.6h0M599.1 95.5h0M601.3 94.2h0M604.1 90.3h0M602.6 49.0h0M630.1 59.0h0M589.9 100.1h0M576.4 95.8h0M579.1 84.2h0M617.7 73.1h0M603.2 92.1h0M596.0 97.2h0M631.2 50.7h0M598.8 51.4h0M619.3 70.8h0M628.9 60.4h0M621.2 69.6h0M585.1 100.2h0M628.7 48.6h0M609.1 46.2h0M592.1 98.9h0M594.3 56.8h0M582.9 75.3h0M580.6 99.3h0M629.7 59.5h0M586.6 99.9h0M578.5 98.6h0M590.5 62.7h0M593.1 58.8h0M611.7 46.0h0M617.4 45.9h0M616.8 46.0h0M616.5 73.7h0M625.0 65.1h0M609.9 80.0h0M601.5 93.5h0M593.6 58.4h0M624.9 47.4h0M601.4 50.1h0M576.7 93.6h0M599.3 51.6h0M631.4 55.0h0M589.4 64.5h0M608.1 46.5h0M598.5 52.3h0M577.9 88.5h0M613.5 75.9h0M597.0 95.8h0M621.3 46.6h0M626.7 62.9h0M622.7 67.3h0M577.9 97.5h0M596.4 55.2h0M588.6 66.6h0M591.2 99.2h0M599.7 94.5h0M582.4 77.4h0M588.1 67.7h0M603.5 89.8h0M607.8 82.6h0M616.8 72.5h0M581.5 98.9h0M587.4 68.7h0M605.4 86.4h0M607.2 83.8h0M627.9 49.0h0M592.5 60.6h0M623.3 66.2h0M579.3 84.9h0M581.3 79.9h0M606.0 85.5h0M604.8 48.6h0M577.9 89.8h0M621.9 47.0h0M586.7 70.3h0M577.5 91.8h0M590.0 99.1h0M631.2 54.1h0M629.6 50.1h0M580.5 82.6h0M595.2 96.3h0M589.1 66.4h0M604.0 88.5h0M578.1 96.6h0M585.5 72.5h0M583.6 76.4h0M598.3 94.6h0M597.3 94.8h0M579.2 87.5h0M629.0 58.7h0M612.6 76.1h0M613.5 74.9h0M622.8 66.1h0M602.1 91.7h0M619.5 69.3h0M603.5 88.8h0M578.6 89.6h0M629.7 57.5h0M586.0 99.1h0M600.2 93.4h0M577.6 93.1h0M621.0 67.9h0M579.1 88.0h0M595.4 57.3h0M583.0 78.2h0M629.6 50.7h0M608.6 80.4h0M604.9 49.1h0"/><path stroke="#afdbea" d="M601.0 51.3h0M610.2 47.0h0M624.5 64.0h0M598.5 54.0h0M600.5 52.1h0M591.2 63.9h0M630.6 54.2h0M580.4 84.2h0M626.9 61.1h0M604.8 86.1h0M606.9 47.8h0M583.9 98.7h0M617.4 70.9h0M620.0 46.9h0M588.9 67.4h0M610.3 77.3h0M592.2 97.7h0M593.5 60.3h0M608.5 80.0h0M614.7 73.3h0M578.4 90.9h0M604.4 86.4h0M625.0 62.8h0M585.5 98.6h0M606.5 48.6h0M582.2 80.9h0M585.5 74.2h0M587.8 98.4h0M592.8 61.3h0M629.9 53.1h0M594.3 95.9h0M578.0 94.7h0M612.9 47.2h0M630.0 55.0h0M582.8 98.0h0M581.4 82.6h0M580.3 85.4h0M613.6 73.8h0M579.6 96.9h0M586.4 72.6h0M595.6 58.7h0M603.6 50.7h0M578.6 95.7h0M626.4 49.3h0M602.0 90.2h0M606.0 49.2h0M587.5 70.8h0M580.1 87.4h0M628.9 56.8h0M596.7 57.5h0M614.4 47.1h0M584.5 76.9h0M585.4 74.9h0M589.1 98.0h0M628.0 50.3h0M592.4 63.2h0M578.5 94.7h0M590.5 97.7h0M586.5 73.4h0M587.0 98.0h0M600.2 91.8h0M580.7 97.0h0M606.4 82.1h0M583.5 80.1h0M593.7 62.0h0M581.6 96.9h0M581.9 83.7h0M612.1 74.4h0M605.5 83.4h0M580.2 89.7h0M610.6 76.0h0M579.3 92.8h0M580.6 96.2h0M607.2 81.2h0M588.9 69.9h0M595.8 94.6h0M591.6 65.6h0M579.9 92.4h0M608.5 78.5h0M580.4 94.6h0M599.0 55.1h0M586.5 75.1h0M603.5 86.7h0M605.0 84.0h0M585.3 97.4h0M587.9 72.3h0M582.3 96.4h0M628.3 52.1h0M614.1 72.6h0M596.7 58.6h0M610.7 75.3h0M580.5 88.9h0M582.0 85.2h0M625.1 62.0h0M600.0 53.8h0M592.3 64.7h0M614.6 71.9h0M598.1 92.7h0M581.4 86.7h0M598.7 91.8h0M585.6 77.8h0M590.8 67.5h0M589.9 69.5h0M586.0 77.0h0M584.1 81.6h0M628.8 54.4h0M620.0 67.5h0M624.1 48.3h0M602.5 52.0h0M601.8 88.1h0M593.4 63.3h0M582.9 83.8h0M623.4 63.5h0M588.1 96.9h0M612.3 73.1h0M597.4 92.4h0M602.0 52.5h0M609.4 76.1h0M600.2 89.9h0M598.3 56.4h0M580.9 91.4h0M581.4 93.6h0M585.5 79.1h0M616.3 69.9h0M590.5 96.5h0M626.7 50.4h0M609.4 47.9h0M591.9 66.3h0M626.3 59.5h0M608.0 78.0h0M585.1 80.6h0M592.2 96.1h0M607.2 79.4h0M588.3 73.4h0M612.2 47.6h0M582.1 94.1h0M595.9 60.3h0M621.0 66.1h0M586.2 78.6h0M587.8 74.7h0M584.1 83.2h0M600.0 55.2h0M619.5 47.7h0M581.4 92.2h0M623.0 63.6h0M610.9 73.7h0M586.2 96.4h0M626.0 59.5h0M622.1 64.7h0M590.4 70.4h0M589.8 71.4h0M617.1 69.2h0M598.7 90.5h0M607.3 49.4h0M615.3 69.9h0M595.3 62.0h0M627.8 55.7h0M626.4 58.6h0M617.5 68.3h0M616.1 47.6h0M621.5 47.9h0M606.2 50.4h0M584.8 96.1h0M602.9 84.9h0M591.5 69.2h0M588.8 95.9h0M584.0 95.6h0M604.7 51.5h0M624.4 61.0h0M626.0 50.8h0M600.9 54.4h0M624.3 49.7h0M582.1 88.9h0M601.6 86.8h0M587.6 76.3h0M627.7 56.5h0M624.8 49.9h0M587.6 96.2h0M583.3 85.4h0M618.7 67.5h0M600.6 88.1h0M594.5 63.9h0M597.5 59.7h0M605.5 80.5h0M609.2 49.2h0M596.5 61.2h0M622.6 48.3h0M604.6 82.0h0M592.7 94.9h0M606.2 79.3h0M627.6 55.3h0M614.1 70.6h0M625.7 59.0h0M598.6 58.7h0M602.8 83.8h0M595.0 92.8h0M590.4 71.9h0M596.5 91.5h0M610.8 48.3h0M613.3 48.1h0M603.3 83.1h0M621.2 64.7h0M594.2 65.6h0M583.4 86.5h0M587.7 77.5h0"/><path stroke="#bde2ee" d="M619.2 66.5h0M583.7 94.2h0M586.7 80.0h0M592.1 69.3h0M593.6 93.9h0M612.2 71.5h0M582.5 90.6h0M615.6 47.8h0M626.8 53.9h0M585.5 82.5h0M589.1 75.2h0M626.5 53.2h0M604.6 81.2h0M593.9 93.5h0M602.8 53.5h0M606.2 78.5h0M608.6 74.7h0M590.1 73.3h0M592.8 68.0h0M596.9 90.6h0M596.1 62.9h0M598.1 59.8h0M606.8 76.6h0M625.6 52.0h0M586.1 94.9h0M601.1 86.2h0M583.1 89.6h0M617.7 48.4h0M585.1 94.4h0M624.3 59.2h0M625.5 57.6h0M614.7 69.1h0M593.7 67.9h0M600.6 57.2h0"/><path stroke="#cae8f2" d="M620.7 49.1h0M599.6 58.5h0M606.6 76.3h0M609.2 73.2h0M601.3 84.6h0M610.6 49.7h0M622.0 49.6h0M610.2 71.8h0M584.0 93.1h0M623.4 60.0h0M608.0 74.1h0M622.0 62.2h0M626.0 53.8h0M588.1 94.5h0M595.3 91.0h0M585.6 84.5h0M599.5 86.8h0M621.4 62.4h0M617.4 66.4h0M583.3 91.1h0M613.9 69.2h0M604.8 78.4h0M590.4 94.2h0M590.4 74.0h0M586.9 81.0h0M601.9 55.4h0M608.0 50.9h0M590.0 94.2h0M619.5 64.4h0M607.1 74.8h0M608.8 50.3h0M608.8 72.5h0M586.3 82.3h0M587.7 80.0h0M613.7 49.2h0M595.9 64.6h0M593.6 68.8h0M604.9 53.0h0"/><path stroke="#d8eff6" d="M594.5 91.7h0M585.1 86.4h0M583.9 88.8h0M611.7 49.3h0M616.8 66.4h0M604.1 79.6h0M592.7 70.8h0M616.1 49.0h0M625.5 56.1h0M623.6 51.1h0M598.3 87.3h0M598.0 88.2h0M614.9 48.9h0M615.4 67.6h0M601.5 56.6h0M606.0 52.6h0M592.8 92.5h0M615.9 67.1h0M602.7 81.4h0M622.3 60.5h0M585.7 86.2h0M585.0 92.9h0M597.1 63.3h0M594.9 90.5h0M589.5 76.6h0M585.9 93.6h0M611.4 70.1h0"/><path stroke="#e3f4f2" d="M592.0 72.5h0M598.0 62.2h0M609.9 71.0h0M584.6 91.5h0M593.4 69.9h0M618.2 49.7h0M600.2 85.1h0M588.2 93.6h0M601.3 82.7h0M602.1 81.4h0M590.7 93.2h0M623.8 52.5h0M607.8 72.5h0M585.0 88.7h0M586.7 84.3h0M592.6 91.9h0M596.9 88.0h0M602.6 56.1h0M603.2 79.4h0"/><path stroke="#ebf7e4" d="M606.3 74.1h0M600.5 83.6h0M621.5 60.9h0M619.4 49.9h0M594.6 89.9h0M584.9 90.5h0M623.1 58.3h0M605.2 75.9h0M624.4 55.0h0M591.1 75.0h0M611.9 68.8h0M589.9 92.4h0M618.6 64.1h0M619.0 63.3h0M605.4 74.8h0M588.1 80.8h0M610.9 50.4h0M586.7 86.0h0M595.8 66.4h0M597.3 87.2h0"/><path stroke="#f3fad5" d="M586.0 88.1h0M603.0 78.6h0M623.5 57.0h0M595.1 89.1h0M596.9 64.9h0M592.7 73.2h0M612.9 67.8h0M586.5 91.8h0M598.6 85.6h0M620.1 50.4h0M588.6 91.9h0M615.5 66.1h0M586.2 89.9h0"/><path stroke="#fbfdc6" d="M622.2 51.5h0M622.5 52.1h0M623.5 54.2h0M586.8 87.3h0M590.7 90.9h0M595.8 67.5h0M589.2 90.9h0M605.1 74.5h0M600.0 60.6h0M595.0 69.4h0M589.7 78.4h0M592.7 89.5h0M604.8 54.3h0M590.9 89.9h0M622.8 56.5h0M587.6 88.0h0M588.8 90.0h0M602.0 78.6h0"/><path stroke="#fffbb9" d="M599.7 82.8h0M588.3 89.6h0M620.5 50.9h0M589.5 88.8h0M620.0 61.6h0M591.4 89.2h0M587.7 85.3h0M622.9 54.0h0M608.7 70.4h0M598.3 84.4h0M595.2 70.0h0M593.5 88.7h0M593.4 72.3h0M601.0 79.3h0M607.4 53.2h0M588.0 83.0h0M612.6 67.6h0M600.9 59.6h0M602.5 76.8h0M591.0 76.3h0M597.0 66.3h0M605.8 72.4h0M611.0 68.5h0"/><path stroke="#fff3ad" d="M620.5 60.6h0M588.6 86.8h0M593.5 72.9h0M622.4 55.3h0M599.6 81.3h0M618.6 62.4h0M598.9 63.0h0M592.4 87.9h0M596.4 67.8h0M609.1 69.3h0"/><path stroke="#feeba1" d="M616.6 63.9h0M606.3 53.9h0M597.9 65.7h0M621.4 52.5h0M607.5 70.7h0M596.1 86.7h0M604.1 74.0h0M617.8 50.8h0M621.2 58.9h0M602.8 74.8h0M613.2 51.2h0M613.6 65.8h0M592.9 74.6h0M606.3 70.9h0M599.5 80.0h0M590.0 79.0h0"/><path stroke="#fee395" d="M596.5 69.2h0M603.4 73.9h0M603.0 57.6h0M609.5 52.6h0M590.8 86.8h0M598.7 82.1h0M600.6 77.6h0M615.0 51.0h0M601.9 59.0h0M588.6 84.5h0M607.0 54.0h0M596.5 85.7h0M589.4 80.3h0M601.5 76.0h0M590.1 86.6h0"/><path stroke="#fed889" d="M600.3 61.6h0M610.5 67.6h0M601.7 75.4h0M607.5 69.6h0M598.3 80.9h0M612.3 51.4h0M619.5 52.1h0M620.9 56.6h0M599.1 65.2h0M614.3 64.7h0M616.7 63.0h0M594.5 86.7h0M621.0 54.0h0"/><path stroke="#fecb7d" d="M620.8 55.1h0M604.7 71.5h0M617.1 51.3h0M595.3 72.5h0M592.3 76.3h0M597.6 82.8h0M618.2 61.4h0M598.4 79.7h0M589.1 84.1h0M600.1 63.2h0M600.4 75.6h0M606.3 69.3h0M605.0 55.9h0M602.5 59.0h0M602.1 73.4h0M598.1 68.9h0M597.5 70.1h0M598.4 67.8h0M593.1 86.6h0M619.4 59.4h0"/><path stroke="#fdbf71" d="M612.9 65.0h0M595.6 85.6h0M599.5 76.1h0M599.7 65.1h0M593.9 75.6h0M604.8 70.1h0M596.9 83.5h0M609.2 67.4h0M602.8 71.7h0M596.0 73.5h0M612.1 65.4h0M602.1 72.0h0M597.5 72.0h0M600.6 73.6h0M615.5 62.8h0M599.7 67.5h0M598.7 76.0h0M598.9 74.8h0M602.3 70.9h0M599.1 70.7h0M601.8 71.1h0M597.1 74.0h0M598.8 71.7h0M597.9 78.2h0M611.1 66.1h0M598.4 73.1h0M599.6 72.3h0"/><path stroke="#fdb265" d="M591.4 86.1h0M607.7 67.9h0M600.3 70.2h0M601.5 61.1h0M594.0 86.2h0M596.6 75.1h0M600.6 69.5h0M602.4 59.7h0M589.5 82.9h0M596.1 75.6h0M601.2 69.1h0M616.3 62.0h0M597.4 76.8h0M596.0 84.6h0M591.4 78.4h0M590.0 85.2h0M611.6 52.6h0M593.1 86.1h0M618.4 60.2h0M594.2 76.6h0M619.7 57.3h0M602.4 69.1h0M610.7 52.9h0"/><path stroke="#fba25c" d="M595.0 76.4h0M596.8 78.1h0M604.2 68.7h0M619.0 53.5h0M611.5 64.8h0M601.3 67.6h0M597.2 80.8h0M619.1 58.0h0M608.9 53.9h0M600.3 65.7h0"/><path stroke="#f99254" d="M605.9 56.0h0M596.1 77.6h0M604.5 57.4h0M600.9 62.9h0M609.1 66.2h0M605.4 67.7h0M619.2 54.9h0M592.9 78.1h0M602.5 67.4h0M594.3 77.7h0M617.7 52.9h0M596.5 78.9h0M590.9 80.5h0"/><path stroke="#f7814c" d="M601.9 66.4h0M608.1 65.9h0M591.3 80.1h0M616.4 53.1h0M615.4 61.7h0M605.0 66.9h0M617.4 53.7h0M594.4 84.7h0"/><path stroke="#f47045" d="M612.9 53.1h0M617.1 59.8h0M606.2 66.5h0M618.0 58.1h0M614.6 53.1h0M595.5 83.1h0M612.0 63.6h0M604.1 58.8h0M613.4 62.5h0M618.2 54.9h0M590.9 83.6h0"/><path stroke="#ee603d" d="M610.2 64.7h0M592.5 84.6h0M595.4 80.2h0M606.5 56.5h0M608.0 55.6h0M602.5 65.6h0M602.0 64.6h0M592.3 80.1h0M617.3 57.5h0M591.6 82.0h0"/><path stroke="#e75136" d="M594.9 80.4h0M592.7 80.7h0M594.3 83.1h0M593.7 80.0h0M602.9 61.6h0M616.5 54.3h0M592.2 83.0h0M610.3 54.4h0M604.2 65.3h0M612.2 53.9h0M605.4 57.8h0M616.8 57.6h0M593.6 81.2h0M616.6 59.0h0"/><path stroke="#df412f" d="M614.5 53.8h0M613.0 53.9h0M603.2 62.5h0M606.5 64.8h0M616.7 55.6h0M604.9 64.8h0M610.9 63.1h0M609.0 64.0h0M603.3 64.0h0M609.5 55.5h0M615.1 60.0h0M613.0 61.6h0M604.4 59.8h0"/><path stroke="#d83228" d="M609.3 63.4h0M604.2 61.7h0M607.7 57.1h0M614.4 55.1h0M604.0 63.2h0M612.5 61.3h0M607.5 64.2h0M615.3 58.3h0"/><path stroke="#cb2527" d="M607.0 58.2h0M606.2 63.6h0M610.5 56.1h0M607.0 63.4h0M612.3 55.5h0M614.1 59.5h0M605.6 60.4h0M614.5 56.6h0"/><path stroke="#bf1927" d="M610.0 56.6h0M612.7 60.4h0M613.6 56.1h0M609.6 57.0h0M614.1 58.7h0M613.5 56.5h0M606.1 61.8h0"/><path stroke="#b20c26" d="M610.7 61.1h0M607.1 60.0h0M607.0 61.7h0M611.8 57.5h0M609.2 60.9h0M612.1 59.0h0M610.3 59.9h0M609.1 58.9h0M608.6 60.3h0"/><path stroke="#a50026" d="M610.9 58.7h0"/></g>
<line x1="549.8" y1="100.95" x2="676.6" y2="26.50" stroke="#858585" stroke-width="1.6" stroke-dasharray="4.6 3.1"/>
<rect x="605.1" y="121.5" width="73" height="10.6" fill="#fbfdea"/>
<rect x="605.1" y="131.5" width="33.4" height="10.6" fill="#fbfdea"/>
<rect x="605.1" y="141.5" width="43" height="10.6" fill="#fbfdea"/>
<text x="606.7" y="129.1" font-size="9.6">y = 0.79x + 3.10</text>
<text x="606.7" y="139.0" font-size="9.6">r : 0.59</text>
<text x="606.7" y="149.0" font-size="9.6">p &lt; 0.001</text>
<rect x="543" y="15" width="141" height="1" fill="#bdbdbd"/>
<rect x="543" y="155" width="141" height="1" fill="#9a9a9a"/>
<rect x="683" y="15" width="1" height="141" fill="#9a9a9a"/>
<rect x="543" y="15" width="1" height="141" fill="#7a7a7a"/>
<rect x="541" y="154.3" width="2" height="1" fill="#333"/>
<text x="540.4" y="159.0" font-size="10" text-anchor="end">0</text>
<rect x="541" y="121.0" width="2" height="1" fill="#333"/>
<text x="540.4" y="125.7" font-size="10" text-anchor="end">2</text>
<rect x="541" y="87.7" width="2" height="1" fill="#333"/>
<text x="540.4" y="92.4" font-size="10" text-anchor="end">4</text>
<rect x="541" y="54.4" width="2" height="1" fill="#333"/>
<text x="540.4" y="59.1" font-size="10" text-anchor="end">6</text>
<rect x="541" y="21.1" width="2" height="1" fill="#333"/>
<text x="540.4" y="25.8" font-size="10" text-anchor="end">8</text>
<rect x="545.5" y="156" width="1" height="2" fill="#333"/>
<text x="546.0" y="165.5" font-size="10" text-anchor="middle">0</text>
<rect x="590.3" y="156" width="1" height="2" fill="#333"/>
<text x="590.8" y="165.5" font-size="10" text-anchor="middle">2</text>
<rect x="635.1" y="156" width="1" height="2" fill="#333"/>
<text x="635.6" y="165.5" font-size="10" text-anchor="middle">4</text>
<rect x="679.9" y="156" width="1" height="2" fill="#333"/>
<text x="680.4" y="165.5" font-size="10" text-anchor="middle">6</text>
<text x="613.0" y="178.0" font-size="12.4" text-anchor="middle">Electricity</text>
<text transform="translate(530.5,85.0) rotate(-90)" font-size="12.2" text-anchor="middle">POP</text>
<text x="520.5" y="9.6" font-size="13.5">d</text>
<g fill="none" stroke-width="3.0" stroke-linecap="round"><path stroke="#3a52ad" d="M146.8 222.5h0M141.3 223.7h0M159.2 224.4h0M160.0 224.0h0M130.1 226.1h0M160.2 225.3h0M159.3 232.6h0M160.3 237.0h0M159.9 247.5h0M97.4 250.2h0M99.4 249.3h0M160.8 251.5h0M160.0 254.6h0M92.4 262.8h0M160.5 263.6h0M92.4 265.9h0M91.4 270.8h0M92.3 273.8h0M90.6 280.4h0M159.4 283.0h0M160.6 283.1h0M94.1 285.1h0M159.5 285.0h0M159.7 289.1h0M95.6 290.0h0M95.9 293.3h0M158.1 296.4h0M102.9 296.9h0M107.1 297.3h0M110.7 298.6h0M115.9 300.2h0M117.0 300.3h0M149.1 300.8h0M128.5 301.8h0M146.1 301.7h0M147.4 301.6h0M132.1 303.2h0M146.8 303.0h0M55.1 272.0h0M55.6 273.6h0M57.1 291.6h0M59.3 256.9h0M59.7 258.6h0M59.3 270.5h0M61.9 261.7h0M62.1 263.2h0M62.1 273.3h0M62.0 275.0h0M62.2 278.1h0M61.7 279.6h0M63.8 268.8h0M63.5 270.3h0M63.8 284.1h0M63.4 285.5h0M63.4 287.0h0M63.4 292.9h0M65.5 263.0h0M65.3 264.5h0M65.5 273.4h0M65.3 275.1h0M65.2 276.5h0M67.6 255.4h0M67.5 259.9h0M67.4 261.7h0M67.5 285.3h0M69.7 249.6h0M69.6 254.1h0M69.5 259.9h0M69.3 267.4h0M69.6 269.0h0M69.6 278.2h0M69.3 279.6h0M69.3 280.9h0M69.5 287.2h0M71.6 257.1h0M71.4 258.3h0M71.5 266.2h0M71.6 278.1h0M71.7 282.6h0M71.5 291.5h0M73.4 241.8h0M73.5 257.0h0M73.2 258.5h0M73.2 266.0h0M73.3 282.7h0M73.5 284.2h0M73.5 290.0h0M73.7 291.4h0M73.3 292.9h0M75.7 281.1h0M75.6 282.6h0M75.5 284.1h0M75.6 285.5h0M75.8 294.5h0M77.4 245.0h0M77.7 249.6h0M77.6 250.9h0M77.3 252.6h0M77.3 257.1h0M77.4 258.5h0M77.6 259.9h0M77.4 270.6h0M77.6 278.2h0M77.6 279.7h0M77.3 280.8h0M77.3 282.4h0M77.4 289.9h0M77.3 291.7h0M77.7 292.9h0M79.8 249.5h0M79.9 251.0h0M79.7 258.7h0M79.7 259.8h0M79.7 261.7h0M79.9 274.8h0M79.9 282.6h0M79.8 284.1h0M79.9 285.5h0M80.1 294.6h0M80.9 249.5h0M81.1 255.6h0M80.8 256.9h0M80.9 258.3h0M81.0 259.9h0M81.3 261.5h0M80.9 270.7h0M81.1 272.0h0M80.9 273.5h0M83.2 240.3h0M83.0 242.1h0M83.2 254.2h0M83.0 255.7h0M82.8 257.0h0M82.9 258.5h0M83.0 260.1h0M82.8 269.0h0M83.2 298.8h0M85.9 252.6h0M86.0 267.6h0M85.9 268.8h0M86.0 270.4h0M86.0 277.9h0M85.7 279.4h0M85.8 286.9h0M86.0 288.4h0M87.1 253.9h0M87.0 255.5h0M87.3 260.0h0M87.1 261.4h0M87.3 262.8h0M87.3 264.4h0M87.4 266.2h0M87.5 270.3h0M87.4 272.2h0M87.1 273.5h0M87.5 275.1h0M87.0 280.9h0M87.2 282.5h0M87.2 284.1h0M87.4 285.3h0M89.3 234.4h0M89.4 260.1h0M89.6 273.5h0M89.3 275.0h0M89.4 276.5h0M89.6 278.0h0M89.5 279.5h0M89.3 281.1h0M89.6 282.5h0M89.4 293.1h0M91.9 234.3h0M91.8 236.0h0M91.7 249.7h0M91.8 251.1h0M92.0 252.7h0M91.7 254.0h0M92.0 255.7h0M91.7 256.9h0M92.0 258.4h0M92.0 265.8h0M91.7 275.2h0M92.1 276.4h0M93.8 245.1h0M93.8 246.6h0M94.1 256.8h0M94.1 258.7h0M94.0 264.7h0M94.0 266.2h0M93.9 267.7h0M94.0 269.0h0M94.0 270.7h0M94.1 275.2h0M93.9 276.6h0M93.9 277.9h0M93.8 282.6h0M94.0 284.0h0M94.0 285.3h0M93.9 287.0h0M95.8 243.6h0M95.7 244.9h0M95.8 251.1h0M95.5 252.6h0M95.7 276.3h0M95.5 278.2h0M95.4 285.6h0M95.6 300.5h0M95.5 302.2h0M95.5 303.3h0M95.6 305.1h0M97.3 229.9h0M97.4 244.9h0M97.0 249.5h0M97.1 251.1h0M97.4 252.5h0M97.1 254.0h0M96.9 296.0h0M97.2 297.4h0M100.1 234.6h0M99.7 236.1h0M100.0 240.5h0M99.8 249.3h0M100.0 250.8h0M100.1 291.5h0M99.7 296.1h0M99.9 297.7h0M99.9 299.0h0M99.7 300.4h0M102.1 235.9h0M101.9 237.7h0M102.0 293.2h0M101.8 299.1h0M102.1 300.4h0M101.8 303.5h0M102.0 305.1h0M103.9 311.0h0M105.9 225.4h0M105.9 246.4h0M106.0 296.0h0M107.7 241.9h0M107.6 243.5h0M107.3 295.8h0M107.8 297.4h0M109.8 225.5h0M109.5 231.4h0M109.8 233.0h0M109.5 234.5h0M109.7 301.9h0M109.3 303.4h0M109.8 305.0h0M109.7 306.5h0M111.2 242.1h0M111.3 295.9h0M111.0 297.7h0M113.2 300.3h0M113.4 308.1h0M113.1 309.3h0M113.4 311.0h0M115.1 219.3h0M115.0 221.0h0M114.9 222.3h0M114.9 224.0h0M114.9 225.7h0M114.8 301.9h0M117.8 234.7h0M117.7 236.2h0M117.8 303.4h0M117.8 307.8h0M117.9 309.5h0M119.5 231.6h0M119.6 233.1h0M119.4 234.3h0M119.3 236.0h0M119.6 302.1h0M119.5 308.2h0M121.9 219.7h0M122.0 231.4h0M121.5 234.3h0M121.8 299.2h0M123.3 229.8h0M122.9 231.4h0M123.1 233.1h0M123.1 300.4h0M123.0 302.1h0M123.0 303.6h0M123.0 304.9h0M127.6 228.3h0M127.3 229.9h0M127.4 303.5h0M127.5 304.9h0M127.5 306.6h0M129.1 230.1h0M129.3 306.6h0M131.2 215.2h0M130.9 219.4h0M130.9 222.6h0M131.2 223.9h0M130.9 227.1h0M131.1 228.4h0M130.9 300.5h0M131.3 306.3h0M134.1 213.3h0M133.7 214.9h0M133.7 216.6h0M133.8 218.1h0M133.9 219.5h0M134.0 221.0h0M133.9 300.6h0M133.7 302.1h0M136.0 212.1h0M136.0 213.4h0M135.8 214.9h0M135.8 217.8h0M135.8 219.4h0M135.6 221.0h0M136.0 225.4h0M135.9 226.9h0M135.6 309.4h0M135.9 311.2h0M137.3 216.5h0M137.7 217.8h0M139.0 217.9h0M138.9 219.6h0M139.2 221.1h0M139.3 222.7h0M138.9 309.6h0M138.8 310.8h0M141.3 213.3h0M141.4 215.0h0M141.4 308.0h0M141.4 309.6h0M143.7 207.3h0M143.6 209.1h0M143.6 210.6h0M143.6 222.4h0M143.6 224.1h0M143.6 303.6h0M143.5 304.9h0M145.4 224.1h0M146.9 222.3h0M147.3 223.8h0M147.4 299.2h0M147.3 300.5h0M147.1 303.6h0M147.0 305.1h0M149.1 210.4h0M149.2 216.3h0M148.8 217.8h0M149.1 301.9h0M149.1 303.7h0M151.5 216.4h0M151.2 222.5h0M151.5 224.0h0M151.3 297.5h0M151.1 299.0h0M151.1 300.3h0M153.5 210.7h0M153.2 222.7h0M153.2 224.0h0M155.4 213.5h0M155.5 220.9h0M155.5 222.5h0M155.6 224.0h0M155.5 300.5h0M158.0 222.6h0M157.9 224.1h0M157.6 228.4h0M157.7 229.8h0M157.8 294.6h0M157.6 295.9h0M159.2 224.1h0M159.0 252.3h0M159.0 254.1h0M159.0 270.7h0M159.0 272.1h0M158.9 273.5h0M159.2 274.9h0M159.1 276.4h0M158.9 282.6h0M159.0 293.1h0M159.3 298.8h0M159.3 300.7h0M161.7 212.0h0M161.2 213.7h0M161.4 221.1h0M161.3 231.6h0M161.6 232.8h0M161.6 237.5h0M161.4 238.8h0M161.2 243.3h0M161.6 245.1h0M161.6 246.6h0M161.4 258.5h0M161.3 260.1h0M83.3 274.0h0M75.2 262.6h0M77.9 274.6h0M70.8 267.3h0M68.5 249.2h0M85.2 259.6h0M69.6 273.3h0M89.2 263.4h0M84.7 268.9h0M72.6 283.1h0M104.8 263.6h0M76.4 254.3h0M84.6 282.0h0M77.5 270.6h0M90.0 252.6h0M80.8 255.5h0M75.9 253.7h0M83.5 265.5h0M70.8 264.8h0M83.6 271.6h0M81.0 271.8h0M95.1 269.8h0M75.3 257.8h0M75.4 254.1h0M97.4 255.1h0M110.1 287.1h0M92.2 298.5h0M87.3 276.7h0M99.8 291.2h0M85.1 285.8h0M110.8 278.3h0M74.6 283.4h0M90.8 285.4h0M110.9 282.1h0M89.5 288.0h0M111.4 291.6h0M96.7 287.2h0M100.6 296.5h0M95.5 287.0h0M103.5 288.2h0M90.3 279.7h0M105.0 293.3h0M107.2 299.6h0M113.3 286.0h0M97.9 291.4h0M46.6 242.8h0M54.0 244.0h0M70.0 242.8h0M31.5 254.5h0M36.0 256.0h0M58.0 257.0h0M61.6 257.0h0M66.0 256.0h0M71.0 256.0h0M65.0 263.0h0M69.0 261.0h0M66.0 269.5h0M70.0 268.0h0M75.0 269.5h0M35.3 297.7h0M46.6 295.0h0M63.5 297.0h0M64.5 286.0h0M65.5 292.0h0M73.0 296.0h0M76.0 288.0h0M78.5 284.0h0M148.5 338.5h0M107.0 222.8h0M125.0 220.0h0M130.0 220.0h0M51.3 244.0h0M51.3 246.5h0M51.3 249.0h0M51.4 251.5h0M51.2 254.0h0M51.3 256.5h0M51.4 259.0h0M51.5 261.5h0M51.4 264.0h0M51.3 266.5h0M51.4 269.0h0M51.5 271.5h0M51.2 274.0h0M51.2 276.5h0M51.2 279.0h0M143.7 209.6h0M143.9 210.8h0M143.8 212.0h0M144.1 213.2h0M143.9 214.4h0M143.9 215.6h0M144.0 216.8h0M144.0 218.0h0M144.0 219.2h0M143.9 220.4h0M143.8 221.6h0M143.8 222.8h0M120.2 213.4h0M120.3 214.8h0M120.3 216.2h0M120.2 217.6h0M120.1 219.0h0M51.1 294.0h0M51.2 295.5h0M51.3 297.0h0M131.0 227.1h0M159.2 287.0h0M99.9 293.7h0M94.1 257.8h0M153.6 298.6h0M158.8 228.6h0M102.0 247.8h0M146.0 300.9h0M159.0 284.6h0M94.4 282.7h0M94.6 256.6h0M141.4 301.7h0M93.1 267.7h0"/><path stroke="#3e5eaf" d="M107.3 297.1h0M158.9 236.6h0M159.4 267.0h0M92.9 271.6h0M159.7 255.1h0M158.9 280.7h0M136.3 302.2h0M111.6 297.8h0M159.4 257.6h0M135.4 302.1h0M94.9 255.4h0M97.4 252.3h0M133.4 226.4h0M153.7 298.2h0M126.5 229.8h0M111.1 241.1h0M156.3 295.8h0M100.9 249.3h0M114.2 298.6h0M94.4 280.7h0M123.5 300.7h0M95.0 283.5h0M157.8 225.3h0M97.1 290.5h0M154.3 223.6h0M118.2 236.1h0M99.5 250.9h0M124.4 300.6h0M107.6 296.6h0M94.7 279.0h0M121.1 234.2h0M157.9 292.6h0M106.2 296.1h0M125.4 230.9h0M134.4 226.4h0M158.9 273.9h0M105.9 245.5h0M108.6 243.6h0M140.6 300.8h0M149.8 299.5h0"/><path stroke="#426ab2" d="M94.3 277.8h0M94.2 274.6h0M117.5 299.1h0M132.5 227.4h0M112.1 297.7h0M124.8 231.4h0M158.4 230.4h0M110.1 242.4h0M96.2 286.8h0M136.8 225.8h0M158.7 231.6h0M159.1 270.6h0M114.5 239.1h0M158.9 246.5h0M159.2 266.4h0M142.5 300.3h0M94.1 266.5h0M138.6 300.9h0M94.3 276.7h0M158.9 248.9h0M118.7 299.2h0M129.1 229.4h0M158.4 240.5h0M158.9 261.2h0M128.4 300.6h0M110.8 241.9h0M121.4 299.4h0M95.1 260.6h0M96.2 285.1h0M158.6 277.9h0M157.3 290.4h0M95.9 284.6h0M107.5 244.9h0M110.2 243.2h0M104.5 247.3h0M149.0 223.8h0M152.7 223.9h0M141.0 225.5h0M98.8 252.4h0M143.5 300.1h0M103.7 293.9h0M96.1 255.9h0M102.2 293.0h0M100.5 291.8h0M151.5 298.1h0M152.1 224.0h0"/><path stroke="#4676b5" d="M130.8 300.7h0M158.5 276.6h0M115.9 238.5h0M158.7 242.3h0M103.0 293.6h0M157.5 287.3h0M122.7 233.9h0M96.9 288.4h0M123.8 232.9h0M131.8 228.5h0M131.0 228.9h0M131.9 300.6h0M94.5 272.7h0M95.7 259.4h0M158.4 275.0h0M105.6 246.9h0M112.9 241.1h0M142.2 225.7h0M95.6 278.9h0M95.8 282.0h0M97.1 254.9h0M140.1 226.0h0M136.8 300.3h0M95.2 264.0h0M125.4 299.4h0M120.2 236.0h0M127.7 230.9h0M94.6 270.9h0M96.2 281.6h0M110.1 296.0h0M95.9 257.5h0M98.8 290.4h0M94.4 269.5h0M108.8 244.4h0M158.6 243.8h0M156.9 289.0h0M122.8 299.1h0M139.6 299.9h0M113.9 297.0h0M105.3 294.6h0M106.0 247.1h0M100.8 251.5h0M94.9 273.7h0M113.1 241.7h0M110.4 243.3h0M111.0 296.1h0M150.3 224.3h0M133.9 227.8h0M94.9 267.2h0M136.8 227.1h0M156.4 293.1h0M97.0 285.8h0M118.7 237.3h0M157.2 226.8h0M149.8 298.0h0M152.5 296.5h0M114.6 240.5h0M158.0 231.8h0M157.8 232.4h0M158.3 269.2h0M148.1 298.5h0M158.1 238.4h0M108.2 294.9h0M156.6 291.5h0M139.5 226.4h0M137.7 226.8h0M158.1 280.1h0M134.0 300.1h0M155.7 225.7h0M134.6 299.9h0M158.7 264.8h0M96.2 278.2h0M130.2 299.6h0M158.6 252.6h0M158.4 254.3h0M158.4 263.1h0M95.4 273.8h0M116.2 297.1h0M100.4 252.3h0M95.6 265.6h0M139.4 299.3h0M118.1 297.6h0M115.4 240.0h0M97.7 286.9h0M119.9 298.2h0M96.6 258.4h0M95.9 262.0h0"/><path stroke="#5285bc" d="M146.4 298.6h0M104.0 249.5h0M114.6 296.5h0M142.4 299.2h0M102.5 251.2h0M158.7 258.8h0M152.1 225.2h0M127.9 299.2h0M96.1 276.1h0M145.4 298.5h0M124.3 298.4h0M106.0 294.1h0M158.5 260.5h0M117.1 297.1h0M106.4 247.7h0M101.5 252.1h0M100.5 290.3h0M101.8 291.4h0M148.9 224.9h0M149.7 225.0h0M128.9 231.1h0M121.8 297.8h0M117.6 239.1h0M105.0 248.9h0M95.6 270.5h0M143.9 298.3h0M108.2 246.6h0M103.5 250.7h0M105.3 293.6h0M152.0 296.0h0M140.7 226.6h0M115.9 296.3h0M97.4 284.2h0M129.9 230.3h0M112.5 295.7h0M146.6 298.0h0M112.2 243.5h0M148.9 297.3h0M144.9 225.5h0M125.6 233.6h0M145.9 298.1h0M97.3 282.8h0M116.4 240.1h0M156.5 227.0h0M96.6 262.8h0M132.2 298.9h0M96.0 272.5h0M121.3 236.3h0M127.1 232.4h0M98.5 255.3h0M128.6 298.6h0M141.6 298.5h0M154.5 294.2h0M154.8 293.4h0M152.9 295.0h0M96.6 263.9h0M96.3 275.2h0M106.3 293.6h0M133.6 299.2h0M135.1 299.2h0M97.5 257.8h0M97.9 256.5h0M103.9 291.8h0M143.6 298.1h0M110.4 294.6h0M109.1 246.5h0M158.2 276.4h0M156.9 228.0h0M156.4 288.2h0M116.6 296.1h0M97.2 262.4h0M137.8 298.4h0M124.5 297.5h0M99.4 288.7h0M141.6 298.0h0M97.4 259.9h0M115.2 242.1h0M96.4 267.9h0M109.9 294.2h0M155.7 290.3h0M114.4 242.6h0M98.1 281.5h0M136.2 298.7h0M97.7 277.9h0M97.1 274.4h0M96.6 269.6h0M130.0 297.9h0M126.5 297.7h0M98.9 286.8h0M118.7 239.6h0M111.1 245.3h0M102.0 290.0h0M142.9 297.7h0M123.3 297.2h0M120.7 238.0h0M100.2 288.6h0M97.8 279.8h0M97.5 276.6h0M113.0 294.4h0M112.7 244.4h0M99.0 286.1h0M128.0 297.6h0M109.6 293.5h0M121.1 296.5h0M114.5 243.0h0M149.7 295.9h0M133.1 297.9h0M101.1 254.6h0M108.9 247.3h0M129.4 297.5h0M96.9 269.0h0M97.1 270.7h0M97.9 261.0h0M108.3 247.9h0M124.9 234.4h0M139.8 297.4h0M103.4 252.6h0M116.0 294.9h0M98.6 281.0h0M110.6 293.5h0M120.2 296.1h0M149.0 296.0h0M97.7 273.5h0M97.3 266.0h0M114.5 294.3h0M118.4 295.3h0M106.9 249.7h0M107.4 292.5h0M105.8 250.4h0M99.9 255.8h0M97.7 267.7h0M137.1 297.7h0M105.2 291.0h0M98.1 264.7h0M135.5 297.6h0M122.6 296.0h0M107.4 249.3h0M98.7 277.6h0M99.3 284.1h0M101.6 288.6h0M103.0 289.7h0M102.2 254.6h0M98.9 258.7h0M143.5 296.3h0M105.4 251.4h0M111.7 246.5h0M99.6 282.9h0M138.4 296.9h0M132.0 296.9h0M97.8 272.7h0M124.5 296.2h0M99.3 257.3h0M146.6 225.7h0M113.7 244.9h0M98.7 263.4h0M99.1 259.9h0M117.3 294.7h0M146.7 296.0h0M150.3 295.1h0M129.7 296.6h0M106.8 291.7h0M125.9 296.2h0M105.5 251.9h0M119.9 295.2h0M99.2 261.7h0M99.9 284.2h0M99.1 276.9h0M98.5 266.1h0M107.7 291.7h0M145.5 296.0h0M109.6 292.0h0M139.5 296.4h0M99.5 279.4h0M103.7 289.0h0M104.9 289.9h0M112.8 245.8h0M100.3 257.1h0M101.9 255.3h0M106.1 252.0h0M101.4 287.5h0M99.0 264.2h0M133.0 296.3h0M113.8 293.2h0M112.6 292.6h0M103.3 254.3h0M100.8 286.6h0M130.6 296.2h0M107.6 251.2h0M101.4 256.4h0M98.8 272.9h0M110.1 248.9h0M119.1 294.0h0M128.0 295.6h0M98.8 272.3h0M100.5 282.7h0M104.6 253.8h0M112.2 247.6h0M100.9 285.6h0M99.1 267.5h0M100.0 259.8h0M99.1 271.0h0M135.5 296.3h0M99.5 274.6h0M100.6 281.1h0M123.1 294.3h0M100.1 277.1h0M126.9 295.0h0M106.0 289.6h0M111.6 248.3h0M100.2 262.9h0M110.5 249.5h0M112.0 291.6h0M117.5 293.2h0M100.4 278.9h0M121.4 294.1h0M116.0 292.5h0M110.7 290.9h0M107.4 290.2h0M103.7 256.0h0M105.9 254.1h0M118.5 293.2h0M105.0 255.1h0M100.6 260.9h0M109.1 251.5h0M113.5 291.4h0M99.3 268.9h0M104.7 287.3h0M108.3 252.2h0M101.1 259.0h0M126.6 294.4h0M102.3 285.9h0M105.3 287.9h0M99.9 265.7h0M101.9 258.3h0M106.1 255.0h0M100.2 273.1h0M109.0 289.8h0M104.0 286.7h0M120.5 292.9h0M104.6 256.7h0M106.7 288.2h0M101.5 282.0h0M115.4 291.6h0M104.0 257.4h0M101.1 277.9h0M106.3 287.4h0M100.2 267.8h0M102.9 285.0h0M107.3 288.1h0M104.1 258.9h0M104.7 258.2h0M102.6 259.8h0M103.6 259.4h0M104.8 260.3h0M101.9 261.9h0M103.4 261.2h0M105.4 261.9h0M101.8 263.6h0M103.7 263.1h0M105.2 262.9h0M100.9 264.0h0M102.7 264.7h0M104.1 264.2h0M105.3 265.2h0M101.7 266.3h0M103.9 265.9h0M105.1 266.5h0M101.9 268.1h0M103.1 267.7h0M104.8 267.7h0M100.3 268.6h0M101.9 268.8h0M103.9 268.8h0M104.9 269.6h0M100.7 270.6h0M102.4 270.5h0M103.8 271.0h0M104.5 269.9h0M100.4 271.5h0M101.5 272.3h0M103.9 272.6h0M104.8 271.5h0M101.5 273.4h0M103.6 272.9h0M105.5 273.1h0M100.8 274.9h0M101.7 274.5h0M103.4 275.2h0M104.6 274.4h0M105.9 274.5h0M102.7 275.9h0M103.9 277.0h0M104.3 276.2h0M106.9 276.8h0M107.6 277.0h0M101.5 277.9h0M104.1 277.8h0M105.3 277.8h0M107.1 278.2h0M101.5 280.0h0M103.0 278.8h0M105.2 279.7h0M106.4 278.8h0M108.3 279.3h0M102.3 281.0h0M103.9 281.0h0M105.3 281.6h0M105.8 281.6h0M108.4 281.0h0M108.8 280.8h0M103.2 282.5h0M104.6 282.2h0M107.1 282.3h0M108.4 282.9h0M108.9 282.2h0M110.5 282.5h0M102.4 283.5h0M103.8 283.4h0M105.5 283.7h0M106.5 283.8h0M107.4 284.4h0M109.3 284.3h0M111.5 284.1h0M112.2 284.1h0M105.5 285.2h0M106.4 285.0h0M108.2 285.9h0M110.1 285.1h0M110.5 286.1h0M111.9 286.1h0M107.4 287.3h0M108.8 287.3h0M110.6 286.8h0M112.8 287.5h0M114.3 287.5h0M109.7 287.9h0M110.8 288.9h0M112.1 288.3h0M114.4 287.9h0M115.0 288.3h0M111.4 290.2h0M112.1 289.5h0M113.6 289.7h0M115.8 290.4h0M116.7 289.4h0M117.6 291.5h0M118.0 291.7h0M121.8 293.1h0M107.0 257.1h0M106.3 259.6h0M115.2 286.8h0M106.2 273.7h0M124.4 294.2h0M108.3 277.7h0M107.1 257.9h0M109.7 279.1h0M117.9 290.1h0M122.8 293.2h0M112.4 283.1h0M106.0 272.6h0M111.4 281.5h0M115.2 286.2h0M119.6 291.1h0M114.6 285.1h0M108.1 254.2h0M106.6 261.4h0M117.0 287.9h0M109.6 277.9h0M114.0 284.1h0M108.9 252.7h0M107.8 255.0h0M120.0 290.7h0M121.0 291.2h0M117.4 287.6h0M108.4 274.9h0M112.7 281.1h0M124.3 292.5h0M106.5 270.3h0M111.6 279.4h0M110.4 278.2h0M109.0 254.2h0M110.6 250.8h0M118.0 287.5h0M123.1 291.4h0M108.1 273.5h0M118.6 288.0h0M106.3 265.0h0M107.9 257.5h0M128.9 294.7h0M107.4 271.9h0M106.8 263.0h0M108.1 258.1h0M107.5 260.6h0M106.3 265.8h0M106.7 267.0h0M107.4 261.0h0M131.6 295.7h0M110.4 252.2h0M130.5 294.9h0M109.9 275.9h0M113.4 281.1h0M117.6 285.8h0M121.3 289.8h0M126.1 292.5h0M111.9 279.0h0M116.1 284.2h0M114.3 282.0h0M106.8 269.5h0M111.9 249.7h0M115.5 282.9h0M123.2 290.3h0M118.1 285.9h0M124.2 291.0h0M109.9 274.9h0M116.8 284.3h0M119.5 287.5h0M120.0 288.2h0M127.9 292.8h0M108.0 262.3h0M140.7 296.0h0M107.7 265.4h0M110.0 255.0h0M128.6 293.1h0M110.9 276.0h0M115.1 281.3h0M115.5 244.1h0M120.9 288.4h0M107.3 267.4h0M113.5 279.7h0M108.6 270.9h0M108.8 271.9h0M109.0 260.0h0M110.2 273.4h0M115.6 244.5h0M109.7 258.0h0M114.6 246.4h0M121.0 237.8h0M111.1 253.8h0M130.4 293.5h0M124.8 290.6h0M132.3 294.5h0M112.5 277.3h0M136.6 295.6h0M125.8 291.2h0M142.4 295.4h0M138.4 295.7h0M108.6 264.0h0M152.0 294.1h0M113.0 250.3h0M111.1 274.5h0M109.8 257.3h0M109.2 262.7h0M117.1 242.3h0M108.4 269.2h0M112.1 276.2h0M118.5 284.5h0M116.4 243.4h0M148.6 294.9h0M118.5 240.5h0M138.2 295.2h0M143.7 294.9h0M143.1 295.1h0M114.5 248.1h0M113.9 278.3h0M109.7 271.1h0M115.7 245.9h0M125.7 290.0h0M132.9 294.2h0M154.6 291.3h0M153.1 293.1h0M111.2 273.7h0M111.1 256.0h0M153.9 226.0h0M135.1 294.5h0M128.6 291.5h0M110.7 272.4h0M112.7 252.9h0M132.4 293.3h0M152.1 293.5h0M109.1 266.0h0M122.4 237.0h0M121.4 287.0h0M128.0 290.8h0M146.8 294.6h0M145.9 294.6h0M140.7 294.6h0M124.5 288.8h0M113.4 251.4h0M110.5 259.1h0M117.3 282.1h0M109.6 269.5h0M114.7 249.6h0M110.2 262.0h0M118.1 282.6h0M112.0 255.0h0M116.7 245.3h0M110.6 260.4h0M123.5 288.0h0M158.2 243.0h0M115.4 278.9h0M136.4 294.2h0M115.7 248.2h0M130.1 291.4h0M123.3 236.5h0M116.6 245.9h0M119.9 284.4h0M118.7 241.8h0M138.9 294.2h0M111.4 256.8h0M120.5 239.3h0M150.3 293.4h0M120.4 285.1h0M110.4 261.9h0M112.9 274.8h0M152.4 226.0h0M132.0 230.1h0M131.5 291.8h0M117.4 280.8h0M114.2 276.6h0M110.1 265.1h0M142.0 226.6h0M128.0 289.8h0M125.7 235.1h0M110.7 263.2h0M119.9 240.6h0M149.1 293.4h0M111.1 270.9h0M123.0 287.2h0M112.9 254.6h0M125.4 288.3h0M109.9 268.0h0M121.0 239.3h0M118.3 243.1h0"/><path stroke="#5e93c4" d="M146.7 293.3h0M145.4 293.6h0M142.1 293.5h0M144.5 226.1h0M124.0 287.4h0M136.1 228.7h0M116.0 278.5h0M112.2 257.6h0M114.6 251.9h0M133.4 292.5h0M112.5 273.0h0M157.4 283.7h0M121.0 284.4h0M152.5 291.6h0M135.0 228.8h0M113.9 275.5h0M124.7 236.3h0M116.1 249.0h0M110.6 268.6h0M130.1 231.6h0M129.9 290.5h0M153.9 289.9h0M137.0 292.8h0M128.7 289.4h0M143.3 293.0h0M112.1 259.0h0M157.6 234.4h0M157.4 236.3h0M157.5 237.8h0M151.9 291.6h0M151.9 226.6h0M157.9 268.3h0M128.4 233.1h0M118.6 244.4h0M113.4 273.8h0M154.6 227.2h0M127.4 233.9h0M111.2 264.7h0M117.5 279.7h0M122.8 238.7h0M157.8 266.2h0M135.1 292.4h0M121.9 285.0h0M157.9 246.9h0M112.1 260.0h0M156.3 286.4h0M157.8 264.0h0M157.8 251.1h0M158.2 256.1h0M125.4 287.6h0M111.1 265.4h0M119.4 243.1h0M127.7 288.7h0M119.1 281.0h0M115.9 250.6h0M135.0 229.5h0M115.7 276.7h0M157.0 229.6h0M137.4 292.4h0M112.7 271.5h0M113.6 256.1h0M140.0 292.4h0M141.5 292.6h0M121.8 240.1h0M123.9 237.8h0M117.3 247.4h0M114.4 254.0h0M134.0 229.8h0"/><path stroke="#6aa2cb" d="M139.6 228.2h0M156.4 285.8h0M120.6 241.8h0M148.1 226.6h0M113.6 256.7h0M112.2 270.0h0M112.1 262.7h0M154.8 288.0h0M115.6 252.4h0M133.0 290.9h0M128.5 234.1h0M122.7 240.0h0M123.4 285.5h0M150.3 226.8h0M153.3 227.3h0M156.4 229.0h0M111.5 267.7h0M120.3 281.9h0M152.9 289.7h0M136.9 292.1h0M118.1 247.7h0M116.8 277.7h0M157.7 272.3h0M129.2 288.4h0M138.2 228.8h0M117.0 249.8h0M130.6 232.5h0M157.2 283.2h0M121.7 241.7h0M131.8 231.6h0M154.5 228.0h0M118.7 247.2h0M157.7 270.9h0M112.2 265.1h0M149.7 291.3h0M126.4 236.4h0M157.2 281.7h0"/><path stroke="#77afd2" d="M157.4 244.7h0M136.1 230.1h0M157.7 267.7h0M153.2 289.2h0M141.7 228.2h0M157.1 278.1h0M112.5 269.4h0M130.6 289.0h0M121.4 282.3h0M115.6 254.2h0M157.7 248.2h0M157.5 249.7h0M138.3 291.3h0M113.2 261.5h0M157.3 257.3h0M133.9 231.0h0M143.5 227.5h0M157.0 241.1h0M157.5 261.4h0M127.3 236.0h0M125.9 237.6h0M157.4 258.8h0M157.0 275.1h0M135.1 291.0h0M113.5 259.5h0M119.0 279.0h0M157.0 241.3h0M156.5 283.8h0M156.1 229.7h0M156.9 273.1h0"/><path stroke="#85bbd8" d="M131.4 288.8h0M154.8 286.5h0M120.3 280.7h0M132.3 289.4h0M126.8 286.6h0M124.5 284.8h0M147.1 227.3h0M121.0 243.4h0M145.7 227.6h0M148.3 290.8h0M112.4 266.9h0M122.8 283.5h0M116.9 252.2h0M151.4 289.5h0M124.8 238.8h0M115.8 274.6h0M146.4 291.2h0M145.9 290.9h0M140.0 290.9h0M140.9 291.0h0M142.6 291.1h0M143.5 291.0h0M156.3 237.1h0M152.4 228.3h0M118.2 249.9h0M120.1 245.9h0M119.8 279.7h0M134.0 289.8h0M156.5 277.9h0M116.6 275.0h0M131.6 233.2h0M117.5 251.3h0M135.4 290.3h0M114.3 271.7h0M129.3 287.7h0M130.6 233.9h0M122.9 241.4h0M113.1 265.4h0M113.9 270.6h0M144.3 228.1h0M127.0 237.7h0M113.5 263.1h0M124.2 283.9h0M140.0 229.7h0M115.9 255.0h0M114.5 258.6h0M116.5 254.2h0M120.3 245.5h0M117.3 276.0h0M137.4 230.5h0"/><path stroke="#93c6df" d="M118.1 250.9h0M114.2 261.4h0M157.0 254.1h0M156.9 252.5h0M157.2 262.5h0M122.8 282.4h0M118.8 277.5h0M149.7 290.1h0M156.9 259.4h0M152.0 229.1h0M156.3 241.4h0M128.7 236.4h0M125.5 239.6h0M134.5 231.8h0M156.0 281.9h0M155.9 281.6h0M126.1 284.9h0M155.9 278.9h0M122.1 280.9h0M114.2 269.3h0M149.1 289.8h0M127.1 285.4h0M147.9 228.3h0M115.8 273.1h0M155.0 229.8h0M147.6 228.5h0M156.0 276.3h0M142.9 228.8h0M152.9 286.8h0M156.0 238.9h0M136.5 231.5h0M149.9 228.8h0M140.6 229.9h0M133.2 232.9h0M119.7 277.4h0M124.1 282.9h0M124.6 241.0h0M138.5 289.8h0M139.4 290.1h0M145.2 290.2h0M121.7 245.1h0M113.9 264.7h0M118.6 276.2h0"/><path stroke="#a1d1e5" d="M151.9 287.4h0M116.6 273.1h0M155.5 232.0h0M133.6 288.6h0M114.2 267.9h0M114.0 265.4h0M125.6 284.1h0M115.6 258.6h0M151.1 229.6h0M136.0 289.7h0M154.3 285.1h0M155.7 233.3h0M155.7 235.0h0M135.0 232.5h0M155.7 236.1h0M115.7 270.9h0M115.9 257.3h0M151.0 288.2h0M131.0 286.9h0M145.3 229.2h0M156.1 271.8h0M118.2 253.5h0M137.9 231.7h0M147.2 289.6h0M143.5 229.4h0M140.3 289.4h0M142.0 289.5h0M143.5 289.4h0M115.8 271.6h0M156.4 265.4h0M115.0 262.1h0M114.8 269.4h0M131.3 287.1h0M120.2 249.7h0M117.0 255.8h0M120.6 248.3h0M121.0 247.4h0M136.2 232.6h0M121.4 246.3h0M120.1 276.9h0M118.4 252.8h0M128.6 237.8h0M150.4 288.0h0M128.9 285.6h0M118.3 274.9h0M155.5 274.7h0M154.5 231.1h0M153.3 230.3h0M154.9 232.4h0M148.3 289.0h0M123.1 280.5h0M143.1 229.8h0M123.2 244.0h0M116.7 257.5h0M136.5 289.0h0M135.1 288.6h0M155.4 273.8h0M156.0 269.9h0M132.3 234.3h0M115.1 264.1h0M156.3 262.9h0M121.9 279.0h0M155.2 279.0h0M154.1 284.4h0M138.6 288.8h0M139.4 231.6h0M139.0 289.1h0M144.5 289.0h0M142.8 289.0h0M156.5 255.3h0M125.4 283.1h0M156.6 257.1h0M128.6 238.7h0M127.7 239.5h0M156.6 247.4h0M117.9 255.2h0M121.0 277.5h0M116.0 259.9h0M156.6 260.1h0M155.8 268.8h0M127.7 283.9h0M154.5 282.6h0M147.5 230.2h0M118.6 274.1h0M152.5 285.6h0M115.1 266.6h0M140.4 231.3h0M132.1 235.7h0M124.9 242.5h0M149.9 287.3h0M130.8 236.3h0M126.7 241.2h0M127.4 239.8h0M121.1 277.1h0M133.3 234.7h0M146.6 288.5h0M149.4 230.5h0M144.9 288.3h0M123.6 280.0h0M123.5 244.7h0M133.3 287.2h0M122.4 246.6h0"/><path stroke="#afdbea" d="M128.9 284.5h0M138.4 232.7h0M123.8 280.7h0M153.5 231.6h0M148.7 230.6h0M120.0 252.1h0M116.9 258.3h0M154.9 276.0h0M125.0 242.9h0M120.9 249.8h0M115.5 267.5h0M117.4 271.4h0M115.8 263.6h0M141.9 231.7h0M145.3 230.6h0M120.5 251.5h0M154.2 281.5h0M134.7 287.2h0M141.4 288.0h0M154.8 275.4h0M123.1 278.4h0M152.4 284.3h0M125.9 242.6h0M130.4 237.9h0M130.9 284.9h0M119.3 274.2h0M151.5 231.3h0M117.1 260.4h0M120.0 274.6h0M153.9 235.0h0M117.6 270.3h0M135.3 234.4h0M137.0 287.6h0M132.6 285.3h0M123.1 247.5h0M125.8 242.9h0M146.6 287.4h0M145.6 287.5h0M141.5 287.3h0M149.7 231.7h0M116.7 265.0h0M124.3 244.8h0M148.5 287.0h0M119.1 256.7h0M150.8 284.8h0M125.1 280.1h0M121.1 275.0h0M130.6 284.0h0M116.5 266.1h0M151.8 284.2h0M126.2 281.2h0M117.4 261.0h0M148.2 231.5h0M131.9 237.3h0M118.8 272.0h0M118.4 258.1h0M122.1 250.5h0M134.5 235.6h0M122.6 249.6h0M139.0 233.6h0M120.6 254.2h0M150.3 285.0h0M138.9 287.0h0M143.5 287.1h0M142.7 287.2h0M127.7 282.2h0M121.4 252.2h0M131.8 284.4h0M124.2 247.0h0M152.6 283.1h0M143.5 232.1h0M127.8 241.8h0M129.5 240.4h0M117.0 267.5h0M117.5 263.1h0M119.6 272.1h0M117.3 268.4h0M123.2 276.7h0M125.6 279.3h0M118.6 270.2h0M125.5 244.8h0M124.2 277.6h0M138.5 286.7h0M127.3 242.8h0M128.5 242.0h0M134.1 284.8h0M119.9 256.7h0M129.6 282.5h0M130.9 239.4h0M121.2 254.3h0M118.3 260.4h0M132.2 238.5h0M120.5 256.0h0M134.5 285.0h0M129.9 282.4h0M118.7 261.6h0M122.5 252.1h0M125.3 246.2h0M125.5 278.5h0M152.0 282.9h0M149.1 284.9h0M150.3 284.2h0M146.0 286.1h0M122.2 273.8h0M119.0 269.4h0M130.4 240.6h0M133.8 236.3h0M118.4 263.2h0M136.7 285.3h0M127.3 280.5h0M126.8 280.2h0M124.3 248.6h0M144.4 286.2h0M119.6 269.9h0M118.2 266.7h0M123.6 251.1h0M124.5 249.0h0M133.6 237.2h0M124.6 276.7h0M137.5 285.4h0M123.3 275.0h0M118.6 265.1h0M118.3 267.7h0M132.3 283.1h0M124.0 250.7h0M128.8 280.9h0M120.6 258.7h0M125.4 247.9h0M122.1 255.7h0M119.4 268.7h0M120.9 270.8h0M121.0 258.1h0M121.3 271.6h0M123.6 274.2h0M125.4 276.7h0M119.8 260.5h0M121.9 256.6h0M119.9 268.1h0M123.5 254.2h0M120.9 259.4h0M122.6 271.5h0M125.1 274.5h0M120.6 261.0h0M123.2 256.1h0M124.9 273.8h0M120.0 262.4h0M123.1 257.6h0M121.2 261.4h0M123.0 258.0h0M122.7 260.6h0M122.8 261.6h0M121.4 263.2h0M122.6 262.9h0M120.4 265.1h0M122.1 264.1h0M123.1 265.1h0M120.2 265.4h0M121.3 265.4h0M123.5 265.3h0M122.0 267.4h0M123.3 267.6h0M121.9 269.2h0M122.5 269.3h0M124.2 269.3h0M123.6 270.2h0M124.5 271.6h0M123.9 256.2h0M124.0 268.0h0M125.1 252.3h0M125.0 253.7h0M125.1 270.2h0M124.2 264.0h0M125.7 251.5h0M124.7 257.1h0M125.3 271.6h0M127.0 278.0h0M124.1 260.6h0M124.1 261.3h0M126.1 272.9h0M133.9 283.4h0M125.8 249.9h0M126.7 275.1h0M133.3 283.0h0M125.6 269.0h0M125.1 266.5h0M127.2 246.8h0M125.9 270.6h0M125.2 258.2h0M128.7 279.1h0M126.0 253.0h0M152.7 233.0h0M134.8 283.7h0M127.0 274.5h0M127.2 248.0h0M125.8 253.4h0M130.2 241.6h0M136.7 234.9h0M136.3 283.8h0M147.0 284.9h0M124.8 262.8h0M128.0 245.6h0M125.3 265.1h0M137.8 284.3h0M130.9 280.7h0M126.8 251.2h0M128.0 276.0h0M141.3 285.5h0M135.5 282.8h0M139.3 285.0h0M126.2 256.9h0M127.5 273.5h0M142.6 285.5h0M126.9 252.2h0M128.4 244.8h0M129.3 242.9h0M147.4 232.0h0M126.4 255.4h0M131.6 240.7h0M126.9 270.1h0M146.1 232.0h0M130.1 278.8h0M126.9 253.7h0M154.7 237.0h0M126.3 266.9h0M147.5 283.8h0M131.9 280.7h0M143.0 232.6h0M126.5 266.5h0M128.1 249.2h0M141.6 232.8h0M126.0 260.1h0M127.0 255.1h0M148.3 283.4h0M139.8 284.7h0M126.2 261.5h0M153.2 234.2h0M133.6 280.9h0M126.3 258.5h0M129.5 277.6h0M128.1 271.8h0M151.6 232.9h0M133.6 238.6h0M127.4 269.2h0M129.3 277.1h0M148.4 232.5h0M126.9 266.2h0M146.4 232.7h0M126.4 262.5h0M138.0 282.9h0M131.6 242.0h0M154.1 235.9h0M140.7 284.1h0M128.9 274.5h0M128.4 250.6h0M149.5 282.5h0M153.0 280.9h0M138.2 235.0h0M145.8 283.6h0M130.6 278.0h0M136.7 282.2h0M144.1 283.9h0M133.2 280.0h0M136.4 235.9h0M131.1 242.9h0M127.0 259.5h0M130.2 276.8h0M149.5 233.0h0M128.8 273.4h0M129.4 246.6h0M143.8 232.9h0M142.5 283.9h0M132.3 279.3h0M129.2 249.4h0M127.1 262.5h0M139.8 234.5h0M146.2 283.0h0M128.6 269.6h0M127.8 266.9h0M132.8 241.1h0M151.8 281.1h0M127.9 256.4h0M129.3 248.3h0M148.9 282.1h0M127.7 264.2h0M136.0 281.1h0M129.9 246.5h0M147.0 282.3h0M128.8 271.1h0M135.6 280.5h0M153.4 279.6h0M145.1 233.3h0M153.2 235.5h0M150.4 234.0h0M131.1 244.4h0M128.1 258.7h0M129.7 271.8h0M140.9 283.1h0M135.4 237.8h0M132.3 278.7h0M131.7 244.0h0M129.0 254.1h0M128.6 257.2h0M129.9 249.2h0M150.9 234.4h0M140.7 234.8h0M134.5 279.7h0M130.7 275.0h0M128.1 261.0h0M131.6 244.4h0M131.3 276.8h0M137.4 280.8h0M149.4 281.1h0M154.2 277.5h0M129.4 253.1h0M130.1 272.1h0M128.9 255.9h0M138.2 236.5h0M143.8 282.6h0M128.3 259.1h0M136.2 279.9h0M129.2 267.0h0M155.7 240.8h0M140.1 281.9h0"/><path stroke="#bde2ee" d="M154.9 271.9h0M148.7 280.9h0M153.6 277.8h0M128.4 262.4h0M133.9 241.7h0M136.4 238.0h0M129.1 265.5h0M152.0 279.7h0M148.7 234.5h0M151.5 235.4h0M144.6 234.7h0M131.1 274.1h0M145.2 234.3h0M154.5 239.2h0M155.8 253.7h0M134.6 241.1h0M155.8 252.8h0M156.1 258.4h0M130.3 250.9h0M156.1 261.2h0M145.4 281.3h0M155.6 267.7h0M155.8 250.5h0M131.1 248.4h0M156.0 249.1h0M141.9 282.2h0M135.5 239.5h0M153.3 277.0h0M131.7 246.4h0M142.8 234.8h0M154.8 270.2h0M128.8 261.1h0M140.5 236.2h0M133.5 277.4h0M139.7 236.5h0M129.5 264.8h0"/><path stroke="#cae8f2" d="M147.5 280.7h0M153.3 238.1h0M154.1 273.7h0M135.3 278.3h0M130.7 269.0h0M151.9 278.4h0M142.6 235.6h0M136.1 239.3h0M155.6 243.0h0M146.4 235.0h0M129.6 260.0h0M139.7 280.6h0M130.8 252.2h0M133.9 243.0h0M155.7 264.6h0M130.3 267.8h0M149.7 279.4h0M130.4 255.5h0M153.3 274.5h0M131.1 270.0h0M155.0 267.0h0M130.2 258.9h0"/><path stroke="#d8eff6" d="M155.4 245.2h0M130.5 256.5h0M131.2 253.6h0M139.3 237.0h0M154.7 240.5h0M136.1 239.8h0M155.7 245.9h0M134.0 277.0h0M148.4 279.7h0M140.7 280.5h0M154.5 268.5h0M131.5 251.3h0M129.8 260.6h0M153.5 238.9h0M130.4 265.5h0M131.4 251.9h0M132.5 274.6h0M147.0 235.4h0M133.1 275.5h0M132.8 245.6h0M132.2 271.8h0M138.9 279.6h0"/><path stroke="#e3f4f2" d="M136.5 278.0h0M143.7 280.4h0M138.5 237.9h0M132.3 273.3h0M155.1 263.3h0M142.7 280.7h0M132.6 247.7h0M132.1 271.1h0M138.3 279.1h0M145.2 280.1h0M130.6 263.4h0M154.9 255.7h0M131.4 254.5h0M146.6 279.7h0M134.7 276.6h0M154.9 244.4h0M130.4 261.2h0M134.6 243.7h0M148.6 236.1h0M154.7 265.4h0M155.2 247.5h0M150.1 236.3h0M143.8 235.8h0M154.3 264.9h0"/><path stroke="#ebf7e4" d="M149.8 278.2h0M132.7 249.2h0M131.1 263.9h0M152.3 273.5h0M151.5 276.7h0M154.4 260.0h0M154.5 258.0h0M153.6 268.1h0M131.4 265.1h0M141.6 279.5h0M154.5 243.6h0M152.6 272.1h0M143.3 279.7h0M154.4 252.6h0M141.9 279.6h0"/><path stroke="#f3fad5" d="M133.7 273.6h0M132.1 256.5h0M132.4 269.0h0M135.6 242.4h0M152.5 271.1h0M132.2 266.0h0M146.6 278.6h0M131.5 260.5h0M147.9 278.2h0M154.0 242.1h0M153.9 261.8h0M136.6 276.7h0M151.5 274.6h0M134.3 275.1h0M133.0 269.9h0M154.1 257.1h0M151.4 238.0h0M150.0 277.1h0M134.4 244.6h0M138.5 277.4h0M132.5 266.9h0M154.0 254.5h0M132.4 255.8h0M142.0 237.2h0M153.4 264.2h0M151.3 273.1h0M152.3 268.4h0"/><path stroke="#fbfdc6" d="M132.0 261.6h0M134.6 274.1h0M138.5 277.0h0M133.4 269.6h0M139.6 277.6h0M134.1 271.6h0M148.6 277.1h0M132.5 258.8h0M149.4 236.9h0M153.4 256.5h0M145.0 278.1h0M152.4 266.5h0M141.1 237.7h0M132.6 263.1h0M153.2 262.6h0M150.9 272.3h0M152.8 261.6h0M141.6 277.9h0M153.1 260.0h0M133.1 251.6h0M151.8 267.6h0M132.9 252.7h0M154.0 251.3h0M153.1 240.5h0M132.9 263.8h0M150.0 274.8h0M151.6 269.0h0M151.0 271.1h0M133.0 259.5h0M153.0 258.2h0M147.4 276.5h0M132.9 261.6h0M139.6 276.5h0M143.5 277.7h0M133.9 267.2h0M143.1 277.3h0M136.5 274.7h0M150.5 271.5h0M134.8 270.9h0M133.3 248.0h0M133.9 266.1h0M149.9 273.1h0M138.5 275.5h0M135.3 272.4h0M151.3 265.8h0M143.2 277.0h0M145.0 276.3h0M145.5 236.6h0M144.3 276.5h0M136.4 273.4h0M141.4 276.7h0M134.2 263.2h0M140.0 275.4h0M148.8 273.6h0M154.2 246.1h0M135.3 268.9h0M148.5 274.4h0M135.9 271.2h0M151.0 264.6h0M150.5 266.3h0M134.9 266.1h0M138.0 273.8h0M151.5 238.5h0M149.6 270.2h0M136.1 269.7h0M150.2 267.6h0M147.2 275.2h0M140.9 275.5h0M151.0 262.8h0M136.6 271.4h0M135.6 267.1h0M134.9 264.6h0M149.4 268.8h0M151.4 261.4h0M145.3 275.2h0M148.7 271.8h0M142.7 275.7h0M139.3 273.8h0M137.4 272.4h0M149.9 264.7h0M135.9 265.5h0M149.2 267.6h0M140.5 273.8h0M146.5 273.9h0M148.6 268.9h0M148.0 270.8h0M148.9 266.4h0M136.8 268.0h0M147.5 272.5h0M143.4 274.6h0M145.1 273.9h0M139.6 272.4h0M141.9 273.5h0M138.4 270.9h0M138.1 268.6h0M140.7 271.8h0M147.1 270.2h0M144.3 273.2h0M147.1 269.4h0M146.2 272.7h0"/><path stroke="#fffbb9" d="M138.9 269.1h0M141.1 269.6h0M142.8 269.3h0M144.5 269.3h0M145.1 269.0h0M138.8 269.9h0M140.9 269.9h0M142.7 270.0h0M143.4 269.8h0M145.4 270.7h0M142.3 271.4h0M143.7 272.1h0M146.7 268.1h0M138.2 267.3h0M139.3 268.0h0M144.3 267.9h0M140.6 267.9h0M142.8 267.8h0M137.4 266.7h0M145.9 267.2h0M147.5 265.8h0M136.7 265.1h0M148.8 264.7h0M135.3 263.4h0M150.0 263.4h0M144.9 265.8h0M140.5 265.9h0M139.3 265.6h0M154.0 249.6h0M146.7 264.3h0M143.5 265.3h0M138.6 264.6h0M135.2 262.2h0M151.9 260.0h0M142.0 265.4h0M136.3 263.1h0M147.6 263.3h0M139.4 264.6h0M142.3 264.9h0M149.7 262.0h0M137.4 263.2h0M148.4 262.5h0M133.8 246.4h0M133.5 257.6h0M144.9 264.2h0M141.6 264.3h0M136.1 261.6h0M135.9 242.4h0M149.0 261.5h0M143.5 264.0h0M145.8 263.2h0M134.0 258.4h0M133.3 255.1h0M153.7 252.3h0M134.5 259.0h0M138.1 261.8h0M133.7 254.3h0M135.0 259.5h0M152.7 255.8h0M153.5 243.3h0M152.8 254.2h0M151.0 259.1h0M152.8 241.7h0M143.6 263.2h0M152.0 256.8h0"/><path stroke="#fff3ad" d="M139.9 262.6h0M149.5 260.2h0M145.1 261.8h0M137.3 240.7h0M147.8 260.4h0M153.3 247.9h0M138.6 239.3h0M136.8 259.9h0M141.5 262.4h0M152.1 255.7h0M142.5 262.3h0M146.4 261.1h0M146.8 237.0h0M134.5 246.6h0"/><path stroke="#feeba1" d="M134.4 255.6h0M138.8 261.1h0M150.3 258.1h0M136.2 258.4h0M138.5 260.4h0M152.1 254.5h0M135.1 256.4h0M134.0 249.9h0M144.2 261.4h0M153.2 245.5h0M153.1 246.5h0M140.9 261.3h0"/><path stroke="#fee395" d="M148.2 237.4h0M147.5 259.7h0M142.3 261.5h0M134.6 248.4h0M139.1 259.9h0M152.6 251.0h0M136.1 257.2h0"/><path stroke="#fed889" d="M135.1 253.4h0M152.4 250.0h0M149.5 257.5h0M150.6 255.6h0M136.6 243.7h0M148.1 258.4h0M145.8 237.5h0M139.4 239.4h0M137.9 258.3h0M141.3 238.6h0M151.9 242.4h0"/><path stroke="#fecb7d" d="M136.1 255.0h0M147.0 258.7h0M144.9 259.7h0M136.1 254.7h0M151.9 249.6h0M142.4 259.9h0M142.0 238.4h0M148.0 257.5h0M140.1 258.8h0M151.2 240.6h0"/><path stroke="#fdbf71" d="M144.0 238.1h0M135.3 252.1h0M141.4 259.4h0M143.7 259.6h0M149.9 239.3h0M137.8 241.5h0M135.5 251.4h0M150.6 253.7h0M138.1 256.9h0M151.5 250.6h0M136.1 246.1h0M137.6 255.8h0M143.1 259.1h0M150.9 252.1h0"/><path stroke="#fdb265" d="M135.3 250.1h0M145.3 258.0h0M143.9 258.7h0M151.6 248.1h0M151.7 243.9h0M148.2 256.1h0M139.5 257.0h0M151.4 246.2h0M141.4 257.9h0M140.6 257.3h0M147.1 256.4h0"/><path stroke="#fba25c" d="M136.6 245.5h0M136.2 250.1h0M139.1 240.9h0M146.0 238.7h0M136.8 253.1h0"/><path stroke="#f99254" d="M148.3 239.3h0M150.9 245.2h0M147.5 239.0h0M142.6 256.8h0M149.0 253.6h0M136.4 251.1h0M143.5 256.8h0M149.6 240.5h0M145.0 256.5h0M150.1 251.3h0"/><path stroke="#f7814c" d="M139.8 255.5h0M136.5 248.6h0M150.4 247.5h0M140.5 255.7h0M149.6 252.0h0M146.4 255.1h0M150.7 244.4h0M150.5 246.2h0"/><path stroke="#f47045" d="M145.3 255.3h0M142.9 256.0h0M138.3 253.4h0M138.9 253.8h0M150.2 243.1h0M148.5 252.6h0"/><path stroke="#ee603d" d="M149.4 249.9h0M140.6 254.6h0M146.9 253.7h0M144.2 239.5h0M140.9 240.3h0M149.6 242.5h0M148.1 240.5h0M138.5 252.6h0M138.1 251.6h0M144.1 255.1h0M142.7 239.9h0"/><path stroke="#e75136" d="M144.9 254.5h0M149.0 241.8h0M138.5 243.9h0M137.5 247.4h0M146.7 253.1h0"/><path stroke="#df412f" d="M147.0 240.6h0M139.4 252.5h0M145.6 240.0h0M138.2 246.7h0M140.0 241.9h0M142.9 254.1h0M138.4 244.8h0M148.9 244.6h0M149.1 247.1h0M139.0 243.9h0M148.0 250.6h0M140.8 252.9h0M143.6 253.5h0M145.0 253.0h0M138.5 249.4h0"/><path stroke="#d83228" d="M148.4 248.4h0M144.4 240.3h0M144.3 252.4h0M148.0 249.0h0M147.5 241.9h0M146.6 250.8h0M139.0 249.7h0"/><path stroke="#cb2527" d="M148.0 243.9h0M139.0 247.9h0M138.9 246.9h0M142.8 251.9h0M139.9 250.6h0M140.7 250.9h0M145.4 250.9h0M142.2 241.9h0M141.4 242.6h0M147.4 247.4h0"/><path stroke="#bf1927" d="M143.1 251.5h0M146.7 249.6h0M139.9 244.8h0M147.4 246.6h0M140.8 243.6h0M145.6 250.1h0M147.0 245.1h0M144.2 242.1h0M145.5 242.5h0"/><path stroke="#b20c26" d="M146.6 243.9h0M143.8 250.7h0M140.4 246.0h0M142.4 243.1h0M141.1 249.0h0M140.9 245.6h0M141.1 248.3h0M143.6 249.8h0M144.0 243.0h0M142.7 249.4h0"/><path stroke="#a50026" d="M144.9 244.2h0M145.5 247.1h0M145.3 245.4h0M144.9 247.5h0M142.1 246.2h0M142.3 248.3h0M144.3 245.1h0M144.5 247.0h0M142.8 245.3h0M144.0 247.6h0"/></g>
<line x1="29.6" y1="285.94" x2="156.5" y2="253.85" stroke="#858585" stroke-width="1.6" stroke-dasharray="4.6 3.1"/>
<rect x="86.1" y="311.0" width="73" height="10.6" fill="#fbfdea"/>
<rect x="86.1" y="321.0" width="33.4" height="10.6" fill="#fbfdea"/>
<rect x="86.1" y="331.0" width="43" height="10.6" fill="#fbfdea"/>
<text x="87.7" y="318.6" font-size="9.6">y = 0.47x + 3.84</text>
<text x="87.7" y="328.6" font-size="9.6">r : 0.26</text>
<text x="87.7" y="338.5" font-size="9.6">p &lt; 0.001</text>
<rect x="24" y="204.5" width="141" height="1" fill="#bdbdbd"/>
<rect x="24" y="344.5" width="141" height="1" fill="#9a9a9a"/>
<rect x="164" y="204.5" width="1" height="141.0" fill="#9a9a9a"/>
<rect x="24" y="204.5" width="1" height="141.0" fill="#7a7a7a"/>
<rect x="22" y="343.7" width="2" height="1" fill="#333"/>
<text x="21.4" y="348.4" font-size="10" text-anchor="end">0</text>
<rect x="22" y="310.5" width="2" height="1" fill="#333"/>
<text x="21.4" y="315.2" font-size="10" text-anchor="end">2</text>
<rect x="22" y="277.3" width="2" height="1" fill="#333"/>
<text x="21.4" y="282.0" font-size="10" text-anchor="end">4</text>
<rect x="22" y="244.1" width="2" height="1" fill="#333"/>
<text x="21.4" y="248.8" font-size="10" text-anchor="end">6</text>
<rect x="22" y="210.9" width="2" height="1" fill="#333"/>
<text x="21.4" y="215.6" font-size="10" text-anchor="end">8</text>
<rect x="50.8" y="345.5" width="1" height="2" fill="#333"/>
<text x="51.3" y="355.0" font-size="10" text-anchor="middle">0</text>
<rect x="112.5" y="345.5" width="1" height="2" fill="#333"/>
<text x="113.0" y="355.0" font-size="10" text-anchor="middle">2</text>
<text x="94.0" y="367.5" font-size="12.4" text-anchor="middle">Electricity</text>
<text transform="translate(11.5,274.5) rotate(-90)" font-size="12.2" text-anchor="middle">Temp</text>
<text x="1.2" y="195.8" font-size="13.5">e</text>
<g fill="none" stroke-width="3.0" stroke-linecap="round"><path stroke="#3a52ad" d="M284.9 220.8h0M281.3 221.9h0M289.5 222.5h0M255.9 226.9h0M260.6 226.4h0M309.6 226.5h0M314.9 228.8h0M244.4 230.2h0M253.1 229.7h0M317.3 230.6h0M319.5 236.0h0M313.1 241.0h0M315.6 240.2h0M225.6 244.8h0M222.7 247.1h0M219.6 248.4h0M304.8 249.8h0M217.9 252.0h0M215.8 254.4h0M293.4 258.8h0M208.6 262.1h0M276.4 267.5h0M279.0 269.2h0M263.9 276.9h0M262.9 277.8h0M261.0 280.8h0M205.1 284.7h0M256.5 285.7h0M255.6 286.3h0M206.6 289.1h0M206.6 289.4h0M251.1 290.2h0M245.1 294.2h0M211.8 296.4h0M229.1 297.6h0M234.7 297.5h0M220.6 299.0h0M197.8 258.4h0M200.5 268.9h0M200.1 270.4h0M200.2 288.5h0M204.7 262.8h0M205.1 264.3h0M205.0 273.3h0M204.9 275.1h0M204.8 276.6h0M204.9 282.5h0M204.7 284.1h0M205.0 305.2h0M206.5 240.5h0M206.7 241.9h0M206.9 243.3h0M206.8 245.2h0M206.9 254.2h0M206.5 255.5h0M206.8 257.1h0M206.8 276.6h0M206.5 281.0h0M206.8 282.7h0M206.5 294.4h0M206.7 295.9h0M206.7 300.4h0M208.1 244.8h0M208.0 246.4h0M208.0 248.2h0M208.3 249.3h0M208.3 267.5h0M208.2 288.3h0M208.1 289.9h0M208.3 296.2h0M208.4 297.4h0M210.8 235.9h0M211.0 243.4h0M210.9 244.9h0M210.8 248.1h0M210.9 249.5h0M210.9 250.8h0M210.8 256.9h0M210.9 258.7h0M210.7 289.9h0M211.1 291.4h0M210.9 293.0h0M211.0 306.6h0M212.9 240.6h0M213.0 249.6h0M212.8 293.1h0M212.7 294.5h0M212.8 295.8h0M213.1 297.7h0M213.1 303.4h0M212.8 304.9h0M212.6 306.5h0M214.0 237.4h0M213.9 239.1h0M214.1 240.3h0M214.2 245.2h0M214.2 246.6h0M213.9 297.3h0M216.6 231.4h0M216.5 232.9h0M216.3 234.6h0M216.4 243.3h0M216.5 245.2h0M216.4 246.4h0M218.5 236.0h0M218.4 240.5h0M218.2 242.0h0M218.6 243.4h0M218.4 296.0h0M218.5 302.0h0M218.5 304.9h0M218.5 310.9h0M220.7 244.8h0M220.5 246.5h0M220.5 297.5h0M220.5 299.2h0M220.9 300.6h0M220.7 302.0h0M222.3 237.4h0M222.2 296.0h0M222.2 302.0h0M222.1 303.5h0M222.2 304.9h0M222.1 306.6h0M222.4 307.9h0M222.5 309.5h0M222.1 311.0h0M224.7 231.3h0M224.7 232.9h0M224.5 234.3h0M224.7 235.9h0M224.8 295.9h0M224.7 297.6h0M224.7 298.9h0M224.5 300.3h0M224.5 310.9h0M224.5 312.3h0M224.9 320.2h0M226.4 299.2h0M226.3 302.1h0M228.6 236.0h0M228.6 241.9h0M228.4 243.4h0M228.3 244.9h0M228.5 300.4h0M230.7 228.3h0M230.9 229.9h0M231.0 239.0h0M230.8 243.4h0M231.1 308.2h0M230.9 312.7h0M230.8 314.1h0M232.4 234.6h0M232.4 236.0h0M232.3 237.6h0M232.8 239.0h0M232.7 240.3h0M232.7 242.0h0M232.7 243.4h0M232.5 306.7h0M234.2 296.1h0M234.1 297.6h0M234.2 299.0h0M234.1 306.6h0M234.2 308.0h0M236.1 227.0h0M236.1 231.3h0M236.5 298.8h0M236.3 300.6h0M236.1 302.1h0M239.1 237.7h0M238.9 239.1h0M239.1 293.0h0M238.7 294.6h0M239.1 296.0h0M238.8 300.5h0M238.9 301.9h0M238.7 303.6h0M239.0 312.7h0M239.9 220.8h0M240.2 222.7h0M240.3 231.7h0M239.9 233.0h0M240.1 234.4h0M240.3 235.9h0M240.0 237.7h0M240.3 293.1h0M240.1 294.4h0M240.2 296.1h0M242.7 227.1h0M242.4 228.6h0M242.6 230.0h0M242.6 292.8h0M242.5 294.5h0M242.8 295.9h0M242.4 297.4h0M242.8 303.6h0M242.4 304.8h0M242.4 306.5h0M244.9 227.1h0M244.7 233.0h0M244.8 234.6h0M244.7 291.4h0M244.9 293.0h0M244.9 294.6h0M244.8 299.2h0M244.7 300.4h0M244.9 303.3h0M244.7 305.0h0M244.7 306.5h0M246.4 219.4h0M246.6 228.5h0M246.3 230.0h0M248.5 225.5h0M248.4 226.9h0M248.7 228.4h0M248.6 288.4h0M248.3 293.2h0M248.6 294.4h0M248.6 300.5h0M248.4 302.0h0M248.6 303.5h0M248.6 305.0h0M248.7 310.8h0M250.8 205.8h0M250.9 293.1h0M250.5 299.1h0M250.6 300.6h0M251.0 305.1h0M250.7 306.6h0M250.6 311.0h0M250.6 312.6h0M250.8 314.0h0M252.3 213.6h0M252.3 219.6h0M252.2 220.8h0M252.2 286.9h0M252.3 288.6h0M252.2 294.3h0M252.2 296.0h0M254.0 228.6h0M254.4 229.9h0M254.3 231.4h0M254.1 287.2h0M254.4 288.6h0M254.2 290.0h0M256.4 225.5h0M256.4 287.1h0M256.3 288.4h0M256.8 289.8h0M256.6 291.7h0M258.0 227.0h0M258.1 228.4h0M258.4 229.9h0M258.4 281.0h0M258.3 295.8h0M258.0 303.4h0M258.4 305.2h0M261.1 215.1h0M260.8 218.1h0M260.8 281.0h0M260.7 295.8h0M261.1 297.7h0M260.7 299.2h0M260.9 302.2h0M262.8 281.0h0M262.5 282.3h0M263.0 284.2h0M262.5 285.5h0M262.9 287.0h0M262.8 288.5h0M262.7 294.5h0M262.5 296.0h0M262.6 297.7h0M262.7 299.1h0M263.0 300.7h0M262.8 310.9h0M264.2 209.0h0M264.3 212.1h0M264.2 213.6h0M264.0 215.0h0M264.2 221.0h0M264.0 222.4h0M264.2 223.9h0M264.3 225.5h0M264.2 274.9h0M264.1 276.7h0M264.1 290.1h0M266.3 225.3h0M266.1 227.2h0M266.3 272.0h0M266.0 276.4h0M266.0 282.6h0M266.1 284.1h0M266.3 294.4h0M266.1 296.0h0M266.0 297.5h0M268.3 213.4h0M268.3 225.6h0M268.4 276.7h0M268.2 278.1h0M268.6 279.4h0M268.5 280.9h0M268.3 282.3h0M268.5 284.0h0M268.4 285.5h0M268.7 286.9h0M268.6 291.7h0M268.6 298.8h0M270.2 212.0h0M270.2 225.3h0M270.0 268.8h0M269.9 270.3h0M269.9 275.2h0M270.3 276.6h0M270.0 278.0h0M270.3 279.7h0M270.3 287.2h0M270.0 288.7h0M270.0 293.0h0M272.4 225.5h0M272.1 267.6h0M272.2 276.4h0M272.4 278.1h0M272.2 279.3h0M272.3 290.0h0M272.0 291.6h0M272.1 293.0h0M274.6 213.7h0M274.9 222.4h0M274.6 224.1h0M274.4 225.3h0M274.6 266.1h0M274.4 268.9h0M274.6 270.3h0M274.7 271.9h0M274.6 287.1h0M274.7 288.4h0M274.8 298.9h0M276.3 216.6h0M276.0 225.6h0M276.0 273.3h0M275.9 275.0h0M275.9 276.5h0M276.2 277.9h0M276.2 279.6h0M275.8 291.4h0M275.9 292.9h0M278.5 219.5h0M278.6 220.9h0M278.2 222.4h0M278.7 224.2h0M278.6 270.5h0M278.2 272.0h0M280.4 206.0h0M280.3 213.7h0M280.5 224.0h0M280.6 263.0h0M280.6 264.6h0M280.8 291.5h0M280.5 293.1h0M280.4 294.6h0M282.8 211.9h0M282.9 218.1h0M282.8 270.4h0M283.1 277.8h0M282.9 279.6h0M282.9 281.0h0M283.2 291.3h0M284.3 264.3h0M284.5 265.8h0M284.5 267.7h0M284.6 269.0h0M284.4 271.9h0M284.3 279.4h0M284.4 281.2h0M284.6 282.3h0M284.2 284.2h0M286.6 218.1h0M286.3 222.6h0M286.4 224.0h0M286.6 264.5h0M286.6 266.1h0M286.5 271.8h0M286.6 273.5h0M286.2 282.3h0M286.5 284.1h0M288.1 213.3h0M288.6 215.1h0M288.5 261.5h0M288.6 278.1h0M288.4 279.6h0M288.4 281.0h0M288.2 282.7h0M290.0 217.9h0M290.0 219.5h0M290.2 220.8h0M290.0 225.6h0M290.1 278.0h0M290.2 279.6h0M292.8 216.5h0M293.2 217.9h0M292.9 260.1h0M293.1 278.1h0M292.8 279.3h0M292.9 287.1h0M293.1 288.7h0M292.8 290.1h0M293.1 291.6h0M294.5 218.1h0M294.4 259.9h0M294.7 284.0h0M294.7 285.6h0M296.2 221.0h0M296.2 222.6h0M295.9 273.5h0M296.1 275.0h0M296.0 286.8h0M295.9 288.4h0M298.8 219.4h0M298.7 221.1h0M298.6 222.4h0M298.7 223.9h0M298.4 252.5h0M298.3 256.9h0M298.3 258.6h0M298.5 261.4h0M298.6 262.8h0M298.4 264.4h0M300.9 225.4h0M301.0 228.4h0M301.1 251.1h0M301.0 252.5h0M300.6 253.9h0M301.0 260.1h0M300.9 267.4h0M301.0 268.8h0M301.0 270.4h0M300.8 278.2h0M302.9 227.0h0M302.8 228.4h0M303.2 252.6h0M302.8 254.2h0M302.9 255.3h0M303.1 257.1h0M303.1 260.1h0M304.5 222.5h0M304.6 224.0h0M304.7 225.3h0M304.4 247.8h0M304.4 249.7h0M304.4 251.1h0M306.3 225.3h0M306.3 227.1h0M306.0 258.5h0M308.8 243.4h0M308.9 245.1h0M308.8 248.2h0M310.1 229.8h0M310.5 246.6h0M310.5 248.1h0M310.5 249.3h0M310.2 251.2h0M310.2 254.2h0M310.1 255.3h0M312.7 225.4h0M312.7 227.2h0M312.8 258.6h0M314.8 219.4h0M314.6 231.3h0M314.9 237.5h0M314.9 239.1h0M314.9 248.1h0M315.1 249.4h0M315.0 250.9h0M316.3 225.5h0M318.7 225.3h0M318.9 226.9h0M318.5 246.5h0M321.0 246.5h0M322.7 240.7h0M322.4 242.0h0M324.8 222.6h0M324.5 231.5h0M324.8 232.9h0M324.8 242.0h0M324.6 243.6h0M324.5 254.1h0M326.2 228.6h0M325.9 234.3h0M328.1 234.5h0M330.6 222.6h0M334.4 230.0h0M310.3 233.8h0M318.4 232.0h0M314.3 232.4h0M311.8 229.6h0M319.2 230.2h0M329.3 232.4h0M321.9 234.5h0M328.1 226.7h0M316.9 232.5h0M309.3 231.2h0M327.9 233.1h0M314.8 227.2h0M327.2 230.7h0M324.1 230.2h0M307.4 227.8h0M242.0 211.5h0M247.0 213.4h0M319.7 223.8h0M323.5 235.0h0M327.0 236.0h0M320.6 243.5h0M301.0 269.6h0M302.8 273.4h0M289.6 274.5h0M293.3 275.3h0M291.5 282.8h0M291.5 286.6h0M287.7 292.2h0M274.5 288.5h0M253.5 336.5h0M220.5 309.0h0M226.0 314.0h0M247.8 314.0h0M258.0 303.5h0M232.8 225.6h0M232.8 227.5h0M203.7 225.6h0M203.7 226.8h0M203.5 228.0h0M203.7 229.2h0M203.7 230.4h0M203.7 231.6h0M203.8 232.8h0M203.6 234.0h0M241.2 294.2h0M236.1 238.6h0M228.2 243.9h0M237.4 237.6h0M208.6 264.2h0M220.7 297.6h0M258.0 283.4h0M207.0 281.2h0M282.9 222.5h0M223.8 246.8h0M310.8 228.5h0M242.9 234.0h0M275.1 223.7h0M313.4 229.0h0M250.8 289.0h0M256.4 228.5h0M244.0 233.5h0M211.0 292.5h0M222.3 248.6h0M210.1 291.3h0M297.5 225.6h0M258.9 282.1h0M243.6 292.7h0M283.5 262.8h0M295.4 224.9h0M233.2 240.9h0M261.7 279.2h0M315.0 239.3h0M238.2 295.2h0M315.3 230.2h0"/><path stroke="#3e5eaf" d="M272.9 223.8h0M256.9 284.0h0M263.5 276.3h0M215.3 295.8h0M277.6 223.4h0M276.9 266.6h0M273.4 268.4h0M269.4 224.5h0M214.0 257.7h0M255.2 285.9h0M207.7 269.6h0M227.3 296.6h0M258.8 227.9h0M213.8 294.6h0M235.1 296.2h0M267.1 224.9h0M228.4 244.6h0M265.4 225.7h0M211.6 260.9h0M286.7 223.1h0M307.7 228.7h0M311.4 241.0h0M313.1 229.4h0M279.8 223.5h0M292.0 224.5h0M208.1 283.0h0M229.5 244.0h0M240.4 236.3h0M241.8 235.4h0M211.8 260.4h0M232.7 241.8h0M281.4 263.5h0M276.7 224.2h0M252.6 287.5h0M241.8 292.7h0M209.1 288.3h0M222.9 248.9h0M218.0 296.4h0M265.4 273.5h0M316.5 238.0h0M273.3 268.0h0M279.7 264.6h0M207.7 272.9h0M248.3 232.6h0M267.2 271.8h0"/><path stroke="#426ab2" d="M311.4 229.5h0M257.4 282.6h0M207.5 274.8h0M264.1 226.7h0M261.5 227.3h0M240.5 293.0h0M287.1 223.4h0M224.9 247.7h0M213.5 258.8h0M317.0 236.0h0M213.2 292.9h0M259.9 279.6h0M260.3 228.2h0M268.1 271.0h0M211.2 262.7h0M287.7 259.7h0M244.7 291.0h0M284.3 223.5h0M292.1 256.6h0M211.8 291.9h0M271.7 225.1h0M208.1 279.3h0M272.1 268.4h0M218.3 253.9h0M308.3 243.6h0M256.9 229.6h0M244.6 234.3h0M261.4 277.4h0M283.9 261.7h0M226.0 247.2h0M263.6 227.2h0M260.9 228.0h0M238.4 238.6h0M208.7 267.7h0M300.3 227.6h0M295.0 225.9h0M216.6 295.5h0M209.1 285.7h0M268.4 225.6h0M235.6 295.0h0M281.6 224.0h0M281.8 262.3h0M273.5 225.2h0M219.4 295.8h0M228.6 295.4h0M252.6 231.3h0M208.1 275.9h0M306.2 245.9h0M255.6 284.2h0M209.4 287.3h0M292.4 225.3h0M303.2 248.9h0M214.9 257.8h0M315.6 231.8h0M253.8 285.6h0M254.1 231.0h0M251.5 232.1h0M248.9 232.9h0M221.9 250.8h0M258.0 281.0h0M264.1 273.9h0"/><path stroke="#4676b5" d="M300.4 250.5h0M278.2 264.4h0M288.5 224.4h0M268.6 270.0h0M249.7 288.2h0M241.0 291.9h0M235.6 240.8h0M270.8 268.5h0M302.0 249.6h0M292.7 255.5h0M306.5 245.0h0M272.4 267.4h0M233.4 295.0h0M213.0 291.8h0M258.9 279.5h0M288.7 258.2h0M224.6 295.7h0M210.9 289.8h0M210.2 287.9h0M223.8 249.6h0M238.7 292.9h0M208.5 277.4h0M221.9 295.7h0M247.5 234.1h0M221.5 295.6h0M280.1 262.8h0M228.6 294.9h0M305.0 246.6h0M210.0 265.5h0M208.3 275.7h0M232.6 243.5h0M303.4 229.2h0M263.3 273.9h0M303.3 248.1h0M243.6 235.8h0M269.5 268.8h0M208.9 269.4h0M312.5 238.8h0M301.4 228.4h0M209.6 284.1h0M315.3 233.5h0M263.0 274.6h0M275.4 265.5h0M281.3 261.9h0M300.7 249.9h0M297.4 227.4h0M245.7 289.5h0M256.0 282.3h0M275.4 225.4h0M247.4 288.7h0M249.6 287.4h0M229.1 245.9h0M240.2 238.6h0M210.3 265.1h0M314.2 237.9h0M234.4 294.7h0M307.6 230.0h0M209.1 270.9h0M285.4 224.3h0M309.8 230.3h0M263.3 228.1h0M298.9 228.1h0M293.6 226.7h0M211.4 289.8h0M313.9 231.6h0M294.0 254.2h0M254.3 284.1h0M276.3 225.3h0M223.4 250.6h0M268.0 226.6h0M218.3 255.3h0M221.0 253.1h0M219.4 254.7h0M229.9 245.7h0M231.7 244.4h0M242.3 237.1h0M297.1 252.2h0M290.1 256.5h0M291.4 226.1h0M251.0 233.2h0M315.7 234.7h0M265.1 272.2h0M225.0 295.0h0M260.4 277.1h0M300.3 228.6h0M236.6 293.3h0M245.0 235.7h0M289.7 225.5h0M241.4 290.9h0M226.6 247.9h0M213.9 260.4h0M209.0 273.2h0M281.9 225.0h0M266.4 270.4h0M287.4 258.1h0M223.1 295.0h0M230.5 294.5h0M214.4 292.4h0M219.5 295.0h0M315.6 236.2h0M252.7 285.5h0M214.7 260.2h0M209.6 280.9h0M265.6 227.5h0M243.6 290.0h0M298.0 227.8h0M246.5 234.8h0M208.9 275.9h0M296.0 227.4h0M210.2 283.9h0M216.6 294.1h0M237.9 292.5h0M296.4 252.0h0M294.2 226.9h0"/><path stroke="#5285bc" d="M241.9 290.6h0M270.8 226.4h0M217.0 257.3h0M235.0 242.5h0M212.5 262.9h0M273.6 266.0h0M269.9 268.1h0M288.7 225.6h0M292.4 254.6h0M291.9 226.6h0M308.6 241.9h0M213.8 261.0h0M210.5 286.4h0M238.0 240.4h0M285.7 258.8h0M271.5 226.7h0M309.1 241.7h0M276.1 264.7h0M209.6 279.6h0M256.5 281.2h0M309.6 241.1h0M304.9 245.4h0M280.6 225.7h0M291.6 254.8h0M298.6 250.7h0M284.4 259.7h0M259.6 277.7h0M211.9 264.2h0M218.0 294.7h0M239.7 291.3h0M209.3 271.9h0M209.8 281.9h0M255.2 231.8h0M252.6 233.0h0M259.0 230.4h0M224.3 294.5h0M269.7 268.0h0M210.0 281.6h0M231.5 294.1h0M278.0 225.8h0M234.9 293.3h0M224.8 249.9h0M275.4 264.7h0M216.9 258.1h0M222.4 252.7h0M221.3 253.4h0M277.8 263.2h0M314.4 233.6h0M248.4 287.2h0M235.1 243.0h0M310.9 231.3h0M306.5 230.5h0M312.8 231.8h0M297.9 250.6h0M286.6 225.3h0M284.2 225.4h0M279.5 225.8h0M244.1 237.0h0M210.2 280.1h0M226.4 294.2h0M258.7 231.1h0M314.5 236.5h0M304.1 229.9h0M236.0 242.5h0M260.0 230.4h0M228.0 248.2h0M237.7 241.4h0M239.0 240.4h0M229.7 246.9h0M293.9 252.9h0M246.2 287.9h0M288.3 256.6h0M302.9 247.0h0M298.4 249.9h0M264.2 229.0h0M276.8 226.7h0M217.9 257.5h0M219.6 255.9h0M210.7 267.8h0M217.1 293.3h0M301.3 229.6h0M241.3 239.2h0M211.1 284.9h0M246.5 235.9h0M251.6 285.0h0M282.5 260.0h0M210.1 278.4h0M314.4 235.2h0M269.6 227.6h0M261.0 275.2h0M260.5 275.6h0M256.9 231.9h0M267.2 268.8h0M266.0 228.7h0M254.6 232.8h0M261.2 230.6h0M291.9 254.2h0M215.1 291.4h0M210.6 270.3h0M211.8 265.5h0M214.1 290.4h0M255.8 232.7h0M251.1 234.3h0M262.5 229.9h0M286.1 225.8h0M250.2 285.3h0M290.4 227.1h0M210.1 274.9h0M275.9 263.6h0M235.6 243.4h0M213.4 263.5h0M300.3 248.3h0M267.8 228.1h0M220.8 294.1h0M302.1 247.7h0M217.7 293.3h0M226.7 293.5h0M250.2 235.1h0M233.5 293.0h0M227.0 249.4h0M249.0 235.6h0M215.3 261.2h0M243.3 288.4h0M212.9 264.5h0M274.1 264.3h0M273.5 227.6h0M240.8 240.0h0M244.4 288.2h0M212.4 288.7h0M269.7 228.1h0M278.1 226.9h0M246.5 287.1h0M214.4 262.5h0M216.1 260.4h0M210.8 269.0h0M257.8 277.9h0M251.9 284.2h0M270.2 228.2h0M211.6 284.3h0M231.7 293.1h0M224.3 252.0h0M213.0 289.2h0M221.9 254.3h0M221.0 255.7h0M220.1 256.7h0M257.0 232.4h0M237.2 291.4h0M275.2 227.6h0M243.6 238.7h0M272.2 265.5h0M278.9 226.9h0M308.3 231.3h0M283.2 226.5h0M245.9 237.2h0M253.6 282.5h0M256.7 279.3h0M255.8 280.0h0M284.5 258.6h0M254.9 281.2h0M212.2 286.7h0M237.2 243.2h0M295.8 228.5h0M309.9 231.9h0M241.7 240.1h0M232.2 246.7h0M233.4 245.3h0M279.1 261.5h0M260.5 231.3h0M234.3 245.0h0M226.0 251.0h0M220.5 256.5h0M218.5 258.4h0M288.7 255.9h0M250.5 235.4h0M248.0 236.3h0M236.6 291.7h0M240.5 289.5h0M250.5 284.3h0M290.2 255.1h0M266.0 229.4h0M285.6 226.4h0M211.8 284.9h0M211.7 269.6h0M230.6 247.9h0M262.5 231.0h0M265.2 229.9h0M223.9 293.6h0M212.2 267.3h0M252.4 283.1h0M281.6 227.0h0M252.5 234.9h0M261.4 231.5h0M245.5 238.1h0M228.5 249.7h0M239.4 242.2h0M222.7 255.1h0M235.9 244.4h0M266.8 229.5h0M231.2 248.0h0M259.7 232.7h0M214.5 264.0h0M227.7 250.7h0M313.0 233.3h0M254.3 234.3h0M233.5 246.4h0M211.0 272.1h0M223.8 254.1h0M216.1 262.0h0M243.4 240.1h0M229.7 249.6h0M252.8 235.4h0M268.7 229.5h0M226.0 252.7h0M241.9 288.5h0M245.6 239.2h0M240.9 242.2h0M247.6 238.0h0M234.9 246.0h0M224.9 253.7h0M244.9 286.8h0M274.3 228.5h0M246.1 239.2h0M271.9 228.9h0M240.2 243.0h0M247.7 238.6h0M238.7 244.0h0M238.8 290.2h0M259.1 233.4h0M255.7 234.8h0M258.0 234.1h0M253.6 235.8h0M252.0 236.9h0M246.0 240.2h0M224.0 255.0h0M250.1 237.9h0M231.4 249.1h0M272.8 228.8h0M226.4 252.9h0M262.0 232.6h0M237.8 245.2h0M245.4 240.3h0M248.6 285.2h0M219.3 258.9h0M277.8 227.9h0M214.1 266.1h0M242.6 242.5h0M221.9 256.8h0M250.9 238.1h0M229.1 251.3h0M216.2 263.2h0M287.3 256.7h0M257.6 235.0h0M233.1 248.4h0M227.9 252.7h0M253.5 237.1h0M234.1 247.8h0M243.8 241.8h0M224.9 255.1h0M249.4 238.9h0M240.7 289.0h0M229.4 292.7h0M221.5 257.9h0M218.6 260.3h0M217.5 261.6h0M304.7 230.5h0M234.9 291.6h0M239.3 244.9h0M244.5 241.9h0M294.8 228.3h0M313.0 234.0h0M271.0 265.7h0M228.8 292.5h0M213.4 268.0h0M257.1 278.3h0M264.9 232.1h0M286.6 227.0h0M266.6 231.6h0M275.9 229.0h0M221.4 293.5h0M220.0 259.6h0M255.6 236.6h0M230.0 251.4h0M236.5 246.8h0M216.2 263.9h0M268.4 231.2h0M270.4 230.4h0M219.5 293.4h0M247.7 240.5h0M237.6 246.7h0M239.9 244.8h0M242.6 243.6h0M210.3 275.9h0M226.4 254.3h0M215.2 266.2h0M280.9 227.9h0M263.4 232.9h0M254.2 280.8h0M252.1 238.4h0M214.5 288.3h0M213.7 285.9h0M232.9 249.3h0M233.4 291.5h0M212.0 281.9h0M262.9 271.9h0M211.4 280.6h0M212.1 271.7h0M246.0 285.6h0M277.8 261.6h0M213.8 286.8h0M261.8 272.8h0M279.5 228.6h0M245.1 285.9h0M284.2 227.4h0M222.6 258.2h0M249.4 283.6h0M236.6 290.3h0M299.6 248.6h0M282.5 259.1h0M237.7 289.9h0M263.9 233.1h0M210.9 273.8h0M288.5 227.6h0M260.2 234.8h0M302.5 246.4h0M272.5 230.4h0M212.6 270.8h0M229.7 291.8h0M226.6 255.1h0M215.3 290.2h0M213.9 268.5h0M282.5 228.2h0M258.5 276.4h0M267.2 268.0h0M225.8 292.4h0M286.2 256.9h0M231.7 291.7h0M310.4 233.2h0M228.0 254.0h0M242.3 286.8h0M246.9 284.6h0M267.4 232.0h0M277.1 229.6h0M292.8 228.5h0M214.6 268.1h0M276.7 261.9h0M257.4 236.3h0M211.7 273.6h0M228.0 291.9h0M274.5 263.0h0M229.7 253.0h0M305.5 230.9h0M252.9 280.8h0M256.6 237.0h0M297.5 249.7h0M274.0 230.6h0M242.9 286.4h0M251.6 239.6h0M247.7 284.2h0M300.3 230.0h0M231.4 251.4h0M224.1 257.6h0M211.7 278.9h0M251.0 281.8h0M309.8 233.2h0M293.3 252.0h0M257.9 236.3h0M221.2 259.8h0M214.6 286.7h0M236.1 248.6h0M265.6 268.9h0M304.1 244.9h0M217.1 291.7h0M280.5 259.5h0M256.1 278.4h0M272.2 264.2h0M247.1 241.8h0M254.9 237.9h0M254.2 238.6h0M313.1 236.4h0M261.7 235.1h0M296.8 229.4h0M250.1 240.4h0M290.9 228.6h0M218.4 262.7h0M213.6 283.6h0M238.0 247.5h0"/><path stroke="#5e93c4" d="M216.5 265.6h0M219.0 262.0h0M299.3 229.8h0M233.8 250.1h0M295.6 250.4h0M308.3 232.6h0M243.8 243.8h0M241.5 245.6h0M213.0 282.0h0M268.8 265.7h0M275.3 230.7h0M283.3 228.4h0M222.5 292.4h0M279.3 229.5h0M270.2 231.8h0M243.1 286.0h0M233.6 250.5h0M250.7 240.5h0M296.0 229.4h0M296.1 250.2h0M305.9 231.6h0M234.9 289.8h0M289.7 228.6h0M240.8 246.0h0M216.0 289.1h0M263.9 269.8h0M264.4 269.4h0M212.9 281.6h0M261.4 272.3h0M286.5 256.0h0M253.4 280.1h0M259.8 273.8h0M265.6 233.3h0M239.3 246.8h0M217.7 264.3h0M230.2 253.7h0M289.7 253.8h0M285.0 228.3h0M261.7 235.5h0M213.8 270.3h0M279.7 259.7h0M303.6 231.1h0M305.9 243.2h0M288.1 228.3h0M234.0 250.6h0M217.0 290.5h0M240.3 286.9h0M249.7 282.2h0M213.1 272.7h0M243.9 244.7h0M226.7 256.7h0M273.4 231.7h0M222.8 291.8h0M221.0 261.2h0M247.7 242.3h0M273.7 262.7h0M238.4 287.9h0M262.8 234.8h0M231.1 252.8h0M244.8 243.9h0M270.7 264.2h0M259.9 236.4h0M268.1 233.2h0M277.3 230.5h0M212.0 275.0h0M233.1 290.2h0M258.0 275.6h0M256.7 276.9h0M225.6 257.4h0M225.2 291.6h0M215.7 268.4h0M246.0 243.6h0M267.7 266.2h0M292.0 252.1h0M302.1 231.0h0M258.0 237.6h0M225.1 258.0h0M244.6 284.5h0M272.6 232.2h0M211.9 277.0h0M214.4 270.4h0M271.9 263.2h0M280.7 258.7h0M237.8 287.8h0M222.0 260.7h0M218.5 291.7h0M227.2 291.1h0M252.1 240.5h0M215.1 284.8h0M311.9 237.0h0M278.3 259.6h0M311.3 235.4h0M249.8 241.3h0M212.5 278.4h0M301.0 231.1h0M228.9 255.2h0M275.2 231.6h0M294.1 250.7h0M288.5 254.2h0M287.3 228.8h0M307.9 241.1h0M305.8 242.6h0M285.8 255.5h0M248.3 282.1h0M299.9 246.3h0M263.1 270.0h0M216.6 267.7h0M263.9 234.9h0M255.3 238.8h0M274.6 261.6h0M219.5 262.9h0M236.3 288.6h0M251.2 280.5h0"/><path stroke="#6aa2cb" d="M249.9 280.8h0M240.9 285.9h0M230.4 290.2h0M310.6 234.9h0M305.0 243.0h0M219.5 291.4h0M239.6 248.0h0M241.9 246.4h0M311.5 237.4h0M212.9 274.1h0M268.4 264.6h0M224.5 258.9h0M301.8 244.8h0M289.7 229.4h0M283.7 256.6h0M282.7 257.0h0M251.7 279.9h0M307.0 233.0h0M267.0 234.1h0M213.5 279.8h0M231.7 253.6h0M219.2 264.0h0M246.0 283.0h0M292.4 251.0h0M227.0 290.3h0M259.6 237.5h0M291.9 230.0h0M303.8 243.6h0M269.2 233.6h0M280.5 230.5h0M270.8 233.1h0M273.2 232.5h0M236.6 250.1h0M294.0 249.8h0M297.1 248.2h0M258.4 273.8h0M257.7 274.8h0M265.3 267.1h0M223.6 291.0h0M231.7 289.7h0M287.7 229.4h0M294.7 230.6h0M310.1 234.9h0M283.1 229.9h0M238.6 287.1h0M216.6 286.8h0M310.4 238.4h0M226.1 290.4h0M253.6 278.6h0M304.9 242.3h0M289.7 252.5h0M265.7 234.9h0M235.5 251.2h0M291.1 251.3h0M262.6 236.6h0M240.5 248.0h0M274.0 261.0h0M255.0 276.9h0M280.4 257.3h0M272.4 233.2h0M236.9 287.3h0M279.6 258.0h0M263.6 268.6h0M215.0 271.5h0M292.4 230.3h0M241.6 285.2h0"/><path stroke="#77afd2" d="M221.3 291.1h0M304.3 232.4h0M284.5 230.1h0M218.2 289.7h0M295.5 231.0h0M276.7 232.1h0M298.5 246.5h0M295.6 248.4h0M233.2 253.1h0M215.4 283.7h0M276.6 259.5h0M245.2 245.5h0M304.1 232.4h0M251.9 279.2h0M285.5 229.9h0M247.7 281.6h0M242.8 284.1h0M222.5 261.6h0M288.0 229.8h0M232.4 253.4h0M262.0 237.2h0M274.6 260.7h0M252.5 241.7h0M284.1 255.7h0M270.6 262.3h0M245.8 244.8h0M243.7 246.7h0M218.6 265.9h0M213.4 277.8h0M297.5 231.3h0M228.7 289.4h0M213.6 274.8h0M216.4 285.7h0M224.0 260.5h0M252.3 278.3h0M258.9 272.4h0M259.9 271.5h0M261.4 270.0h0M262.2 269.5h0M265.9 265.4h0M235.0 287.9h0M239.2 285.8h0M215.2 281.6h0M232.9 288.3h0M237.8 250.0h0M299.6 232.1h0M266.9 264.3h0M307.0 240.6h0M236.2 287.7h0M241.4 284.4h0M220.1 290.7h0M278.6 258.1h0M249.8 242.9h0M215.3 282.3h0M217.1 269.0h0M238.8 249.6h0M287.2 253.5h0M268.9 263.0h0M224.3 289.9h0M288.3 252.6h0M309.6 238.6h0M229.9 256.1h0M247.7 244.7h0M301.5 232.4h0M217.9 267.5h0M269.1 234.7h0M278.5 231.8h0M271.0 234.1h0"/><path stroke="#85bbd8" d="M257.6 239.4h0M254.3 241.0h0M248.6 243.9h0M216.4 284.3h0M251.4 242.3h0M249.8 279.7h0M279.1 257.4h0M279.0 232.0h0M280.9 231.3h0M264.1 266.8h0M220.9 263.3h0M309.8 237.0h0M226.4 259.1h0M237.2 250.8h0M241.9 247.9h0M244.5 282.6h0M308.1 234.9h0M223.4 261.3h0M228.5 257.6h0M226.0 259.4h0M243.4 283.0h0M299.9 232.7h0M247.1 281.1h0M264.3 236.6h0M255.1 241.1h0M262.5 237.5h0M305.4 241.1h0M293.3 249.2h0M272.1 261.2h0M218.2 287.6h0M214.0 276.9h0M222.1 289.8h0M214.8 280.0h0M218.3 288.4h0M267.1 235.6h0M229.9 288.7h0M300.0 244.5h0M308.9 235.8h0M276.3 233.2h0M298.4 232.5h0M259.5 270.9h0M263.7 267.1h0M265.6 264.9h0M241.0 284.1h0M245.6 281.4h0M251.5 243.0h0M284.8 254.1h0M297.9 232.4h0M260.1 238.8h0M273.4 259.9h0M228.8 288.3h0M217.3 269.6h0M231.3 288.2h0M215.3 273.2h0M282.9 254.9h0"/><path stroke="#93c6df" d="M231.1 256.1h0M286.0 230.9h0M308.1 235.3h0M287.4 231.1h0M259.1 239.5h0M266.3 236.0h0M275.6 233.3h0M223.0 262.6h0M293.8 232.0h0M303.8 241.7h0M264.5 237.2h0M234.9 253.0h0M306.1 234.4h0M216.0 272.3h0M253.4 276.6h0M289.8 231.3h0M307.5 239.2h0M217.6 285.0h0M221.0 264.5h0M292.8 231.8h0M268.4 235.5h0M255.2 274.8h0M229.3 257.5h0M284.5 254.1h0M257.0 273.0h0M257.6 272.3h0M271.9 260.3h0M220.6 289.7h0M272.6 234.5h0M263.9 266.2h0M301.5 243.2h0M297.0 246.1h0M268.9 262.1h0M236.2 252.3h0M217.0 271.1h0M234.0 253.9h0M229.0 258.0h0M226.5 259.9h0M220.1 266.0h0M246.1 246.7h0M243.3 248.1h0M237.6 285.3h0M250.8 277.8h0M242.0 282.8h0M305.3 234.5h0M268.0 262.7h0M292.0 231.8h0M276.3 258.2h0M230.9 256.7h0M299.2 244.6h0M234.2 286.9h0M275.3 258.5h0M214.9 278.0h0M215.0 274.9h0M290.0 250.6h0M282.8 232.1h0M245.6 247.1h0M293.9 248.2h0M223.2 288.9h0M256.8 241.1h0M255.1 242.1h0M254.0 242.6h0M254.4 274.9h0M306.0 239.7h0M232.9 286.9h0M216.2 279.9h0M244.1 281.5h0M252.1 276.8h0"/><path stroke="#a1d1e5" d="M301.4 242.6h0M283.9 231.9h0M220.6 266.1h0M241.0 249.8h0M219.0 268.6h0M299.9 243.4h0M221.4 289.1h0M224.7 288.3h0M303.4 241.0h0M261.0 239.3h0M239.5 251.2h0M308.1 237.6h0M226.9 287.9h0M295.5 232.9h0M233.2 255.3h0M301.4 233.9h0M217.0 282.1h0M278.6 233.5h0M272.9 234.8h0M270.0 261.0h0M245.3 247.5h0M282.6 254.4h0M288.4 231.9h0M307.1 235.9h0M225.1 262.1h0M247.8 278.9h0M231.6 287.2h0M277.4 256.9h0M287.1 252.0h0M280.9 233.2h0M255.4 273.5h0M253.1 243.6h0M292.0 249.1h0M259.5 269.3h0M224.2 263.0h0M249.6 277.9h0M218.3 269.9h0M293.6 247.9h0M275.5 234.5h0M225.4 288.2h0M263.5 265.4h0M259.7 240.5h0M293.6 232.8h0M220.1 288.1h0M304.8 239.4h0M215.4 276.3h0M265.8 237.6h0M217.8 283.6h0M253.6 243.7h0M230.5 257.9h0M270.5 235.8h0M235.7 285.6h0M279.9 233.5h0M242.2 250.1h0M220.6 266.8h0M299.1 234.0h0M216.8 273.1h0M296.0 245.9h0M237.9 252.5h0M220.1 268.1h0M253.1 275.6h0M238.8 283.6h0M282.7 233.1h0M258.8 240.8h0M217.2 280.4h0M289.9 249.8h0M219.8 287.6h0M295.1 233.6h0M303.7 234.8h0M250.1 245.6h0M277.1 257.2h0M240.0 251.3h0M247.4 247.1h0M247.0 279.1h0M267.9 237.0h0M258.6 270.1h0M238.6 252.4h0M223.1 264.4h0M233.2 286.1h0M297.2 233.9h0M234.4 285.4h0M301.0 241.9h0M224.9 287.3h0M256.6 242.3h0M241.9 250.6h0M216.1 276.7h0M234.8 255.2h0M261.6 266.9h0M227.6 261.2h0M252.6 244.5h0M268.5 237.1h0M261.8 240.2h0M230.1 286.6h0M243.2 250.2h0M277.7 234.5h0M218.1 282.0h0M227.0 287.2h0M223.9 264.2h0M240.1 282.3h0M229.1 259.9h0M217.7 280.6h0M284.6 233.1h0M305.1 236.2h0M280.1 234.2h0M236.2 254.3h0M223.5 287.3h0M233.7 256.5h0M226.1 262.7h0M217.4 273.4h0M251.1 245.6h0M303.3 235.4h0M289.6 232.9h0M263.6 239.4h0M216.3 275.5h0M222.8 287.4h0M228.5 286.4h0M266.4 262.5h0M305.8 237.2h0M217.7 279.9h0M218.4 272.2h0M264.3 264.0h0M299.5 242.9h0M271.0 260.0h0M219.8 286.0h0"/><path stroke="#afdbea" d="M216.9 278.4h0M236.5 283.9h0M299.9 235.1h0M231.5 258.3h0M287.6 233.2h0M246.5 248.5h0M305.3 237.0h0M254.4 273.3h0M246.8 278.4h0M228.4 261.0h0M237.5 254.0h0M280.7 255.2h0M294.8 246.4h0M239.8 252.5h0M244.9 249.5h0M235.6 255.7h0M301.4 235.4h0M276.6 234.8h0M256.9 271.0h0M236.9 283.6h0M271.5 236.6h0M230.0 260.0h0M264.8 263.3h0M303.4 239.2h0M221.5 287.0h0M268.1 261.3h0M219.4 283.5h0M234.4 284.5h0M222.5 266.5h0M243.2 250.8h0M220.1 270.5h0M223.6 265.6h0M249.7 277.1h0M291.0 233.4h0M264.3 239.4h0M217.7 277.9h0M249.8 246.8h0M221.5 268.4h0M248.7 248.0h0M228.8 285.7h0M295.8 234.4h0M239.3 253.4h0M253.8 245.1h0M246.9 249.1h0M231.2 285.2h0M231.7 259.6h0M218.9 273.1h0M256.1 244.1h0M233.4 258.2h0M219.9 271.5h0M220.6 283.8h0M244.9 250.4h0M229.8 284.9h0M234.4 257.3h0M258.1 243.0h0M220.2 281.9h0M224.9 285.4h0M220.7 270.9h0M275.1 235.6h0M235.8 256.7h0M224.1 285.5h0M258.8 242.5h0M220.2 281.4h0M221.3 285.1h0M250.8 246.9h0M222.8 285.6h0M223.1 267.5h0M303.1 237.2h0M220.7 281.6h0M222.4 284.5h0M226.5 284.8h0M221.2 282.0h0M224.5 284.3h0M222.3 283.0h0M229.6 261.6h0M301.0 236.2h0M218.7 274.8h0M225.8 264.3h0M219.0 278.4h0M285.4 233.6h0M218.5 276.9h0M225.9 284.4h0M223.7 267.4h0M220.6 280.0h0M243.1 252.5h0M250.0 248.2h0M233.1 284.0h0M228.0 262.9h0M242.7 253.1h0M238.0 255.8h0M227.4 263.3h0M220.0 278.9h0M234.5 258.7h0M253.6 246.1h0M240.3 254.6h0M302.3 237.4h0M232.1 284.0h0M226.4 284.2h0M218.9 276.7h0M260.4 242.0h0M231.1 261.0h0M222.8 268.8h0M235.5 258.1h0M238.6 256.0h0M257.1 244.0h0M302.5 238.4h0M244.5 279.3h0M221.9 280.4h0M248.3 249.5h0M224.6 282.6h0M230.5 284.0h0M292.4 233.9h0M288.2 233.3h0M255.7 245.1h0M226.4 264.9h0M229.1 283.9h0M233.0 260.0h0M286.2 252.0h0M224.9 266.9h0M225.6 282.8h0M243.6 280.0h0M219.5 275.6h0M244.6 252.5h0M240.2 255.3h0M225.8 266.2h0M224.0 268.7h0M292.1 234.2h0M301.5 240.7h0M263.1 240.8h0M222.3 270.5h0M252.8 246.9h0M242.4 254.2h0M221.0 272.4h0M228.0 264.2h0M292.1 248.6h0M281.3 234.5h0M294.0 234.4h0M238.7 282.1h0M220.6 273.4h0M251.1 248.4h0M249.6 249.6h0M246.4 251.5h0M243.5 253.7h0M237.6 257.6h0M238.9 256.6h0M261.6 241.9h0M266.0 239.5h0M288.7 250.7h0M250.4 276.1h0M281.9 234.4h0M255.3 272.0h0M232.3 261.1h0M241.4 255.1h0M238.1 281.9h0M269.6 260.4h0M272.9 236.6h0M258.0 269.6h0M278.8 255.3h0M267.5 239.0h0M247.6 277.6h0M221.0 277.9h0M230.1 263.1h0M220.6 274.5h0M289.5 234.0h0M270.9 237.6h0M252.5 247.9h0M246.7 251.9h0M283.4 234.4h0M296.3 235.5h0M297.0 244.7h0M222.5 279.6h0M259.8 267.6h0M256.4 245.6h0M229.5 283.0h0M236.1 282.2h0M232.9 282.3h0M223.7 270.5h0M264.9 240.3h0M297.3 244.0h0M241.3 280.7h0M224.0 280.7h0M227.2 282.6h0M272.1 259.0h0M259.9 243.6h0M222.7 272.0h0M298.7 236.5h0M286.1 234.3h0M237.5 281.4h0M297.2 235.9h0M251.1 249.7h0M279.2 235.6h0M250.6 275.5h0M233.9 281.9h0M299.9 237.4h0M228.0 265.5h0M263.2 241.8h0"/><path stroke="#bde2ee" d="M299.5 242.2h0M220.9 276.6h0M281.4 253.8h0M277.4 255.9h0M275.6 257.0h0M259.1 267.8h0M258.8 244.6h0M277.0 236.0h0M269.0 239.0h0M234.9 260.4h0M248.3 251.4h0M256.0 246.3h0M273.3 258.2h0M222.1 277.8h0M223.5 279.7h0M224.9 269.3h0M277.6 235.8h0M260.9 266.2h0M227.7 266.5h0M222.2 273.5h0M231.5 262.8h0M237.4 259.0h0M253.9 247.8h0M300.7 239.5h0M240.1 280.4h0M231.5 281.9h0M282.0 235.4h0M244.7 254.4h0M255.1 247.5h0M239.5 280.6h0M298.8 237.5h0M272.2 238.1h0M230.7 264.2h0M287.3 234.8h0M225.9 281.2h0M250.0 250.9h0M261.4 243.7h0M287.9 235.0h0M249.3 275.4h0M229.1 282.0h0M266.3 261.3h0M270.2 239.1h0M284.1 235.4h0M297.4 236.8h0M299.9 240.1h0M246.3 276.9h0M280.7 236.0h0M232.5 281.6h0M235.5 281.1h0M286.3 250.8h0M236.0 260.6h0M237.3 259.4h0M257.0 246.3h0M260.3 266.1h0M299.4 241.0h0M285.6 251.5h0M295.4 245.0h0"/><path stroke="#cae8f2" d="M284.4 252.0h0M285.7 235.5h0M232.6 263.0h0M243.0 256.0h0M231.5 281.4h0M222.1 276.6h0M254.5 271.4h0M288.9 249.4h0M227.4 267.7h0M262.3 264.2h0M247.8 276.0h0M295.0 236.3h0M240.8 257.5h0M242.6 256.4h0M252.8 249.7h0M299.6 239.2h0M226.9 281.2h0M287.3 235.6h0M265.5 241.6h0M229.6 281.3h0M266.5 240.8h0M289.7 235.7h0M234.7 261.9h0M239.1 258.9h0M240.3 258.0h0M246.7 254.0h0M244.9 255.1h0M248.2 252.8h0M252.3 273.2h0M273.7 238.0h0M234.1 262.5h0M243.2 256.6h0M296.0 244.2h0M244.6 277.7h0M228.1 267.3h0M225.8 270.2h0M241.6 278.9h0M256.5 269.0h0M265.1 241.8h0"/><path stroke="#d8eff6" d="M263.4 243.2h0M237.5 280.0h0M224.4 272.1h0M240.1 279.5h0M249.8 252.0h0M234.0 280.3h0M295.2 237.2h0M227.1 268.9h0M292.9 236.6h0M275.3 256.0h0M279.5 254.2h0M228.7 281.2h0M273.5 257.0h0M269.3 240.2h0M247.9 253.7h0M254.2 249.3h0M244.0 277.7h0M224.0 273.1h0M260.1 245.3h0M276.2 237.6h0M294.9 244.4h0M238.3 259.8h0M274.7 238.0h0M260.9 264.7h0M238.7 279.4h0M223.1 275.0h0M264.8 261.3h0M295.6 237.7h0M255.3 269.6h0M254.8 270.0h0M251.3 251.5h0M276.1 255.7h0M253.0 250.6h0"/><path stroke="#e3f4f2" d="M292.1 247.1h0M247.6 275.5h0M251.0 273.5h0M289.4 248.4h0M291.3 236.4h0M271.2 257.9h0M259.0 246.6h0M235.9 261.8h0M224.4 278.1h0M277.5 237.7h0M255.4 248.8h0M226.4 270.7h0M292.7 246.6h0M233.4 280.0h0M258.5 266.6h0M296.9 242.0h0M236.6 279.6h0M268.1 240.8h0M230.6 265.9h0M223.6 276.7h0M225.9 279.0h0M240.9 278.3h0M296.9 238.7h0M223.7 274.9h0M256.5 248.3h0M263.2 262.7h0M282.4 252.1h0M289.2 236.4h0M231.9 265.1h0M225.6 278.6h0M227.8 269.2h0M265.8 260.5h0M272.2 239.3h0"/><path stroke="#ebf7e4" d="M252.5 272.0h0M234.5 279.3h0M256.5 268.0h0M269.7 258.3h0M279.6 237.4h0M225.2 272.9h0M251.1 252.7h0M263.4 262.1h0M284.6 237.0h0M229.4 267.3h0M286.8 249.4h0M267.7 259.5h0M240.1 260.1h0M243.2 257.9h0M229.0 280.1h0M226.1 271.9h0M297.4 239.8h0M283.9 250.9h0M280.8 237.4h0M258.6 247.7h0M271.1 257.3h0M250.0 253.4h0M295.5 238.6h0M261.9 244.8h0M226.9 279.2h0M286.9 237.1h0M233.1 265.0h0M239.3 278.4h0M237.3 262.1h0M246.5 256.0h0"/><path stroke="#f3fad5" d="M287.9 237.1h0M247.5 255.5h0M225.0 276.8h0M292.8 238.0h0M285.4 250.1h0M294.6 238.3h0M261.0 263.3h0M273.0 239.4h0M241.8 277.5h0M278.6 253.3h0M229.5 268.4h0M254.4 269.6h0M236.6 263.0h0M242.5 259.1h0M295.4 242.2h0M226.9 278.3h0M254.1 270.1h0M237.2 278.5h0M253.0 251.9h0M296.3 240.3h0M292.5 245.4h0M275.8 238.4h0M228.6 270.0h0M254.3 251.0h0M238.9 261.5h0M242.1 259.7h0M256.5 249.4h0M244.9 257.7h0M246.5 256.7h0M274.4 239.1h0M235.7 278.4h0M231.4 278.9h0M267.7 258.8h0M232.0 266.3h0M244.4 257.9h0M233.8 278.5h0M234.8 264.7h0M230.0 279.0h0M224.9 275.5h0M295.2 242.1h0M290.2 237.4h0M293.2 238.4h0M285.9 237.3h0"/><path stroke="#fbfdc6" d="M233.2 278.3h0M232.8 265.8h0M291.3 238.1h0M237.5 263.1h0M232.1 278.4h0M235.7 264.6h0M294.1 243.0h0M243.5 276.3h0M259.8 263.9h0M282.8 251.2h0M251.0 254.0h0M244.6 276.0h0M228.9 278.4h0M226.6 276.9h0M227.7 272.3h0M251.6 271.8h0M290.1 247.0h0M231.8 267.5h0M240.9 261.1h0M227.7 273.2h0M282.6 237.9h0M253.7 252.5h0M230.3 278.0h0M256.0 250.7h0M261.6 246.1h0M232.5 267.4h0M256.8 266.4h0M234.7 266.1h0M294.2 240.2h0M247.9 256.7h0M228.9 272.1h0M271.7 256.4h0M227.2 275.4h0M271.6 240.5h0M228.5 272.9h0M241.5 261.1h0M228.8 277.0h0M230.1 270.8h0M237.7 264.2h0M275.6 254.4h0"/><path stroke="#fffbb9" d="M232.0 269.1h0M229.9 276.7h0M228.8 275.0h0M231.3 276.8h0M239.5 262.7h0M229.9 271.9h0M278.4 253.0h0M249.8 255.5h0M280.5 251.9h0M260.3 246.9h0M230.2 274.1h0M231.4 270.3h0M243.4 259.9h0M247.0 274.7h0M230.5 275.0h0M233.6 277.1h0M231.0 275.3h0M234.5 267.3h0M288.1 248.1h0M233.7 268.8h0M252.6 253.8h0M231.6 271.4h0M279.6 238.7h0M260.1 263.4h0M293.2 240.9h0M262.6 245.3h0M236.1 266.6h0M240.6 262.6h0M293.1 241.7h0M255.6 267.7h0M251.6 255.0h0M242.4 276.4h0"/><path stroke="#fff3ad" d="M252.0 271.0h0M245.3 275.0h0M231.4 274.0h0M279.8 252.2h0M234.3 276.4h0M292.5 243.5h0M247.0 258.5h0M270.9 240.9h0M243.7 261.2h0M236.5 266.9h0M239.3 264.2h0M287.4 248.2h0M237.6 266.1h0M233.5 270.4h0M283.4 238.6h0M277.4 238.9h0M235.6 276.6h0M267.4 242.4h0M265.1 259.5h0M243.8 275.5h0M249.1 272.9h0M264.9 244.2h0M291.0 239.3h0M251.8 255.6h0M284.9 238.5h0M233.2 271.5h0M239.8 276.8h0M270.0 241.5h0M233.2 275.1h0M253.9 254.0h0M245.1 260.3h0M234.1 270.5h0"/><path stroke="#feeba1" d="M281.6 250.9h0M258.4 249.3h0M232.6 274.1h0M249.7 257.6h0M256.8 251.0h0M234.9 269.5h0M270.9 256.1h0M291.1 244.9h0M272.9 255.1h0M236.9 276.4h0M291.9 243.0h0M266.1 243.7h0M236.1 268.5h0M258.6 263.9h0M234.4 275.4h0M291.1 239.9h0M248.6 258.3h0M275.9 253.5h0M255.6 253.0h0M273.5 240.4h0M260.4 248.2h0M244.6 261.7h0M263.3 260.1h0M269.3 256.7h0"/><path stroke="#fee395" d="M262.0 261.0h0M241.0 264.1h0M271.4 255.3h0M242.4 263.0h0M237.6 267.5h0M239.3 276.3h0M246.2 274.0h0M252.7 269.7h0M249.9 258.0h0M253.9 255.0h0M265.7 258.6h0M287.3 239.1h0M250.9 257.4h0M285.7 248.6h0M237.1 268.5h0M289.3 239.4h0M267.0 257.4h0M243.9 262.4h0M239.7 265.8h0M262.4 246.3h0M247.5 272.9h0"/><path stroke="#fed889" d="M234.2 272.7h0M250.4 270.9h0M246.9 260.4h0M261.1 248.1h0M257.3 264.1h0M273.8 254.0h0M288.9 246.2h0M288.9 239.3h0M259.4 249.4h0M235.9 275.2h0M234.6 274.0h0M269.4 255.9h0M255.8 253.4h0M258.1 251.1h0M290.9 242.1h0M240.2 266.2h0M235.7 271.1h0M242.6 263.9h0M276.7 239.9h0M255.6 265.6h0M283.9 249.2h0M281.4 239.6h0M282.1 239.6h0M264.1 245.7h0"/><path stroke="#fecb7d" d="M246.6 261.4h0M268.0 242.8h0M262.1 260.2h0M258.0 262.8h0M238.9 267.5h0M235.3 271.4h0M257.2 252.3h0M260.7 260.8h0M252.3 257.6h0M248.9 271.7h0M259.0 261.9h0M253.8 266.3h0M248.2 271.9h0M253.5 267.2h0M248.7 260.6h0M289.6 244.8h0M244.9 262.8h0M251.3 258.3h0M252.3 267.9h0M235.6 273.3h0M279.4 250.8h0M240.5 275.1h0M242.2 274.4h0M237.0 270.5h0M290.3 242.2h0M243.8 264.2h0M269.6 242.6h0M237.7 274.4h0M241.9 265.4h0M264.3 258.2h0M278.2 240.1h0M256.6 263.6h0"/><path stroke="#fdbf71" d="M248.3 261.1h0M244.9 272.9h0M289.3 240.3h0M255.3 255.5h0M238.9 274.5h0M254.5 257.1h0M245.5 272.7h0M238.7 269.4h0M260.3 259.9h0M240.2 267.9h0M271.4 254.7h0M249.8 260.4h0M249.7 270.2h0M251.1 268.6h0M237.1 273.6h0M268.1 256.0h0M245.9 263.7h0M252.7 259.1h0M246.2 272.0h0M254.9 263.9h0M237.0 272.2h0M256.2 263.0h0M243.4 272.9h0M251.3 267.3h0M279.8 239.9h0M249.8 269.2h0M244.0 272.3h0M254.3 264.0h0M242.0 266.8h0M240.4 268.6h0M247.0 271.0h0M238.6 273.4h0M245.4 264.3h0M253.7 259.0h0M262.4 258.6h0M258.3 260.3h0M249.9 261.5h0M251.6 260.4h0M240.3 273.7h0M281.6 240.1h0M239.2 270.6h0M287.1 240.2h0M252.3 265.4h0M247.7 263.6h0M248.2 270.1h0M249.0 262.4h0M243.9 265.9h0M241.6 273.1h0M252.1 260.4h0M245.1 265.5h0M238.5 272.6h0M241.4 268.5h0M251.1 261.3h0M255.4 262.2h0M265.7 257.2h0M251.0 266.6h0M252.2 261.1h0M246.8 264.6h0M248.3 268.8h0M256.4 260.9h0M242.6 271.9h0M252.1 265.1h0M247.7 264.6h0M254.7 259.7h0M243.5 267.3h0M244.0 270.9h0M240.7 270.5h0M253.9 262.7h0"/><path stroke="#fdb265" d="M249.7 267.0h0M245.4 270.0h0M240.3 271.6h0M246.8 268.8h0M251.2 263.0h0M246.1 266.4h0M253.4 261.5h0M252.3 262.9h0M251.2 264.5h0M284.9 239.9h0M242.0 270.6h0M249.7 264.4h0M247.7 265.8h0M242.8 269.4h0M249.7 265.6h0M245.4 269.0h0M245.1 268.0h0M247.0 268.0h0M247.6 267.3h0M255.8 260.1h0M257.2 259.8h0M256.0 258.4h0M257.1 258.9h0M259.5 259.1h0M276.6 252.2h0M289.7 244.2h0M255.9 257.2h0M265.6 244.8h0M256.7 255.1h0M280.5 250.1h0M287.1 246.3h0M257.0 254.2h0M263.3 257.4h0M275.4 241.1h0M270.5 254.4h0M261.6 257.9h0"/><path stroke="#fba25c" d="M258.1 252.7h0M288.2 245.3h0M258.1 258.0h0M256.8 257.2h0M277.0 251.3h0M269.6 243.2h0M259.6 250.8h0M282.0 249.2h0M266.2 256.0h0M284.0 240.4h0M288.4 241.1h0"/><path stroke="#f99254" d="M274.6 252.4h0M264.4 256.6h0M284.6 247.7h0M261.4 256.9h0M260.0 256.9h0M258.0 256.4h0M288.7 243.8h0"/><path stroke="#f7814c" d="M275.5 241.7h0M277.9 250.6h0M264.0 255.8h0M273.8 241.8h0M288.3 241.9h0M282.7 241.0h0M285.3 246.4h0M261.0 250.6h0"/><path stroke="#f47045" d="M272.6 242.7h0M275.5 251.4h0M262.1 249.3h0M267.4 254.5h0M258.9 255.8h0M273.2 252.4h0M280.8 248.3h0M282.8 247.4h0M260.0 256.2h0M258.7 254.3h0M263.3 255.4h0M279.0 249.4h0M263.0 248.3h0M283.7 241.5h0M287.3 244.0h0"/><path stroke="#ee603d" d="M281.1 241.7h0M286.4 245.2h0M266.0 254.3h0M286.4 242.2h0M286.0 242.2h0M264.3 247.1h0M285.8 244.8h0"/><path stroke="#e75136" d="M261.2 255.0h0M276.8 241.8h0M279.0 241.9h0M260.4 252.3h0M283.0 246.6h0M268.5 253.3h0M271.6 252.7h0M283.0 242.4h0M283.5 246.2h0M260.5 253.9h0M264.3 253.9h0M263.3 254.2h0M285.7 243.3h0M283.8 243.0h0"/><path stroke="#df412f" d="M283.6 245.3h0M282.2 242.9h0M261.9 253.7h0M280.8 246.3h0M262.0 252.8h0M269.3 252.9h0M281.4 243.7h0M282.1 244.5h0M279.8 246.8h0M267.8 244.9h0M277.7 242.6h0M280.4 244.4h0M280.1 243.9h0M262.9 252.7h0M269.0 244.7h0M270.4 252.5h0M278.4 242.9h0M278.9 247.5h0M263.6 249.6h0M263.9 248.3h0M279.4 245.6h0"/><path stroke="#d83228" d="M266.1 246.7h0M272.2 243.6h0M277.3 249.1h0M265.4 252.8h0M263.5 250.4h0M264.5 252.6h0M273.3 251.2h0M264.1 251.4h0M275.5 250.0h0M270.9 243.8h0M263.8 249.5h0"/><path stroke="#cb2527" d="M277.8 246.8h0M268.1 252.5h0M277.8 244.6h0M277.4 248.0h0M274.1 243.4h0M272.6 251.2h0M275.4 243.4h0M276.2 249.2h0"/><path stroke="#bf1927" d="M277.1 244.7h0M266.0 251.6h0M276.0 243.8h0M271.4 244.7h0M276.7 247.8h0M265.9 247.8h0M274.1 249.6h0M268.1 246.5h0M270.1 251.0h0"/><path stroke="#b20c26" d="M270.0 245.6h0M271.9 249.9h0M267.6 250.8h0M275.3 247.8h0M265.8 249.8h0M276.0 246.7h0M273.7 245.1h0M268.8 250.4h0M270.7 249.8h0M275.6 246.9h0M268.0 247.3h0M271.0 246.1h0"/><path stroke="#a50026" d="M274.3 245.3h0M267.7 250.2h0M269.6 246.9h0M268.4 247.8h0M272.9 246.2h0M272.8 248.1h0M268.7 249.3h0M271.5 246.5h0M271.5 247.8h0M270.6 248.2h0"/></g>
<line x1="202.6" y1="283.84" x2="330.6" y2="228.12" stroke="#858585" stroke-width="1.6" stroke-dasharray="4.6 3.1"/>
<rect x="259.1" y="311.0" width="73" height="10.6" fill="#fbfdea"/>
<rect x="259.1" y="321.0" width="33.4" height="10.6" fill="#fbfdea"/>
<rect x="259.1" y="331.0" width="43" height="10.6" fill="#fbfdea"/>
<text x="260.7" y="318.6" font-size="9.6">y = 0.86x + 3.66</text>
<text x="260.7" y="328.6" font-size="9.6">r : 0.64</text>
<text x="260.7" y="338.5" font-size="9.6">p &lt; 0.001</text>
<rect x="197" y="204.5" width="141" height="1" fill="#bdbdbd"/>
<rect x="197" y="344.5" width="141" height="1" fill="#9a9a9a"/>
<rect x="337" y="204.5" width="1" height="141.0" fill="#9a9a9a"/>
<rect x="197" y="204.5" width="1" height="141.0" fill="#7a7a7a"/>
<rect x="195" y="343.7" width="2" height="1" fill="#333"/>
<text x="194.4" y="348.4" font-size="10" text-anchor="end">0</text>
<rect x="195" y="310.5" width="2" height="1" fill="#333"/>
<text x="194.4" y="315.2" font-size="10" text-anchor="end">2</text>
<rect x="195" y="277.3" width="2" height="1" fill="#333"/>
<text x="194.4" y="282.0" font-size="10" text-anchor="end">4</text>
<rect x="195" y="244.1" width="2" height="1" fill="#333"/>
<text x="194.4" y="248.8" font-size="10" text-anchor="end">6</text>
<rect x="195" y="210.9" width="2" height="1" fill="#333"/>
<text x="194.4" y="215.6" font-size="10" text-anchor="end">8</text>
<rect x="203.0" y="345.5" width="1" height="2" fill="#333"/>
<text x="203.5" y="355.0" font-size="10" text-anchor="middle">0</text>
<rect x="268.6" y="345.5" width="1" height="2" fill="#333"/>
<text x="269.1" y="355.0" font-size="10" text-anchor="middle">2</text>
<rect x="334.2" y="345.5" width="1" height="2" fill="#333"/>
<text x="334.7" y="355.0" font-size="10" text-anchor="middle">4</text>
<text x="267.0" y="367.5" font-size="12.4" text-anchor="middle">Electricity</text>
<text transform="translate(184.5,274.5) rotate(-90)" font-size="12.2" text-anchor="middle">Light</text>
<text x="180.5" y="195.8" font-size="13.5">f</text>
<g fill="none" stroke-width="3.0" stroke-linecap="round"><path stroke="#3a52ad" d="M446.5 227.0h0M447.6 226.8h0M454.6 227.4h0M424.4 231.2h0M425.3 232.0h0M423.2 233.0h0M474.7 234.5h0M476.0 238.1h0M477.6 238.6h0M477.1 241.0h0M412.2 246.1h0M414.8 246.6h0M410.7 249.5h0M478.8 257.8h0M410.9 261.7h0M476.1 263.3h0M476.1 264.8h0M409.3 265.7h0M473.5 267.3h0M409.3 272.4h0M470.0 272.6h0M410.0 273.7h0M468.4 275.3h0M409.9 278.5h0M466.6 277.5h0M463.6 281.3h0M463.8 280.5h0M461.4 285.2h0M413.2 288.8h0M455.4 289.7h0M453.1 292.6h0M415.9 294.6h0M449.9 294.8h0M450.7 294.9h0M448.3 295.7h0M449.8 295.9h0M450.7 295.4h0M424.6 297.6h0M437.1 298.0h0M447.9 296.9h0M421.9 298.5h0M433.5 298.7h0M389.8 237.4h0M393.9 252.4h0M395.6 241.8h0M395.8 248.0h0M395.8 261.3h0M395.8 262.9h0M395.9 264.4h0M397.6 235.8h0M397.7 237.5h0M397.3 246.4h0M397.7 247.8h0M397.4 252.3h0M397.7 254.0h0M397.3 267.6h0M397.4 268.9h0M397.6 286.8h0M399.6 240.7h0M399.6 241.9h0M399.5 255.5h0M399.5 256.8h0M401.3 233.0h0M401.4 240.5h0M401.1 242.0h0M401.0 252.7h0M401.4 254.0h0M401.2 258.6h0M401.2 270.4h0M403.6 233.1h0M403.9 249.4h0M403.9 250.9h0M404.0 252.4h0M403.5 257.0h0M403.7 272.1h0M403.7 279.7h0M403.8 280.9h0M405.5 237.7h0M405.2 239.2h0M405.6 240.5h0M405.3 241.9h0M405.1 243.6h0M405.3 246.6h0M405.5 248.2h0M405.2 249.4h0M405.3 259.8h0M405.5 261.4h0M405.3 263.0h0M405.2 280.9h0M405.2 282.6h0M405.1 284.2h0M405.4 290.2h0M407.3 225.4h0M407.3 227.2h0M407.5 241.9h0M407.5 243.4h0M407.4 246.4h0M407.3 248.1h0M407.2 250.9h0M407.2 252.3h0M407.4 258.7h0M407.6 260.0h0M407.5 263.2h0M407.3 264.4h0M410.2 240.5h0M410.0 241.8h0M409.8 243.6h0M410.2 251.1h0M410.0 252.4h0M409.9 253.9h0M410.1 255.3h0M409.9 275.0h0M409.7 276.5h0M409.7 278.2h0M410.2 279.6h0M410.1 280.9h0M410.1 290.0h0M409.9 291.6h0M410.2 293.0h0M411.1 235.9h0M411.3 240.3h0M411.1 241.9h0M411.0 243.6h0M411.0 245.0h0M411.0 246.5h0M411.3 253.8h0M411.2 255.6h0M411.0 263.1h0M411.0 264.6h0M410.9 268.9h0M411.2 270.4h0M411.3 278.0h0M411.1 283.9h0M410.9 293.1h0M411.0 303.5h0M411.2 305.2h0M413.2 236.0h0M413.1 251.1h0M413.5 252.4h0M413.3 254.1h0M413.3 255.5h0M413.1 260.0h0M413.3 261.5h0M413.0 263.1h0M413.5 264.5h0M413.3 284.1h0M413.3 285.3h0M413.1 287.1h0M413.5 294.3h0M413.2 310.8h0M415.3 227.2h0M415.4 240.4h0M415.3 242.0h0M415.5 243.4h0M415.7 245.1h0M415.2 294.3h0M415.4 297.4h0M415.6 299.1h0M418.1 234.6h0M417.9 236.0h0M418.2 297.5h0M418.0 299.0h0M418.2 300.4h0M419.4 228.6h0M419.4 230.1h0M419.1 231.4h0M419.3 236.2h0M419.4 237.6h0M419.0 238.8h0M419.4 240.6h0M419.2 242.1h0M421.4 222.4h0M421.4 223.9h0M421.4 225.6h0M421.5 233.1h0M421.1 234.4h0M421.2 240.4h0M421.3 294.4h0M421.1 295.9h0M421.3 297.4h0M421.2 302.0h0M421.4 303.4h0M421.4 305.0h0M423.0 227.1h0M422.9 228.5h0M423.1 229.8h0M422.8 231.5h0M425.9 211.8h0M425.8 228.5h0M425.5 230.1h0M425.6 231.5h0M425.8 295.8h0M427.4 213.4h0M427.6 214.9h0M427.3 231.5h0M429.5 230.2h0M429.4 298.8h0M429.4 300.6h0M429.3 301.9h0M431.8 218.0h0M431.7 219.3h0M431.7 296.0h0M431.5 297.5h0M431.4 298.9h0M431.6 308.1h0M431.7 309.7h0M431.6 311.2h0M433.5 213.6h0M433.1 296.0h0M433.2 300.6h0M433.3 302.2h0M433.2 303.5h0M435.2 216.3h0M434.9 217.9h0M434.9 219.6h0M437.8 210.4h0M437.9 211.8h0M438.0 300.4h0M438.0 302.0h0M437.7 303.4h0M438.8 217.9h0M439.1 219.4h0M438.9 220.9h0M439.3 222.5h0M439.2 296.1h0M439.2 297.4h0M439.3 298.8h0M439.1 302.2h0M439.2 308.0h0M441.2 222.6h0M441.1 295.8h0M441.1 297.4h0M441.2 299.2h0M441.4 300.7h0M441.3 302.0h0M443.1 212.1h0M443.0 213.7h0M443.2 214.9h0M443.1 297.6h0M445.8 210.3h0M445.7 211.9h0M445.6 217.9h0M445.7 224.2h0M445.8 296.2h0M445.8 297.6h0M445.5 299.0h0M445.5 300.5h0M445.6 301.8h0M445.7 303.5h0M445.4 309.6h0M445.7 311.1h0M445.8 312.5h0M445.6 314.0h0M447.5 213.5h0M447.4 215.0h0M447.7 216.6h0M447.5 217.9h0M447.5 223.8h0M447.6 294.6h0M447.8 299.1h0M449.8 214.8h0M449.8 216.5h0M450.0 222.7h0M449.7 291.6h0M450.9 213.6h0M451.0 215.1h0M450.9 224.0h0M451.4 225.4h0M451.2 291.4h0M451.1 299.0h0M450.9 306.5h0M451.0 308.1h0M453.6 212.2h0M453.4 213.4h0M453.4 289.8h0M453.6 291.4h0M453.5 296.0h0M453.3 297.4h0M453.5 298.8h0M453.6 300.4h0M453.3 301.8h0M453.3 303.6h0M455.0 210.5h0M455.3 212.0h0M455.3 228.4h0M454.9 229.8h0M455.1 286.9h0M455.2 288.7h0M455.2 290.0h0M455.3 291.5h0M454.8 300.3h0M457.6 227.0h0M457.7 286.9h0M457.7 288.3h0M457.6 309.3h0M459.3 219.6h0M459.5 220.9h0M459.5 227.2h0M459.4 228.6h0M459.3 230.0h0M459.5 283.9h0M459.5 285.4h0M459.6 286.9h0M459.7 291.6h0M459.5 292.8h0M459.4 297.5h0M459.4 300.4h0M459.4 301.8h0M459.7 303.5h0M459.8 304.9h0M461.5 225.5h0M461.7 227.0h0M461.6 228.5h0M461.5 229.8h0M461.8 282.6h0M461.7 284.0h0M463.4 225.3h0M463.6 227.1h0M463.5 282.7h0M463.3 284.0h0M463.4 285.4h0M463.7 294.5h0M463.4 296.2h0M463.5 305.1h0M465.5 274.8h0M465.8 276.5h0M465.9 278.0h0M465.8 282.5h0M465.9 284.2h0M465.6 285.4h0M465.5 291.4h0M465.7 292.9h0M465.8 301.8h0M465.7 303.6h0M467.8 230.1h0M468.1 282.7h0M467.8 285.6h0M467.7 287.2h0M467.7 288.6h0M467.9 290.0h0M467.8 291.6h0M467.7 293.1h0M468.0 302.1h0M467.8 303.5h0M468.0 305.1h0M469.7 227.2h0M470.0 228.5h0M469.8 294.4h0M470.0 296.0h0M469.7 297.6h0M469.8 305.1h0M469.9 306.4h0M471.8 222.4h0M471.5 223.9h0M471.8 227.0h0M471.5 228.3h0M471.7 230.1h0M471.9 267.4h0M471.5 279.7h0M471.6 281.0h0M471.5 297.4h0M471.7 301.9h0M473.3 262.9h0M473.3 264.5h0M473.7 272.0h0M473.4 273.5h0M473.7 275.0h0M473.5 279.5h0M473.4 281.2h0M473.4 284.1h0M473.3 285.4h0M473.6 287.0h0M476.0 228.5h0M475.7 229.8h0M475.6 237.4h0M475.8 239.0h0M476.0 252.6h0M475.8 253.9h0M476.1 255.7h0M475.7 264.5h0M475.8 265.9h0M475.8 273.6h0M475.9 275.0h0M475.9 285.4h0M475.6 286.8h0M475.7 289.8h0M475.8 294.7h0M477.6 242.0h0M478.0 243.6h0M478.0 261.5h0M477.5 262.8h0M477.6 264.6h0M477.7 265.8h0M477.7 267.6h0M478.0 279.6h0M477.8 280.9h0M477.7 282.5h0M477.8 284.2h0M477.8 285.6h0M479.3 223.9h0M479.1 225.6h0M479.1 233.2h0M479.3 234.5h0M479.0 235.9h0M479.1 278.0h0M481.3 239.0h0M481.4 240.5h0M481.4 252.6h0M481.1 254.1h0M481.1 258.4h0M480.9 261.5h0M481.4 262.8h0M481.0 264.4h0M481.3 287.1h0M481.0 288.7h0M483.4 221.2h0M483.4 234.6h0M483.4 236.1h0M483.5 237.6h0M483.5 239.0h0M483.5 256.9h0M483.4 270.3h0M483.2 272.1h0M483.6 273.6h0M483.5 282.4h0M483.3 284.2h0M483.6 285.4h0M485.2 233.2h0M485.2 234.6h0M485.1 243.6h0M485.0 244.8h0M485.3 246.7h0M485.2 247.9h0M485.3 265.9h0M485.4 267.6h0M485.0 272.0h0M485.0 273.6h0M485.1 277.9h0M485.0 279.6h0M487.4 247.9h0M487.6 249.3h0M487.7 251.0h0M487.8 252.4h0M487.4 254.1h0M487.4 255.6h0M487.6 258.4h0M487.4 260.1h0M487.5 271.8h0M487.3 281.2h0M487.6 282.5h0M487.5 284.2h0M487.6 285.7h0M487.6 286.9h0M487.4 288.6h0M489.3 237.4h0M489.3 260.0h0M489.4 261.5h0M489.5 263.2h0M491.6 246.4h0M491.3 248.2h0M491.5 249.7h0M491.6 250.9h0M491.3 279.5h0M491.6 280.8h0M494.1 248.2h0M494.1 249.6h0M494.0 251.2h0M496.1 237.4h0M496.1 252.6h0M495.8 261.3h0M496.1 271.9h0M496.9 238.9h0M497.0 273.5h0M500.0 237.5h0M499.8 238.8h0M501.3 255.5h0M501.0 257.1h0M482.3 213.8h0M490.8 224.0h0M489.9 228.8h0M489.0 234.5h0M494.6 240.0h0M496.5 243.0h0M504.0 245.8h0M494.6 265.5h0M392.8 233.5h0M401.3 228.8h0M376.0 236.0h0M460.7 219.4h0M376.3 225.4h0M376.3 226.8h0M376.2 228.1h0M376.6 229.5h0M376.4 230.8h0M376.5 232.2h0M376.3 241.6h0M376.3 242.9h0M376.3 244.1h0M376.3 245.4h0M431.5 210.0h0M431.4 211.3h0M431.3 212.5h0M431.3 213.8h0M431.4 215.0h0M431.3 216.3h0M431.6 217.5h0M431.4 218.8h0M431.5 220.0h0M431.5 221.3h0M439.0 210.0h0M439.0 211.2h0M438.8 212.4h0M439.0 213.6h0M438.9 214.9h0M439.0 216.1h0M439.1 217.3h0M439.1 218.5h0M457.8 213.8h0M457.8 215.1h0M458.0 216.3h0M458.1 217.6h0M458.0 218.8h0M458.0 220.1h0M457.7 221.3h0M495.4 253.3h0M495.6 254.6h0M495.4 255.8h0M495.5 257.1h0M495.5 258.3h0M495.5 259.6h0M495.6 260.8h0M491.2 277.0h0M491.2 278.2h0M491.1 279.4h0M491.3 280.6h0M491.1 281.8h0M491.0 283.0h0M491.2 284.2h0M491.4 285.4h0M491.3 286.6h0M491.3 287.8h0M491.1 289.0h0M466.3 276.9h0M461.7 228.6h0M469.2 273.7h0M457.5 287.6h0M411.8 260.3h0M476.8 257.1h0M414.1 249.2h0M422.8 296.0h0M452.1 291.8h0M475.6 261.7h0M411.0 281.1h0M471.9 232.7h0M467.3 275.2h0M433.6 297.7h0M463.9 229.0h0M422.2 237.1h0"/><path stroke="#3e5eaf" d="M427.1 297.7h0M473.0 234.2h0M476.2 259.7h0M463.0 228.9h0M443.6 227.3h0M461.1 283.7h0M442.4 296.6h0M448.1 295.1h0M441.2 227.4h0M476.5 246.0h0M465.9 229.6h0M420.9 239.0h0M429.8 297.4h0M427.7 231.5h0M412.0 283.0h0M471.0 269.5h0M413.1 286.1h0M434.2 296.9h0M476.5 247.9h0M411.6 274.0h0M451.6 228.7h0M434.7 227.6h0M416.1 291.8h0M463.3 229.4h0M416.7 246.7h0M412.0 267.7h0M411.5 275.4h0M437.7 296.4h0M474.1 264.1h0M476.6 250.1h0M449.7 228.7h0M426.2 296.3h0"/><path stroke="#426ab2" d="M455.5 288.1h0M412.8 259.9h0M470.0 270.3h0M428.0 297.2h0M412.6 283.6h0M424.1 235.6h0M414.1 253.6h0M440.5 296.0h0M426.7 296.5h0M412.2 272.2h0M476.2 241.8h0M457.4 286.1h0M464.8 229.9h0M413.5 258.0h0M451.2 291.7h0M470.5 231.9h0M475.6 257.9h0M418.1 245.0h0M452.1 228.8h0M413.8 254.8h0M413.0 262.3h0M412.2 280.5h0M432.8 296.6h0M471.9 234.2h0M473.4 236.2h0M475.9 255.5h0M472.6 266.0h0M417.9 292.5h0M443.5 228.6h0M416.7 247.4h0M412.2 277.1h0M466.6 274.5h0M431.7 296.3h0M452.7 290.1h0M429.8 230.5h0M476.0 251.6h0M414.9 289.3h0M476.0 254.6h0M414.4 288.1h0M413.9 286.4h0M430.3 296.4h0M425.9 233.9h0M435.7 296.1h0M473.6 263.5h0M463.2 279.1h0M471.0 267.8h0"/><path stroke="#4676b5" d="M431.7 229.6h0M454.3 287.9h0M459.2 283.8h0M447.0 229.1h0M419.8 242.6h0M455.2 287.5h0M475.5 240.7h0M461.2 281.4h0M468.7 271.6h0M420.8 293.3h0M471.3 266.9h0M419.8 292.8h0M434.1 295.9h0M448.4 292.8h0M461.8 280.1h0M413.0 266.2h0M434.3 228.3h0M438.1 228.3h0M435.7 228.6h0M415.1 252.0h0M429.7 231.5h0M420.2 243.2h0M462.8 278.5h0M412.5 279.6h0M412.6 278.1h0M442.2 229.2h0M433.2 228.8h0M429.2 232.1h0M455.5 230.2h0M475.1 257.3h0M475.6 249.2h0M446.7 294.2h0M475.1 239.4h0M461.8 230.6h0M413.6 264.1h0M440.5 228.9h0M422.9 294.0h0M420.6 242.6h0M473.7 261.8h0M475.3 250.6h0M422.1 293.4h0M422.5 239.5h0M418.9 245.2h0M468.7 231.3h0M432.5 229.7h0M439.3 229.0h0M453.6 230.1h0M414.1 261.7h0M455.8 286.1h0M460.4 230.3h0M416.4 248.9h0M465.1 231.2h0M425.3 235.7h0M453.2 288.6h0M415.3 251.3h0M467.8 231.7h0M413.8 284.1h0M467.5 272.2h0M464.4 276.0h0M415.1 255.1h0M443.6 294.4h0M445.0 229.5h0M423.6 238.5h0M451.8 229.8h0M445.7 293.9h0M413.3 267.0h0M468.6 270.4h0M413.5 281.9h0M415.2 286.4h0M414.5 284.9h0M469.6 269.1h0M441.6 294.5h0M474.1 259.7h0M458.4 230.3h0M417.6 247.8h0M422.1 240.8h0M448.6 291.9h0M457.4 230.4h0"/><path stroke="#5285bc" d="M413.6 281.7h0M415.5 253.4h0M429.0 295.7h0M434.8 294.9h0M463.1 231.2h0M449.0 291.3h0M466.5 231.7h0M420.5 243.7h0M447.1 292.8h0M416.2 251.0h0M414.4 261.2h0M415.1 257.5h0M475.2 246.1h0M450.0 290.3h0M472.0 264.6h0M473.9 259.1h0M425.9 294.3h0M439.1 294.3h0M414.3 283.8h0M416.5 289.5h0M418.4 247.1h0M413.5 272.0h0M438.0 294.6h0M450.9 289.4h0M414.8 258.9h0M427.4 234.3h0M415.9 288.1h0M475.0 244.8h0M424.6 238.0h0M475.0 255.0h0M430.1 232.7h0M443.9 230.2h0M414.5 263.2h0M413.7 272.9h0M474.8 254.6h0M414.4 282.9h0M427.1 294.6h0M429.0 233.6h0M440.0 294.1h0M419.0 291.1h0M433.9 230.2h0M422.0 242.2h0M425.3 237.1h0M413.5 276.1h0M443.6 293.7h0M416.2 254.8h0M445.5 292.9h0M413.5 274.5h0M453.4 287.1h0M426.5 235.9h0M470.5 266.3h0M427.9 294.6h0M461.8 278.5h0M450.4 230.6h0M449.4 230.3h0M441.4 293.3h0M413.9 280.1h0M431.9 231.5h0M416.7 252.9h0M435.6 294.1h0M429.8 294.7h0M447.9 230.6h0M416.0 286.2h0M416.4 253.4h0M440.1 293.4h0M428.4 234.7h0M440.7 230.7h0M470.0 233.6h0M447.0 230.3h0M442.2 230.5h0M420.0 245.9h0M414.5 265.5h0M414.0 270.9h0M415.3 259.4h0M424.1 292.6h0M446.5 291.9h0M457.6 283.6h0M438.5 230.3h0M417.8 289.7h0M437.9 230.3h0M433.5 231.1h0M432.6 294.2h0M436.3 230.5h0M414.1 278.4h0M420.9 291.0h0M431.5 294.2h0M467.5 271.1h0M416.1 257.4h0M418.5 249.1h0M465.8 273.2h0M414.6 280.5h0M434.3 230.9h0M429.4 234.2h0M416.2 258.1h0M420.1 289.9h0M428.0 293.6h0M417.6 252.0h0M437.6 292.9h0M450.5 289.1h0M426.1 292.4h0M430.0 293.6h0M422.8 291.2h0M422.1 290.4h0M421.1 289.8h0M417.1 286.7h0M425.6 291.8h0M469.1 233.0h0M419.3 288.8h0M439.4 292.5h0M440.1 231.0h0M426.8 292.6h0M418.3 287.9h0M418.5 250.7h0M423.8 290.9h0M470.3 234.2h0M432.5 292.9h0M424.4 239.8h0M426.6 237.7h0M441.4 231.2h0M474.9 243.3h0M436.1 292.4h0M472.3 261.3h0M444.6 291.6h0M428.6 235.4h0M416.7 284.5h0M440.0 291.8h0M431.1 233.5h0M417.8 286.9h0M420.1 247.6h0M414.6 268.6h0M435.8 231.8h0M434.7 292.4h0M420.8 288.9h0M442.4 291.7h0M461.3 231.5h0M415.1 264.8h0M414.8 280.1h0M427.3 291.8h0M437.0 232.1h0M454.6 285.4h0M421.4 244.7h0M416.1 259.8h0M463.4 276.0h0M418.1 253.6h0M436.5 291.8h0M431.0 292.7h0M443.8 291.1h0M433.5 232.8h0M460.2 280.5h0M445.1 231.2h0M474.9 241.4h0M425.9 239.2h0M419.5 287.5h0M446.3 290.6h0M420.1 249.2h0M458.7 282.0h0M474.4 248.5h0M421.0 246.5h0M423.6 289.4h0M473.3 237.5h0M474.5 252.1h0M431.7 234.1h0M439.4 232.2h0M429.7 235.5h0M445.3 290.4h0M458.5 231.5h0M422.5 243.6h0"/><path stroke="#5e93c4" d="M415.0 267.3h0M451.9 287.1h0M457.5 231.5h0M448.4 289.4h0M414.8 278.7h0M431.4 292.2h0M463.9 275.2h0M417.9 285.4h0M435.4 233.2h0M424.9 290.1h0M439.7 291.1h0M428.6 291.6h0M466.5 271.7h0M444.0 231.6h0M474.1 256.5h0M416.2 262.7h0M428.5 237.1h0M434.0 291.7h0M417.6 284.1h0M422.2 244.8h0M434.5 233.5h0M457.5 282.6h0M471.6 262.6h0M425.4 240.3h0M438.0 291.1h0M433.3 291.6h0M418.7 255.1h0M416.9 282.4h0M470.5 264.5h0M447.4 231.7h0M415.0 277.2h0M449.3 231.5h0M422.8 288.3h0M451.1 231.5h0M418.0 257.2h0M421.0 248.7h0M420.1 251.5h0M449.1 288.7h0M424.4 242.1h0M472.6 259.5h0M469.2 266.8h0M469.5 266.0h0M460.5 279.1h0M416.6 280.3h0M441.1 232.4h0M455.0 284.2h0M420.3 250.7h0M459.3 232.1h0M467.5 233.4h0M439.2 233.1h0M419.3 253.6h0M441.7 289.8h0M455.5 232.1h0M458.9 280.7h0M420.9 287.1h0M428.0 238.3h0M415.6 270.2h0M420.0 252.6h0M430.3 291.0h0M446.1 231.9h0M474.1 248.0h0M424.1 288.4h0M452.4 285.7h0M421.0 249.9h0"/><path stroke="#6aa2cb" d="M454.7 284.1h0M417.1 261.7h0M416.4 279.7h0M437.8 233.6h0M450.8 286.6h0M428.6 290.6h0M467.7 269.2h0M471.6 235.5h0M443.7 289.4h0M423.5 244.0h0M453.5 232.1h0M448.0 288.5h0M473.5 255.8h0M427.0 239.9h0M415.4 271.5h0M452.9 231.9h0M416.7 264.9h0M434.4 290.7h0M466.2 270.9h0M464.5 272.9h0M446.3 289.0h0M427.5 239.5h0M466.0 233.3h0M431.2 235.8h0M469.4 234.7h0M458.8 279.9h0M433.5 290.4h0M416.1 269.1h0M429.5 290.4h0M422.0 248.2h0M433.2 234.8h0M444.4 232.6h0M435.0 234.5h0M417.5 281.2h0M426.1 288.9h0M448.9 287.7h0M415.5 274.6h0M415.4 274.2h0M445.2 288.8h0M431.0 290.6h0M473.5 252.1h0M473.6 251.5h0M418.6 258.7h0M435.8 290.2h0M418.0 282.2h0M471.1 261.1h0M417.4 261.7h0M445.9 232.6h0M440.1 289.3h0M473.3 249.9h0M465.1 233.5h0M419.0 284.2h0M423.1 246.1h0M470.2 262.9h0M427.5 289.5h0M469.6 264.0h0M432.7 235.6h0M467.3 267.9h0M416.2 271.7h0M429.5 238.1h0M425.6 242.4h0M418.1 260.3h0"/><path stroke="#77afd2" d="M472.6 237.1h0M463.7 273.7h0M416.1 276.0h0M426.5 241.6h0M438.6 289.6h0M450.3 286.0h0M441.4 233.3h0M462.5 233.1h0M449.7 232.5h0M453.5 232.5h0M461.4 276.2h0M464.7 272.1h0M416.9 265.8h0M456.5 281.4h0M419.9 284.9h0M437.7 289.7h0M441.7 288.8h0M416.8 278.7h0M471.7 258.9h0M437.7 234.7h0M462.5 274.4h0M473.3 246.8h0M473.0 254.3h0M431.1 236.9h0M421.6 285.8h0M464.9 270.8h0M455.5 281.9h0M435.9 235.0h0M417.1 267.5h0M420.0 255.9h0M460.1 233.1h0M459.6 278.2h0M420.8 253.4h0M472.5 256.0h0M458.4 233.0h0"/><path stroke="#85bbd8" d="M422.2 286.0h0M422.5 249.6h0M419.0 259.5h0M428.5 239.9h0M425.0 244.0h0M423.0 286.7h0M416.6 275.3h0M469.0 263.6h0M456.5 233.0h0M467.8 265.6h0M460.3 276.7h0M418.0 263.2h0M448.0 233.2h0M447.8 286.8h0M444.1 233.7h0M423.7 246.8h0M417.9 279.5h0M455.1 232.8h0M419.9 256.8h0M461.7 274.8h0M440.0 234.6h0M424.4 245.0h0M419.4 283.2h0M427.3 288.7h0M452.2 284.1h0M421.4 253.2h0M423.7 286.5h0M466.3 268.1h0M453.8 282.7h0M417.1 270.9h0M474.0 242.7h0M443.7 287.9h0M472.2 256.7h0M463.6 271.8h0M452.8 233.1h0M417.5 277.5h0M472.7 253.7h0M473.6 245.1h0M449.5 285.7h0M419.9 258.1h0M467.3 235.2h0M422.6 251.1h0M439.5 235.0h0M420.5 284.0h0"/><path stroke="#93c6df" d="M455.7 280.9h0M417.1 273.2h0M418.2 266.4h0M461.5 233.4h0M443.5 234.1h0M421.2 255.3h0M432.5 237.2h0M470.0 260.1h0M440.7 288.1h0M418.3 264.2h0M417.5 270.4h0M468.0 264.2h0M458.3 278.0h0M429.6 239.9h0M418.0 267.5h0M430.0 239.3h0M443.7 287.3h0M429.0 288.7h0M457.1 279.5h0M451.1 283.9h0M465.6 268.7h0M439.0 287.9h0M417.6 276.1h0M434.4 236.3h0M418.1 268.5h0M470.8 236.5h0M473.0 239.1h0M459.1 276.8h0M428.3 241.5h0M471.1 257.7h0M417.5 275.4h0M438.1 287.9h0M466.6 234.9h0M447.0 286.6h0M429.8 288.7h0M439.6 235.7h0M421.1 257.1h0M432.5 288.5h0M444.8 287.0h0M419.4 261.7h0M436.4 287.9h0M431.6 288.7h0M426.8 243.3h0M419.3 280.5h0M466.4 265.8h0M435.8 236.3h0M469.2 261.1h0M472.2 253.1h0M453.0 281.9h0M418.9 278.9h0"/><path stroke="#a1d1e5" d="M439.6 287.3h0M434.8 288.0h0M447.9 285.7h0M426.1 286.7h0M473.7 243.3h0M418.1 272.1h0M446.9 286.1h0M456.0 279.7h0M460.9 273.5h0M464.2 269.4h0M442.1 287.1h0M468.1 262.3h0M422.7 254.2h0M424.5 248.5h0M427.4 287.1h0M420.9 258.7h0M440.8 235.4h0M418.2 273.5h0M471.9 250.8h0M423.0 253.1h0M470.2 258.6h0M426.1 245.6h0M438.1 236.3h0M451.2 233.5h0M461.5 272.4h0M423.1 284.5h0M420.5 260.5h0M442.4 235.0h0M450.0 283.4h0M473.5 241.2h0M419.5 264.4h0M459.5 275.0h0M428.2 286.9h0M426.9 244.5h0M431.7 239.5h0M454.1 280.7h0M428.1 243.3h0M429.6 287.4h0M420.0 262.7h0M421.9 256.6h0M421.0 282.1h0M460.1 274.0h0M424.3 249.8h0M424.5 285.0h0M445.1 285.9h0M437.1 287.1h0M430.2 241.4h0M431.6 287.3h0M434.2 237.9h0M425.9 246.5h0M440.2 286.6h0M435.6 287.2h0M434.5 287.1h0M423.8 251.9h0M426.8 286.0h0M452.5 281.2h0M436.4 237.3h0M450.8 281.9h0M458.5 275.3h0M419.1 271.0h0M424.3 250.9h0M438.7 236.9h0M418.9 275.5h0M465.8 265.1h0M425.5 248.5h0M464.3 267.4h0M432.4 239.4h0"/><path stroke="#afdbea" d="M440.3 285.9h0M425.5 285.1h0M419.1 273.6h0M447.3 283.8h0M462.6 270.1h0M420.7 279.7h0M420.8 261.6h0M442.3 285.5h0M456.1 278.1h0M456.5 277.6h0M446.8 284.2h0M433.5 286.5h0M443.9 284.9h0M419.3 276.0h0M432.0 240.4h0M420.0 266.3h0M419.3 269.7h0M449.5 281.9h0M419.8 277.7h0M435.4 238.6h0M450.8 281.0h0M426.7 248.2h0M465.1 234.8h0M420.1 266.9h0M427.3 246.7h0M430.8 241.9h0M438.6 285.4h0M422.8 256.0h0M434.0 285.9h0M445.6 283.3h0M424.2 283.5h0M420.4 265.0h0M437.8 285.5h0M448.4 282.1h0M421.9 259.6h0M425.4 284.4h0M422.4 282.1h0M430.1 243.6h0M453.8 278.9h0M425.3 250.5h0M432.9 286.1h0M456.4 277.0h0M436.4 285.5h0M428.9 244.9h0M421.5 280.4h0M452.1 280.1h0M467.9 261.0h0M431.5 285.8h0M434.3 239.5h0M425.9 250.0h0M449.7 281.2h0M422.6 258.6h0M432.6 241.1h0M437.8 238.1h0M428.0 246.9h0M468.6 259.9h0M443.6 283.5h0M444.5 283.1h0M421.5 262.6h0M446.5 281.9h0M440.5 284.4h0M427.0 249.0h0M429.6 285.5h0M422.2 280.5h0M420.1 271.7h0M441.4 283.9h0M424.7 253.6h0M446.9 281.3h0M420.7 276.2h0M424.2 282.3h0M428.1 285.2h0M435.0 240.0h0M460.9 270.4h0M462.5 268.5h0M455.3 276.9h0M447.6 280.8h0M453.0 278.6h0M435.7 240.2h0M460.2 271.4h0"/><path stroke="#bde2ee" d="M430.0 245.3h0M423.4 281.4h0M422.0 263.2h0M425.5 252.4h0M466.6 262.7h0M442.6 283.1h0M435.6 284.7h0M453.7 277.8h0M456.7 275.7h0M458.3 272.8h0M438.0 239.0h0M431.0 244.4h0M462.1 268.7h0M460.0 270.8h0M420.9 267.8h0M450.9 279.1h0M423.7 258.5h0M421.5 265.8h0M422.0 264.1h0M421.7 277.9h0M424.9 254.2h0M443.0 282.4h0M429.7 247.1h0M420.8 268.7h0M421.1 274.0h0M424.1 256.9h0M463.0 267.2h0M440.6 237.4h0M424.3 255.7h0M437.0 284.2h0M464.1 265.4h0M428.9 247.9h0M458.4 272.3h0M421.1 270.7h0M472.5 246.0h0M471.1 252.3h0M468.2 259.7h0M432.6 284.4h0M428.3 248.9h0M426.2 283.1h0"/><path stroke="#cae8f2" d="M461.6 234.5h0M423.1 261.8h0M431.9 244.0h0M427.0 251.3h0M466.4 261.6h0M470.3 255.2h0M468.5 258.3h0M428.0 284.1h0M421.5 274.4h0M447.9 234.5h0M422.2 278.0h0M437.5 240.0h0M449.3 279.2h0M455.9 274.8h0M438.5 283.5h0M433.5 242.6h0M426.7 252.3h0M462.1 267.7h0M429.4 248.0h0M445.4 234.8h0M422.5 279.2h0M423.7 260.9h0M464.7 264.1h0M433.9 284.0h0M468.5 236.3h0M471.7 249.4h0M421.3 271.5h0M442.6 236.4h0M427.4 283.6h0M460.0 234.4h0M470.5 254.2h0M422.4 265.5h0M444.5 281.1h0M463.2 234.9h0M433.0 243.7h0"/><path stroke="#d8eff6" d="M438.8 239.4h0M469.0 256.8h0M430.4 283.8h0M456.9 272.9h0M472.4 240.0h0M434.8 241.9h0M425.4 255.3h0M426.7 253.7h0M464.9 262.7h0M428.3 250.6h0M422.2 272.9h0M471.5 238.4h0M449.8 234.6h0M446.9 235.1h0M454.0 275.8h0M455.4 234.3h0M443.2 236.5h0M426.6 282.3h0M425.0 258.2h0M422.6 267.4h0M424.5 260.2h0M450.4 234.7h0M467.4 236.7h0M451.9 277.1h0M462.4 265.5h0M422.5 276.8h0M437.5 283.0h0M446.7 279.6h0M431.4 246.7h0M429.6 249.4h0M423.5 263.8h0M453.6 234.7h0M447.7 279.0h0"/><path stroke="#e3f4f2" d="M425.1 281.1h0M452.4 234.3h0M460.0 268.3h0M450.6 277.3h0M441.4 237.9h0M461.7 266.6h0M468.0 257.5h0M422.7 269.1h0M424.0 263.0h0M425.7 257.5h0M457.1 271.8h0M443.0 280.9h0M428.2 283.1h0M449.2 278.0h0M458.4 270.0h0M444.6 236.1h0M422.7 271.2h0M431.4 283.5h0M428.1 252.5h0M431.2 248.1h0M460.1 268.0h0M440.0 239.3h0M438.9 282.4h0M455.7 273.5h0"/><path stroke="#ebf7e4" d="M470.3 238.0h0M462.4 264.6h0M453.9 275.2h0M435.9 242.3h0M450.5 277.1h0M463.3 263.0h0M439.2 240.4h0M461.9 264.8h0M441.3 281.5h0M464.7 261.5h0M467.2 258.2h0M459.0 235.0h0M470.0 251.5h0M423.0 275.4h0M457.6 270.4h0M423.6 267.4h0M435.1 243.5h0M440.2 282.1h0M422.9 272.1h0M469.2 254.7h0M454.5 273.8h0M458.5 268.9h0M457.6 235.1h0"/><path stroke="#f3fad5" d="M465.7 259.6h0M433.6 245.7h0M423.8 266.5h0M471.5 247.5h0M449.6 277.1h0M432.9 282.9h0M468.4 254.9h0M452.8 274.8h0M425.8 259.7h0M426.8 256.0h0M433.2 246.5h0M434.3 244.4h0M466.0 258.7h0M469.4 251.9h0M464.4 260.3h0M465.6 236.5h0M460.2 266.3h0M430.0 283.1h0M425.2 280.1h0M435.4 282.4h0M455.3 272.0h0M443.7 280.0h0M429.9 251.4h0M427.1 257.1h0M423.7 272.9h0M447.8 277.7h0M431.4 249.3h0M423.3 274.4h0M424.1 278.3h0"/><path stroke="#fbfdc6" d="M432.8 247.7h0M425.4 263.6h0M436.1 243.8h0M460.4 265.0h0M425.9 261.9h0M445.1 279.0h0M458.4 267.7h0M443.9 237.2h0M454.3 272.3h0M437.9 242.7h0M434.5 282.3h0M438.6 241.9h0M467.3 255.2h0M429.1 254.0h0M426.9 259.0h0M429.8 252.6h0M431.1 251.2h0M455.5 271.1h0M458.8 266.4h0M435.3 244.9h0M456.5 269.6h0M424.3 278.9h0M425.8 263.9h0M429.4 254.1h0M424.2 271.8h0M465.5 256.8h0M462.5 260.9h0M425.1 267.7h0M461.2 263.0h0M425.3 266.0h0M426.8 261.3h0M466.0 256.0h0M432.5 250.0h0M424.7 269.6h0M429.1 255.6h0M464.5 236.6h0M435.0 246.5h0M431.2 252.4h0M427.3 260.3h0M428.7 256.8h0M432.5 250.4h0M451.0 274.9h0M464.3 257.5h0M463.1 259.6h0M464.2 258.1h0M459.9 263.4h0M461.0 261.6h0M457.1 268.0h0M460.6 261.8h0M430.0 255.3h0M435.0 247.8h0M435.9 246.6h0M462.5 259.1h0M431.6 253.3h0M429.5 256.8h0M428.9 258.7h0M427.5 262.4h0M464.4 255.9h0M433.1 251.9h0M431.0 255.2h0M434.7 249.9h0M461.0 260.2h0M435.5 249.1h0M435.2 250.3h0M461.3 258.3h0M463.3 256.7h0M433.1 254.0h0"/><path stroke="#fffbb9" d="M435.0 252.9h0M436.6 251.4h0M433.2 255.2h0M429.0 260.1h0M431.5 256.5h0M436.6 248.1h0M436.9 251.6h0M435.6 253.4h0M434.9 253.9h0M430.7 258.0h0M436.4 252.8h0M459.8 258.3h0M459.5 260.4h0M436.9 248.9h0M461.6 256.9h0M437.0 253.1h0M432.4 256.7h0M439.3 281.6h0M459.1 260.1h0M460.2 257.3h0M463.0 255.7h0M437.4 248.3h0M459.0 258.8h0M424.6 270.9h0M429.9 259.9h0M429.1 261.5h0M466.9 253.3h0M458.5 261.4h0M444.7 236.9h0M434.3 255.9h0M471.8 243.7h0M458.0 264.1h0M453.0 272.5h0M457.8 263.5h0M465.7 253.8h0M438.0 243.8h0M438.1 253.3h0M426.8 265.1h0M442.6 238.6h0M452.4 273.1h0M461.0 256.1h0M431.3 259.1h0M432.7 258.2h0M438.1 246.3h0M438.1 244.4h0M434.6 256.5h0M464.7 254.0h0M425.3 268.5h0M428.6 263.7h0M444.9 278.4h0M457.6 263.6h0M458.5 257.6h0M439.3 252.0h0M454.3 270.1h0M469.2 237.9h0M423.9 277.0h0M463.5 254.0h0M426.9 266.2h0M438.5 254.1h0M431.6 259.8h0M426.7 267.1h0M467.3 237.3h0M430.2 262.0h0M457.3 261.2h0M431.7 282.3h0M446.7 277.6h0M472.2 242.3h0M455.2 268.8h0M440.2 252.2h0M428.1 264.9h0M430.9 261.2h0M429.6 263.0h0M439.3 250.5h0M436.5 256.0h0M425.6 270.1h0M456.6 265.8h0M460.2 255.7h0"/><path stroke="#fff3ad" d="M434.1 258.2h0M455.9 267.0h0M451.9 235.5h0M438.9 246.5h0M466.3 252.4h0M437.4 255.7h0M440.2 281.2h0M446.3 236.4h0M456.7 265.1h0M439.3 249.2h0M456.8 259.4h0M438.7 255.2h0M463.1 236.3h0M439.6 247.8h0M456.9 258.3h0M470.0 249.3h0M454.3 268.7h0M447.9 276.1h0M467.1 251.9h0M450.6 273.4h0M425.5 271.4h0M446.4 276.8h0M427.5 281.0h0M449.5 274.4h0M440.1 249.7h0M455.9 265.0h0"/><path stroke="#feeba1" d="M439.6 244.4h0M439.6 243.9h0M428.4 266.1h0M435.9 257.4h0M430.1 264.2h0M471.4 244.5h0M455.4 265.9h0M470.3 239.4h0M450.0 273.5h0M435.4 257.9h0M437.3 256.4h0M462.1 236.5h0M461.7 253.7h0M446.0 237.0h0M456.1 261.7h0M450.8 271.8h0M424.8 277.8h0M441.0 250.9h0M456.5 257.3h0M452.5 270.0h0M449.9 236.2h0M441.0 254.2h0M441.1 240.8h0M426.9 269.5h0M448.1 236.3h0M440.0 244.0h0"/><path stroke="#fee395" d="M463.0 252.3h0M429.4 265.6h0M437.3 281.0h0M464.5 252.0h0M443.9 277.8h0M447.3 275.5h0M455.9 236.0h0M455.7 262.8h0M456.1 258.5h0M440.3 248.5h0M433.2 261.0h0M468.4 250.4h0M433.4 260.6h0M425.3 273.8h0M429.3 281.4h0M425.1 276.8h0M469.5 249.6h0M431.9 262.7h0M436.4 281.0h0M463.1 236.9h0M440.6 246.6h0M425.3 274.7h0M445.0 277.0h0M446.8 275.4h0M454.2 267.2h0M452.5 268.9h0M459.8 236.6h0M457.9 254.8h0"/><path stroke="#fed889" d="M449.8 272.1h0M459.5 254.1h0M468.1 250.5h0M428.9 281.1h0M427.6 280.0h0M469.9 248.5h0M470.8 241.1h0M440.9 242.1h0M427.0 271.4h0M451.1 270.7h0M441.4 279.2h0M440.0 256.1h0M456.1 256.5h0M457.2 255.5h0M427.4 270.4h0M433.9 281.1h0M442.4 252.3h0M448.1 273.9h0M434.8 260.1h0M433.6 281.0h0M451.6 269.4h0M458.6 236.6h0M426.7 273.6h0M455.1 259.4h0M454.5 264.0h0M442.5 254.2h0M461.5 252.6h0M428.8 267.8h0M428.0 270.2h0M441.8 241.0h0M441.0 244.5h0M454.7 262.8h0M428.5 269.2h0"/><path stroke="#fecb7d" d="M441.6 249.6h0M465.7 237.9h0M431.0 281.2h0M437.3 258.6h0M452.9 267.1h0M443.9 238.9h0M457.2 236.3h0M431.6 264.8h0M428.5 279.9h0M453.4 266.2h0M440.6 279.2h0M441.8 250.4h0M441.5 242.3h0M426.7 278.2h0M434.2 261.8h0M435.8 260.0h0M447.0 273.9h0M466.4 250.5h0M449.5 270.8h0M441.5 243.2h0M453.8 236.5h0M439.3 257.5h0M451.7 236.5h0M441.5 256.1h0M441.7 277.8h0M441.6 244.6h0M426.4 276.2h0M453.0 266.0h0M453.9 261.2h0M445.2 238.7h0"/><path stroke="#fdbf71" d="M437.9 279.5h0M443.9 276.0h0M469.3 240.0h0M433.0 264.0h0M431.3 266.0h0M439.8 257.3h0M429.7 269.2h0M464.4 238.1h0M433.5 263.6h0M434.0 279.9h0M454.1 258.5h0M445.1 275.0h0M438.9 278.9h0M448.2 272.2h0M451.0 267.8h0M435.8 279.3h0M427.3 274.7h0M428.4 272.1h0M430.7 268.2h0M454.0 257.6h0M440.6 277.8h0M453.6 260.4h0M431.2 279.9h0M468.4 239.6h0M439.6 258.5h0M437.2 260.4h0M470.3 241.4h0M453.1 262.9h0M435.2 262.5h0M450.0 268.5h0M459.4 253.0h0M438.7 278.3h0M433.0 279.7h0M467.2 249.8h0M430.1 270.1h0M436.9 260.9h0M447.1 271.8h0M453.1 260.1h0M452.6 263.9h0M445.7 273.4h0M436.5 261.7h0M428.1 277.6h0M428.6 273.9h0M443.6 275.1h0M440.5 258.4h0M442.3 256.9h0M427.9 275.5h0M437.3 278.4h0M430.0 278.9h0M450.9 266.6h0M461.4 237.6h0M441.6 258.1h0M431.2 269.1h0M452.5 261.0h0M448.6 269.3h0M440.8 276.5h0M429.4 278.5h0M442.1 247.8h0M441.8 246.9h0M436.0 278.6h0M443.7 252.5h0M441.6 276.2h0M447.4 270.5h0M430.2 271.7h0M432.1 268.0h0M446.9 270.8h0M433.6 266.1h0M452.3 259.0h0M429.5 273.1h0M450.0 267.0h0M434.6 265.0h0M443.7 256.8h0M443.9 273.5h0M450.0 266.3h0M443.9 255.1h0M436.3 263.0h0M439.4 260.5h0M451.4 263.2h0M440.9 275.3h0M441.1 259.4h0M429.1 276.1h0M439.7 276.7h0M431.1 270.9h0M441.3 274.9h0M444.8 271.8h0"/><path stroke="#fdb265" d="M433.2 278.2h0M433.6 267.4h0M447.1 269.5h0M458.4 253.5h0M435.6 265.0h0M434.0 266.9h0M442.9 258.3h0M451.4 259.6h0M430.0 274.6h0M429.7 276.1h0M438.6 261.9h0M434.3 277.3h0M434.9 266.0h0M448.6 267.1h0M450.5 264.2h0M442.4 273.4h0M435.7 265.6h0M433.2 269.2h0M437.9 276.3h0M445.3 270.5h0M431.9 277.7h0M449.8 264.4h0M430.9 273.4h0M450.6 261.3h0M439.1 275.6h0M432.0 271.6h0M442.8 272.3h0M441.0 274.0h0M448.3 266.0h0M433.9 268.3h0M437.9 263.4h0M437.7 264.0h0M435.9 276.7h0M440.2 262.1h0M442.0 260.6h0M438.9 263.0h0M435.4 267.1h0M431.0 275.4h0M432.9 271.2h0M445.1 269.6h0M443.8 270.4h0M449.5 262.4h0M432.7 276.5h0M439.6 274.0h0M435.0 275.9h0M446.5 267.1h0M431.5 275.9h0M443.9 259.5h0M448.6 264.0h0M437.6 265.9h0M433.3 271.7h0M435.5 275.4h0M433.9 270.8h0M442.6 262.1h0M446.4 266.1h0M441.4 271.5h0M441.8 262.7h0M442.2 271.0h0M445.7 267.2h0M439.0 264.9h0M443.9 261.2h0M441.2 263.3h0M436.9 274.4h0M433.1 273.8h0M447.2 264.5h0M443.5 269.0h0M439.9 264.6h0M439.9 272.0h0M436.2 269.6h0M437.0 273.9h0M432.9 274.6h0M439.1 266.0h0M435.9 269.8h0M447.7 263.0h0M444.7 266.5h0M438.6 266.9h0M437.0 268.9h0M438.8 272.1h0M434.2 273.2h0M435.0 275.1h0M440.1 265.5h0M438.1 267.9h0M442.1 269.6h0M443.1 263.5h0M443.6 267.5h0M435.0 272.4h0M445.3 261.8h0M446.6 261.5h0M445.2 263.6h0M446.4 262.5h0M442.3 264.3h0M443.9 264.8h0M444.8 264.1h0M442.4 266.2h0M443.7 265.6h0M440.1 267.5h0M441.7 267.2h0M439.1 268.5h0M441.0 268.4h0M437.3 271.0h0M439.3 270.0h0M439.9 269.9h0M435.5 271.9h0M437.6 272.0h0M435.6 273.5h0M449.2 260.9h0M448.4 260.9h0M444.4 259.8h0M446.9 260.4h0M448.0 260.4h0M449.6 259.9h0M444.6 258.5h0M450.8 258.9h0M446.2 258.7h0M447.4 258.4h0M449.1 258.6h0M443.8 253.8h0M446.1 257.4h0M470.3 244.9h0M448.2 237.7h0M464.4 250.7h0M457.6 254.2h0M445.5 256.6h0M452.0 257.1h0M448.5 256.9h0M460.6 237.4h0M466.4 239.2h0M468.8 248.4h0M455.3 255.2h0M450.4 256.6h0M467.7 239.5h0M444.6 254.2h0M449.0 256.6h0"/><path stroke="#fba25c" d="M470.0 246.7h0M453.5 237.0h0M443.9 240.7h0M463.5 250.4h0M446.1 255.5h0M445.4 254.9h0M459.0 237.4h0M467.9 240.0h0M466.5 249.7h0"/><path stroke="#f99254" d="M452.0 255.7h0M453.9 254.9h0M444.0 241.4h0M443.5 243.3h0M456.9 237.5h0M448.4 255.3h0M470.2 243.6h0M449.5 255.3h0M449.9 237.3h0M455.5 237.3h0M461.1 250.8h0M469.7 241.9h0"/><path stroke="#f7814c" d="M443.8 251.2h0M451.4 255.0h0M444.7 241.7h0M469.3 246.0h0M466.3 239.9h0M445.0 240.6h0M443.5 249.4h0M461.2 238.7h0M446.1 239.4h0M459.5 251.3h0"/><path stroke="#f47045" d="M444.0 244.3h0M443.3 247.8h0M467.8 247.8h0M469.5 244.5h0M465.0 249.2h0M445.4 253.0h0M446.5 254.2h0M464.0 239.6h0M458.1 252.2h0M458.9 238.6h0"/><path stroke="#ee603d" d="M444.0 246.4h0M454.9 253.4h0M448.5 238.6h0M451.0 254.5h0M463.3 249.0h0M467.4 241.4h0M463.0 239.3h0M457.3 238.4h0M460.7 239.0h0M450.7 238.0h0M457.4 252.2h0M466.6 247.9h0M461.6 249.6h0M444.6 244.9h0M464.2 248.7h0M452.0 237.9h0"/><path stroke="#e75136" d="M454.1 253.5h0M468.4 243.3h0M464.4 240.6h0M462.8 248.3h0M458.9 250.5h0M462.4 240.2h0M468.1 243.6h0M444.4 246.4h0M445.1 244.0h0M467.7 246.7h0M468.0 244.8h0M455.6 252.7h0M446.1 240.8h0M448.5 254.0h0M444.5 247.4h0"/><path stroke="#df412f" d="M459.5 240.1h0M461.7 240.4h0M465.8 242.4h0M461.5 247.6h0M465.8 245.9h0M463.9 241.9h0M459.3 249.0h0M463.8 246.6h0M466.6 244.8h0M464.9 243.0h0M463.0 242.1h0M465.8 244.0h0M462.0 242.2h0M464.6 245.4h0M462.4 246.0h0M462.8 243.0h0M461.1 246.6h0M462.8 244.8h0M462.0 244.1h0M461.7 244.8h0M460.0 242.6h0M450.4 238.5h0M459.9 243.3h0M459.0 240.8h0M460.0 244.5h0M460.1 247.1h0M459.7 247.4h0M458.3 249.6h0M458.3 241.6h0M456.8 251.0h0M459.0 245.3h0M451.9 253.4h0M445.4 250.8h0M452.1 238.5h0M458.7 243.4h0M457.3 240.3h0M444.9 249.7h0M458.6 247.9h0M458.4 246.1h0"/><path stroke="#d83228" d="M449.3 238.8h0M455.5 239.3h0M453.8 239.1h0M455.4 251.3h0M449.6 253.4h0"/><path stroke="#cb2527" d="M454.2 251.8h0M451.5 253.0h0M457.2 243.7h0M446.3 251.5h0M445.9 244.4h0M456.7 242.0h0M447.3 252.6h0M447.1 252.1h0M456.6 249.5h0M457.0 246.0h0M446.6 243.3h0M455.9 241.5h0M456.4 244.7h0M447.0 242.4h0M446.0 247.4h0"/><path stroke="#bf1927" d="M447.8 240.9h0M453.6 251.5h0M456.7 247.4h0M454.4 240.7h0M456.1 248.8h0M454.9 241.0h0M446.4 245.9h0M452.2 252.0h0M456.2 245.0h0M456.0 247.8h0M455.8 246.5h0M447.7 243.0h0"/><path stroke="#b20c26" d="M446.9 249.5h0M450.0 251.9h0M454.9 243.0h0M450.0 240.9h0M449.2 251.5h0M453.0 240.9h0M454.0 249.5h0M448.0 250.4h0M448.6 242.3h0M450.3 240.9h0M449.0 242.0h0M447.3 247.1h0M454.7 243.1h0M448.2 244.4h0M454.5 248.6h0M450.8 251.2h0M447.9 249.6h0M452.2 250.5h0"/><path stroke="#a50026" d="M453.5 242.2h0M454.5 247.0h0M452.0 241.5h0M449.1 243.8h0M448.4 247.5h0M452.0 249.6h0M448.8 249.3h0M450.4 242.6h0M450.7 250.1h0M453.5 245.7h0M452.8 243.5h0M452.8 247.9h0M449.5 248.6h0M449.6 246.8h0M450.0 244.9h0M450.4 244.5h0M452.5 246.6h0M451.5 248.0h0M450.8 244.1h0M452.2 244.8h0M451.3 247.0h0"/></g>
<line x1="376.4" y1="290.30" x2="503.6" y2="232.57" stroke="#858585" stroke-width="1.6" stroke-dasharray="4.6 3.1"/>
<rect x="432.1" y="311.0" width="73" height="10.6" fill="#fbfdea"/>
<rect x="432.1" y="321.0" width="33.4" height="10.6" fill="#fbfdea"/>
<rect x="432.1" y="331.0" width="43" height="10.6" fill="#fbfdea"/>
<text x="433.7" y="318.6" font-size="9.6">y = 0.38x + 3.25</text>
<text x="433.7" y="328.6" font-size="9.6">r : 0.45</text>
<text x="433.7" y="338.5" font-size="9.6">p &lt; 0.001</text>
<rect x="370" y="204.5" width="141" height="1" fill="#bdbdbd"/>
<rect x="370" y="344.5" width="141" height="1" fill="#9a9a9a"/>
<rect x="510" y="204.5" width="1" height="141.0" fill="#9a9a9a"/>
<rect x="370" y="204.5" width="1" height="141.0" fill="#7a7a7a"/>
<rect x="368" y="343.7" width="2" height="1" fill="#333"/>
<text x="367.4" y="348.4" font-size="10" text-anchor="end">0</text>
<rect x="368" y="310.5" width="2" height="1" fill="#333"/>
<text x="367.4" y="315.2" font-size="10" text-anchor="end">2</text>
<rect x="368" y="277.3" width="2" height="1" fill="#333"/>
<text x="367.4" y="282.0" font-size="10" text-anchor="end">4</text>
<rect x="368" y="244.1" width="2" height="1" fill="#333"/>
<text x="367.4" y="248.8" font-size="10" text-anchor="end">6</text>
<rect x="368" y="210.9" width="2" height="1" fill="#333"/>
<text x="367.4" y="215.6" font-size="10" text-anchor="end">8</text>
<rect x="376.0" y="345.5" width="1" height="2" fill="#333"/>
<text x="376.5" y="355.0" font-size="10" text-anchor="middle">0</text>
<rect x="445.5" y="345.5" width="1" height="2" fill="#333"/>
<text x="446.0" y="355.0" font-size="10" text-anchor="middle">5</text>
<text x="440.0" y="367.5" font-size="12.4" text-anchor="middle">Electricity</text>
<text transform="translate(356.2,274.2) rotate(-90)" font-size="12.2" text-anchor="middle">CO<tspan font-size="8.5" dy="1.3">2</tspan></text>
<text x="351.0" y="195.8" font-size="13.5">g</text>
</g></svg>
</body></html>
